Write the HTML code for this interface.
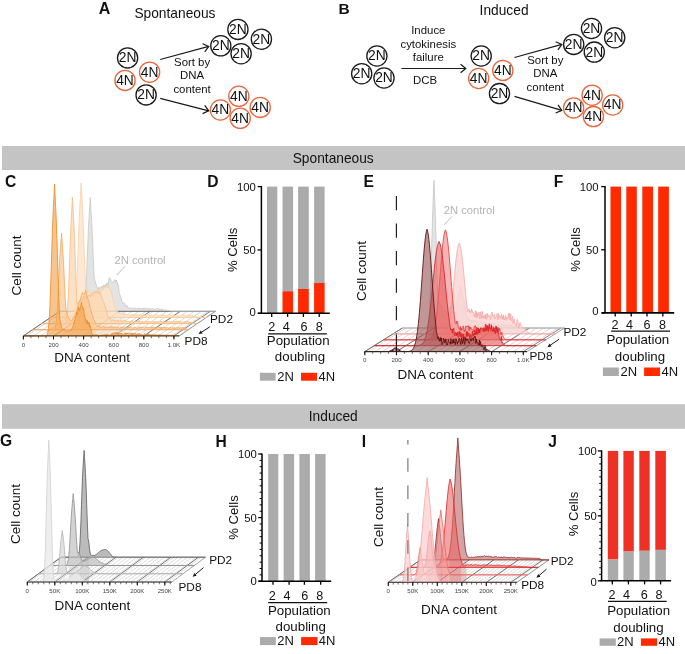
<!DOCTYPE html><html><head><meta charset="utf-8"><style>html,body{margin:0;padding:0;background:#fff;}svg{display:block;will-change:transform;} text{font-family:"Liberation Sans", sans-serif;}</style></head><body>
<svg width="685" height="654" viewBox="0 0 685 654">
<rect width="685" height="654" fill="#fff"/>
<text transform="translate(98.80,13.80)" font-size="16" text-anchor="start" font-weight="bold" fill="#111" >A</text>
<text transform="translate(134.40,17.80)" font-size="13.75" text-anchor="start" font-weight="normal" fill="#111" >Spontaneous</text>
<circle cx="127.6" cy="57.9" r="10.1" fill="none" stroke="#1a1a1a" stroke-width="1.3"/>
<text transform="translate(127.60,62.35) scale(0.960,1)" font-size="14.4" text-anchor="middle" font-weight="normal" fill="#111" >2N</text>
<circle cx="149.6" cy="72.2" r="10.1" fill="none" stroke="#e8673c" stroke-width="1.3"/>
<text transform="translate(149.60,76.65) scale(0.960,1)" font-size="14.4" text-anchor="middle" font-weight="normal" fill="#111" >4N</text>
<circle cx="125" cy="80.4" r="10.1" fill="none" stroke="#e8673c" stroke-width="1.3"/>
<text transform="translate(125.00,84.85) scale(0.960,1)" font-size="14.4" text-anchor="middle" font-weight="normal" fill="#111" >4N</text>
<circle cx="146.1" cy="94.9" r="10.1" fill="none" stroke="#1a1a1a" stroke-width="1.3"/>
<text transform="translate(146.10,99.35) scale(0.960,1)" font-size="14.4" text-anchor="middle" font-weight="normal" fill="#111" >2N</text>
<circle cx="237.9" cy="29.4" r="10.1" fill="none" stroke="#1a1a1a" stroke-width="1.3"/>
<text transform="translate(237.90,33.85) scale(0.960,1)" font-size="14.4" text-anchor="middle" font-weight="normal" fill="#111" >2N</text>
<circle cx="220.8" cy="45.8" r="10.1" fill="none" stroke="#1a1a1a" stroke-width="1.3"/>
<text transform="translate(220.80,50.25) scale(0.960,1)" font-size="14.4" text-anchor="middle" font-weight="normal" fill="#111" >2N</text>
<circle cx="241.1" cy="53.7" r="10.1" fill="none" stroke="#1a1a1a" stroke-width="1.3"/>
<text transform="translate(241.10,58.15) scale(0.960,1)" font-size="14.4" text-anchor="middle" font-weight="normal" fill="#111" >2N</text>
<circle cx="261.4" cy="39.2" r="10.1" fill="none" stroke="#1a1a1a" stroke-width="1.3"/>
<text transform="translate(261.40,43.65) scale(0.960,1)" font-size="14.4" text-anchor="middle" font-weight="normal" fill="#111" >2N</text>
<circle cx="238.8" cy="96.3" r="10.1" fill="none" stroke="#e8673c" stroke-width="1.3"/>
<text transform="translate(238.80,100.75) scale(0.960,1)" font-size="14.4" text-anchor="middle" font-weight="normal" fill="#111" >4N</text>
<circle cx="220.4" cy="110" r="10.1" fill="none" stroke="#e8673c" stroke-width="1.3"/>
<text transform="translate(220.40,114.45) scale(0.960,1)" font-size="14.4" text-anchor="middle" font-weight="normal" fill="#111" >4N</text>
<circle cx="240.2" cy="118.3" r="10.1" fill="none" stroke="#e8673c" stroke-width="1.3"/>
<text transform="translate(240.20,122.75) scale(0.960,1)" font-size="14.4" text-anchor="middle" font-weight="normal" fill="#111" >4N</text>
<circle cx="260.2" cy="107.4" r="10.1" fill="none" stroke="#e8673c" stroke-width="1.3"/>
<text transform="translate(260.20,111.85) scale(0.960,1)" font-size="14.4" text-anchor="middle" font-weight="normal" fill="#111" >4N</text>
<line x1="160.2" y1="59.5" x2="208.7" y2="46.4" stroke="#1a1a1a" stroke-width="1.2"/>
<polyline points="204.77,51.83 208.7,46.4 202.57,43.69" fill="none" stroke="#1a1a1a" stroke-width="1.2"/>
<line x1="160.2" y1="98.3" x2="208.7" y2="110.8" stroke="#1a1a1a" stroke-width="1.2"/>
<polyline points="202.61,113.58 208.7,110.8 204.71,105.42" fill="none" stroke="#1a1a1a" stroke-width="1.2"/>
<text transform="translate(192.10,65.60)" font-size="11.4" text-anchor="middle" font-weight="normal" fill="#111" >Sort by</text>
<text transform="translate(192.10,79.30)" font-size="11.4" text-anchor="middle" font-weight="normal" fill="#111" >DNA</text>
<text transform="translate(192.10,92.90)" font-size="11.4" text-anchor="middle" font-weight="normal" fill="#111" >content</text>
<text transform="translate(338.40,13.60)" font-size="15.5" text-anchor="start" font-weight="bold" fill="#111" >B</text>
<text transform="translate(479.60,14.60)" font-size="13.75" text-anchor="start" font-weight="normal" fill="#111" >Induced</text>
<circle cx="376.9" cy="56" r="10.1" fill="none" stroke="#1a1a1a" stroke-width="1.3"/>
<text transform="translate(376.90,60.45) scale(0.960,1)" font-size="14.4" text-anchor="middle" font-weight="normal" fill="#111" >2N</text>
<circle cx="361.7" cy="73.7" r="10.1" fill="none" stroke="#1a1a1a" stroke-width="1.3"/>
<text transform="translate(361.70,78.15) scale(0.960,1)" font-size="14.4" text-anchor="middle" font-weight="normal" fill="#111" >2N</text>
<circle cx="384" cy="78" r="10.1" fill="none" stroke="#1a1a1a" stroke-width="1.3"/>
<text transform="translate(384.00,82.45) scale(0.960,1)" font-size="14.4" text-anchor="middle" font-weight="normal" fill="#111" >2N</text>
<circle cx="481.2" cy="56" r="10.1" fill="none" stroke="#1a1a1a" stroke-width="1.3"/>
<text transform="translate(481.20,60.45) scale(0.960,1)" font-size="14.4" text-anchor="middle" font-weight="normal" fill="#111" >2N</text>
<circle cx="478.7" cy="78.5" r="10.1" fill="none" stroke="#e8673c" stroke-width="1.3"/>
<text transform="translate(478.70,82.95) scale(0.960,1)" font-size="14.4" text-anchor="middle" font-weight="normal" fill="#111" >4N</text>
<circle cx="502.8" cy="70.4" r="10.1" fill="none" stroke="#e8673c" stroke-width="1.3"/>
<text transform="translate(502.80,74.85) scale(0.960,1)" font-size="14.4" text-anchor="middle" font-weight="normal" fill="#111" >4N</text>
<circle cx="499.5" cy="93.6" r="10.1" fill="none" stroke="#1a1a1a" stroke-width="1.3"/>
<text transform="translate(499.50,98.05) scale(0.960,1)" font-size="14.4" text-anchor="middle" font-weight="normal" fill="#111" >2N</text>
<circle cx="591.5" cy="28.5" r="10.1" fill="none" stroke="#1a1a1a" stroke-width="1.3"/>
<text transform="translate(591.50,32.95) scale(0.960,1)" font-size="14.4" text-anchor="middle" font-weight="normal" fill="#111" >2N</text>
<circle cx="573.7" cy="44.4" r="10.1" fill="none" stroke="#1a1a1a" stroke-width="1.3"/>
<text transform="translate(573.70,48.85) scale(0.960,1)" font-size="14.4" text-anchor="middle" font-weight="normal" fill="#111" >2N</text>
<circle cx="594.3" cy="52.1" r="10.1" fill="none" stroke="#1a1a1a" stroke-width="1.3"/>
<text transform="translate(594.30,56.55) scale(0.960,1)" font-size="14.4" text-anchor="middle" font-weight="normal" fill="#111" >2N</text>
<circle cx="614.7" cy="37.7" r="10.1" fill="none" stroke="#1a1a1a" stroke-width="1.3"/>
<text transform="translate(614.70,42.15) scale(0.960,1)" font-size="14.4" text-anchor="middle" font-weight="normal" fill="#111" >2N</text>
<circle cx="592.1" cy="95.2" r="10.1" fill="none" stroke="#e8673c" stroke-width="1.3"/>
<text transform="translate(592.10,99.65) scale(0.960,1)" font-size="14.4" text-anchor="middle" font-weight="normal" fill="#111" >4N</text>
<circle cx="573.6" cy="107.9" r="10.1" fill="none" stroke="#e8673c" stroke-width="1.3"/>
<text transform="translate(573.60,112.35) scale(0.960,1)" font-size="14.4" text-anchor="middle" font-weight="normal" fill="#111" >4N</text>
<circle cx="593.4" cy="116.6" r="10.1" fill="none" stroke="#e8673c" stroke-width="1.3"/>
<text transform="translate(593.40,121.05) scale(0.960,1)" font-size="14.4" text-anchor="middle" font-weight="normal" fill="#111" >4N</text>
<circle cx="612.7" cy="105" r="10.1" fill="none" stroke="#e8673c" stroke-width="1.3"/>
<text transform="translate(612.70,109.45) scale(0.960,1)" font-size="14.4" text-anchor="middle" font-weight="normal" fill="#111" >4N</text>
<line x1="401.4" y1="68.5" x2="465.8" y2="68.5" stroke="#1a1a1a" stroke-width="1.2"/>
<polyline points="460.59,72.72 465.8,68.5 460.59,64.28" fill="none" stroke="#1a1a1a" stroke-width="1.2"/>
<line x1="514.5" y1="57.5" x2="561.8" y2="44.4" stroke="#1a1a1a" stroke-width="1.2"/>
<polyline points="557.91,49.85 561.8,44.4 555.66,41.73" fill="none" stroke="#1a1a1a" stroke-width="1.2"/>
<line x1="514.5" y1="96.4" x2="561.8" y2="110.4" stroke="#1a1a1a" stroke-width="1.2"/>
<polyline points="555.61,112.97 561.8,110.4 558.00,104.88" fill="none" stroke="#1a1a1a" stroke-width="1.2"/>
<text transform="translate(428.30,33.70)" font-size="11.4" text-anchor="middle" font-weight="normal" fill="#111" >Induce</text>
<text transform="translate(428.30,47.50)" font-size="11.4" text-anchor="middle" font-weight="normal" fill="#111" >cytokinesis</text>
<text transform="translate(428.30,60.90)" font-size="11.4" text-anchor="middle" font-weight="normal" fill="#111" >failure</text>
<text transform="translate(425.00,83.80)" font-size="11.4" text-anchor="middle" font-weight="normal" fill="#111" >DCB</text>
<text transform="translate(545.30,64.20)" font-size="11.4" text-anchor="middle" font-weight="normal" fill="#111" >Sort by</text>
<text transform="translate(545.30,77.40)" font-size="11.4" text-anchor="middle" font-weight="normal" fill="#111" >DNA</text>
<text transform="translate(545.30,90.50)" font-size="11.4" text-anchor="middle" font-weight="normal" fill="#111" >content</text>
<rect x="2" y="146" width="683" height="24" fill="#c4c4c4"/>
<text transform="translate(292.70,162.80)" font-size="13.75" text-anchor="start" font-weight="normal" fill="#111" >Spontaneous</text>
<rect x="2" y="404.2" width="683" height="24.600000000000023" fill="#c4c4c4"/>
<text transform="translate(308.80,420.90)" font-size="13.75" text-anchor="start" font-weight="normal" fill="#111" >Induced</text>
<text transform="translate(207.20,186.90)" font-size="15.6" text-anchor="start" font-weight="bold" fill="#111" >D</text>
<rect x="267" y="186.6" width="10.30" height="126.70" fill="#ababab"/>
<rect x="282.5" y="186.6" width="10.60" height="104.65" fill="#ababab"/>
<rect x="282.5" y="291.25" width="10.60" height="22.05" fill="#ff2a00"/>
<rect x="298.1" y="186.6" width="10.70" height="102.37" fill="#ababab"/>
<rect x="298.1" y="288.97" width="10.70" height="24.33" fill="#ff2a00"/>
<rect x="314.1" y="186.6" width="10.50" height="96.42" fill="#ababab"/>
<rect x="314.1" y="283.02" width="10.50" height="30.28" fill="#ff2a00"/>
<line x1="261.4" y1="186.0" x2="261.4" y2="313.3" stroke="#000" stroke-width="1.5"/>
<line x1="258.1" y1="313.3" x2="329.8" y2="313.3" stroke="#000" stroke-width="1.6"/>
<line x1="257.59999999999997" y1="313.30" x2="261.4" y2="313.30" stroke="#000" stroke-width="1.3"/>
<line x1="257.59999999999997" y1="249.95" x2="261.4" y2="249.95" stroke="#000" stroke-width="1.3"/>
<line x1="257.59999999999997" y1="186.60" x2="261.4" y2="186.60" stroke="#000" stroke-width="1.3"/>
<text transform="translate(255.80,190.50) scale(1.030,1)" font-size="11" text-anchor="end" font-weight="normal" fill="#111" >100</text>
<text transform="translate(255.80,253.85) scale(1.030,1)" font-size="11" text-anchor="end" font-weight="normal" fill="#111" >50</text>
<text transform="translate(255.80,315.70) scale(1.030,1)" font-size="11" text-anchor="end" font-weight="normal" fill="#111" >0</text>
<line x1="271.7" y1="313.3" x2="271.7" y2="316.90000000000003" stroke="#000" stroke-width="1.3"/>
<line x1="287.6" y1="313.3" x2="287.6" y2="316.90000000000003" stroke="#000" stroke-width="1.3"/>
<line x1="303.4" y1="313.3" x2="303.4" y2="316.90000000000003" stroke="#000" stroke-width="1.3"/>
<line x1="319.2" y1="313.3" x2="319.2" y2="316.90000000000003" stroke="#000" stroke-width="1.3"/>
<text transform="translate(271.70,331.00)" font-size="12.6" text-anchor="middle" font-weight="normal" fill="#111" >2</text>
<text transform="translate(286.30,331.00)" font-size="12.6" text-anchor="middle" font-weight="normal" fill="#111" >4</text>
<text transform="translate(304.00,331.00)" font-size="12.6" text-anchor="middle" font-weight="normal" fill="#111" >6</text>
<text transform="translate(319.20,331.00)" font-size="12.6" text-anchor="middle" font-weight="normal" fill="#111" >8</text>
<line x1="268.2" y1="333.9" x2="326.9" y2="333.9" stroke="#111" stroke-width="1.2"/>
<text transform="translate(298.20,345.20)" font-size="13.3" text-anchor="middle" font-weight="normal" fill="#111" >Population</text>
<text transform="translate(300.00,360.80)" font-size="13.3" text-anchor="middle" font-weight="normal" fill="#111" >doubling</text>
<rect x="259.9" y="372.8" width="15.70" height="7.90" fill="#ababab"/>
<rect x="301" y="372.8" width="16.00" height="7.90" fill="#ff2a00"/>
<text transform="translate(277.20,381.00)" font-size="13.0" text-anchor="start" font-weight="normal" fill="#111" >2N</text>
<text transform="translate(318.40,381.00)" font-size="13.0" text-anchor="start" font-weight="normal" fill="#111" >4N</text>
<text transform="translate(237.00,249.80) rotate(-90)" font-size="13.1" text-anchor="middle" font-weight="normal" fill="#111" >% Cells</text>
<text transform="translate(553.80,186.90)" font-size="15.6" text-anchor="start" font-weight="bold" fill="#111" >F</text>
<rect x="610.5" y="186.6" width="10.50" height="0.00" fill="#ababab"/>
<rect x="610.5" y="186.60" width="10.50" height="126.30" fill="#ff2a00"/>
<rect x="626.3" y="186.6" width="10.50" height="0.00" fill="#ababab"/>
<rect x="626.3" y="186.60" width="10.50" height="126.30" fill="#ff2a00"/>
<rect x="642.3" y="186.6" width="10.70" height="0.00" fill="#ababab"/>
<rect x="642.3" y="186.60" width="10.70" height="126.30" fill="#ff2a00"/>
<rect x="658.2" y="186.6" width="10.70" height="0.00" fill="#ababab"/>
<rect x="658.2" y="186.60" width="10.70" height="126.30" fill="#ff2a00"/>
<line x1="605" y1="186.0" x2="605" y2="312.9" stroke="#000" stroke-width="1.5"/>
<line x1="601.8" y1="312.9" x2="674.2" y2="312.9" stroke="#000" stroke-width="1.6"/>
<line x1="601.2" y1="312.90" x2="605" y2="312.90" stroke="#000" stroke-width="1.3"/>
<line x1="601.2" y1="249.75" x2="605" y2="249.75" stroke="#000" stroke-width="1.3"/>
<line x1="601.2" y1="186.60" x2="605" y2="186.60" stroke="#000" stroke-width="1.3"/>
<text transform="translate(598.60,190.50) scale(1.030,1)" font-size="11" text-anchor="end" font-weight="normal" fill="#111" >100</text>
<text transform="translate(598.60,253.65) scale(1.030,1)" font-size="11" text-anchor="end" font-weight="normal" fill="#111" >50</text>
<text transform="translate(598.60,315.00) scale(1.030,1)" font-size="11" text-anchor="end" font-weight="normal" fill="#111" >0</text>
<line x1="615.2" y1="312.9" x2="615.2" y2="316.5" stroke="#000" stroke-width="1.3"/>
<line x1="631.2" y1="312.9" x2="631.2" y2="316.5" stroke="#000" stroke-width="1.3"/>
<line x1="647" y1="312.9" x2="647" y2="316.5" stroke="#000" stroke-width="1.3"/>
<line x1="662.8" y1="312.9" x2="662.8" y2="316.5" stroke="#000" stroke-width="1.3"/>
<text transform="translate(615.00,328.90)" font-size="12.6" text-anchor="middle" font-weight="normal" fill="#111" >2</text>
<text transform="translate(629.50,328.90)" font-size="12.6" text-anchor="middle" font-weight="normal" fill="#111" >4</text>
<text transform="translate(647.00,328.90)" font-size="12.6" text-anchor="middle" font-weight="normal" fill="#111" >6</text>
<text transform="translate(662.50,328.90)" font-size="12.6" text-anchor="middle" font-weight="normal" fill="#111" >8</text>
<line x1="611.1" y1="331.2" x2="670" y2="331.2" stroke="#111" stroke-width="1.2"/>
<text transform="translate(637.80,344.40)" font-size="13.3" text-anchor="middle" font-weight="normal" fill="#111" >Population</text>
<text transform="translate(640.00,360.60)" font-size="13.3" text-anchor="middle" font-weight="normal" fill="#111" >doubling</text>
<rect x="602.9" y="367.5" width="15.90" height="8.50" fill="#ababab"/>
<rect x="644.1" y="367.5" width="15.90" height="8.50" fill="#ff2a00"/>
<text transform="translate(620.40,376.30)" font-size="13.0" text-anchor="start" font-weight="normal" fill="#111" >2N</text>
<text transform="translate(661.50,376.30)" font-size="13.0" text-anchor="start" font-weight="normal" fill="#111" >4N</text>
<text transform="translate(580.00,249.50) rotate(-90)" font-size="13.1" text-anchor="middle" font-weight="normal" fill="#111" >% Cells</text>
<text transform="translate(215.40,446.50)" font-size="15.6" text-anchor="start" font-weight="bold" fill="#111" >H</text>
<rect x="268.2" y="454" width="10.10" height="127.20" fill="#ababab"/>
<rect x="283.6" y="454" width="10.50" height="127.20" fill="#ababab"/>
<rect x="299.4" y="454" width="10.50" height="127.20" fill="#ababab"/>
<rect x="315.1" y="454" width="10.50" height="127.20" fill="#ababab"/>
<line x1="262" y1="453.4" x2="262" y2="581.2" stroke="#000" stroke-width="1.5"/>
<line x1="258.6" y1="581.2" x2="331.2" y2="581.2" stroke="#000" stroke-width="1.6"/>
<line x1="258.2" y1="581.20" x2="262" y2="581.20" stroke="#000" stroke-width="1.3"/>
<line x1="258.2" y1="517.60" x2="262" y2="517.60" stroke="#000" stroke-width="1.3"/>
<line x1="258.2" y1="454.00" x2="262" y2="454.00" stroke="#000" stroke-width="1.3"/>
<line x1="259.6" y1="574.84" x2="262" y2="574.84" stroke="#000" stroke-width="1.0"/>
<line x1="259.6" y1="568.48" x2="262" y2="568.48" stroke="#000" stroke-width="1.0"/>
<line x1="259.6" y1="562.12" x2="262" y2="562.12" stroke="#000" stroke-width="1.0"/>
<line x1="259.6" y1="555.76" x2="262" y2="555.76" stroke="#000" stroke-width="1.0"/>
<line x1="259.6" y1="549.40" x2="262" y2="549.40" stroke="#000" stroke-width="1.0"/>
<line x1="259.6" y1="543.04" x2="262" y2="543.04" stroke="#000" stroke-width="1.0"/>
<line x1="259.6" y1="536.68" x2="262" y2="536.68" stroke="#000" stroke-width="1.0"/>
<line x1="259.6" y1="530.32" x2="262" y2="530.32" stroke="#000" stroke-width="1.0"/>
<line x1="259.6" y1="523.96" x2="262" y2="523.96" stroke="#000" stroke-width="1.0"/>
<line x1="259.6" y1="511.24" x2="262" y2="511.24" stroke="#000" stroke-width="1.0"/>
<line x1="259.6" y1="504.88" x2="262" y2="504.88" stroke="#000" stroke-width="1.0"/>
<line x1="259.6" y1="498.52" x2="262" y2="498.52" stroke="#000" stroke-width="1.0"/>
<line x1="259.6" y1="492.16" x2="262" y2="492.16" stroke="#000" stroke-width="1.0"/>
<line x1="259.6" y1="485.80" x2="262" y2="485.80" stroke="#000" stroke-width="1.0"/>
<line x1="259.6" y1="479.44" x2="262" y2="479.44" stroke="#000" stroke-width="1.0"/>
<line x1="259.6" y1="473.08" x2="262" y2="473.08" stroke="#000" stroke-width="1.0"/>
<line x1="259.6" y1="466.72" x2="262" y2="466.72" stroke="#000" stroke-width="1.0"/>
<line x1="259.6" y1="460.36" x2="262" y2="460.36" stroke="#000" stroke-width="1.0"/>
<text transform="translate(256.80,457.90) scale(1.030,1)" font-size="11" text-anchor="end" font-weight="normal" fill="#111" >100</text>
<text transform="translate(256.80,521.50) scale(1.030,1)" font-size="11" text-anchor="end" font-weight="normal" fill="#111" >50</text>
<text transform="translate(256.80,585.10) scale(1.030,1)" font-size="11" text-anchor="end" font-weight="normal" fill="#111" >0</text>
<line x1="273" y1="581.2" x2="273" y2="584.8000000000001" stroke="#000" stroke-width="1.3"/>
<line x1="289.1" y1="581.2" x2="289.1" y2="584.8000000000001" stroke="#000" stroke-width="1.3"/>
<line x1="304.4" y1="581.2" x2="304.4" y2="584.8000000000001" stroke="#000" stroke-width="1.3"/>
<line x1="320.7" y1="581.2" x2="320.7" y2="584.8000000000001" stroke="#000" stroke-width="1.3"/>
<text transform="translate(272.20,599.80)" font-size="12.6" text-anchor="middle" font-weight="normal" fill="#111" >2</text>
<text transform="translate(287.10,599.80)" font-size="12.6" text-anchor="middle" font-weight="normal" fill="#111" >4</text>
<text transform="translate(304.70,599.80)" font-size="12.6" text-anchor="middle" font-weight="normal" fill="#111" >6</text>
<text transform="translate(319.70,599.80)" font-size="12.6" text-anchor="middle" font-weight="normal" fill="#111" >8</text>
<line x1="268.2" y1="602.7" x2="327.2" y2="602.7" stroke="#111" stroke-width="1.2"/>
<text transform="translate(299.30,615.10)" font-size="13.3" text-anchor="middle" font-weight="normal" fill="#111" >Population</text>
<text transform="translate(300.70,631.00)" font-size="13.3" text-anchor="middle" font-weight="normal" fill="#111" >doubling</text>
<rect x="260" y="637.1" width="15.80" height="8.00" fill="#ababab"/>
<rect x="301.1" y="637.1" width="16.40" height="8.00" fill="#ff2a00"/>
<text transform="translate(277.30,645.40)" font-size="13.0" text-anchor="start" font-weight="normal" fill="#111" >2N</text>
<text transform="translate(318.80,645.40)" font-size="13.0" text-anchor="start" font-weight="normal" fill="#111" >4N</text>
<text transform="translate(238.40,517.50) rotate(-90)" font-size="13.1" text-anchor="middle" font-weight="normal" fill="#111" >% Cells</text>
<text transform="translate(548.20,446.90)" font-size="15.6" text-anchor="start" font-weight="bold" fill="#111" >J</text>
<rect x="607.8" y="450.9" width="10.40" height="108.60" fill="#ee3124"/>
<rect x="607.8" y="559.50" width="10.40" height="21.30" fill="#ababab"/>
<rect x="623.4" y="450.9" width="10.40" height="100.67" fill="#ee3124"/>
<rect x="623.4" y="551.57" width="10.40" height="29.23" fill="#ababab"/>
<rect x="639.3" y="450.9" width="10.40" height="99.89" fill="#ee3124"/>
<rect x="639.3" y="550.79" width="10.40" height="30.01" fill="#ababab"/>
<rect x="655.3" y="450.9" width="10.60" height="98.98" fill="#ee3124"/>
<rect x="655.3" y="549.88" width="10.60" height="30.92" fill="#ababab"/>
<line x1="601.6" y1="450.29999999999995" x2="601.6" y2="580.8" stroke="#000" stroke-width="1.5"/>
<line x1="600.5" y1="580.8" x2="671.1" y2="580.8" stroke="#000" stroke-width="1.6"/>
<line x1="597.8000000000001" y1="580.80" x2="601.6" y2="580.80" stroke="#000" stroke-width="1.3"/>
<line x1="597.8000000000001" y1="515.85" x2="601.6" y2="515.85" stroke="#000" stroke-width="1.3"/>
<line x1="597.8000000000001" y1="450.90" x2="601.6" y2="450.90" stroke="#000" stroke-width="1.3"/>
<line x1="599.2" y1="574.30" x2="601.6" y2="574.30" stroke="#000" stroke-width="1.0"/>
<line x1="599.2" y1="567.81" x2="601.6" y2="567.81" stroke="#000" stroke-width="1.0"/>
<line x1="599.2" y1="561.31" x2="601.6" y2="561.31" stroke="#000" stroke-width="1.0"/>
<line x1="599.2" y1="554.82" x2="601.6" y2="554.82" stroke="#000" stroke-width="1.0"/>
<line x1="599.2" y1="548.32" x2="601.6" y2="548.32" stroke="#000" stroke-width="1.0"/>
<line x1="599.2" y1="541.83" x2="601.6" y2="541.83" stroke="#000" stroke-width="1.0"/>
<line x1="599.2" y1="535.33" x2="601.6" y2="535.33" stroke="#000" stroke-width="1.0"/>
<line x1="599.2" y1="528.84" x2="601.6" y2="528.84" stroke="#000" stroke-width="1.0"/>
<line x1="599.2" y1="522.34" x2="601.6" y2="522.34" stroke="#000" stroke-width="1.0"/>
<line x1="599.2" y1="509.35" x2="601.6" y2="509.35" stroke="#000" stroke-width="1.0"/>
<line x1="599.2" y1="502.86" x2="601.6" y2="502.86" stroke="#000" stroke-width="1.0"/>
<line x1="599.2" y1="496.36" x2="601.6" y2="496.36" stroke="#000" stroke-width="1.0"/>
<line x1="599.2" y1="489.87" x2="601.6" y2="489.87" stroke="#000" stroke-width="1.0"/>
<line x1="599.2" y1="483.38" x2="601.6" y2="483.38" stroke="#000" stroke-width="1.0"/>
<line x1="599.2" y1="476.88" x2="601.6" y2="476.88" stroke="#000" stroke-width="1.0"/>
<line x1="599.2" y1="470.38" x2="601.6" y2="470.38" stroke="#000" stroke-width="1.0"/>
<line x1="599.2" y1="463.89" x2="601.6" y2="463.89" stroke="#000" stroke-width="1.0"/>
<line x1="599.2" y1="457.39" x2="601.6" y2="457.39" stroke="#000" stroke-width="1.0"/>
<text transform="translate(596.90,454.80) scale(1.030,1)" font-size="11" text-anchor="end" font-weight="normal" fill="#111" >100</text>
<text transform="translate(596.90,519.75) scale(1.030,1)" font-size="11" text-anchor="end" font-weight="normal" fill="#111" >50</text>
<text transform="translate(596.90,585.60) scale(1.030,1)" font-size="11" text-anchor="end" font-weight="normal" fill="#111" >0</text>
<line x1="612.3" y1="580.8" x2="612.3" y2="584.4" stroke="#000" stroke-width="1.3"/>
<line x1="628.4" y1="580.8" x2="628.4" y2="584.4" stroke="#000" stroke-width="1.3"/>
<line x1="644.6" y1="580.8" x2="644.6" y2="584.4" stroke="#000" stroke-width="1.3"/>
<line x1="660.6" y1="580.8" x2="660.6" y2="584.4" stroke="#000" stroke-width="1.3"/>
<text transform="translate(611.90,598.90)" font-size="12.6" text-anchor="middle" font-weight="normal" fill="#111" >2</text>
<text transform="translate(626.60,598.90)" font-size="12.6" text-anchor="middle" font-weight="normal" fill="#111" >4</text>
<text transform="translate(644.30,598.90)" font-size="12.6" text-anchor="middle" font-weight="normal" fill="#111" >6</text>
<text transform="translate(659.00,598.90)" font-size="12.6" text-anchor="middle" font-weight="normal" fill="#111" >8</text>
<line x1="608" y1="601.3" x2="666.7" y2="601.3" stroke="#111" stroke-width="1.2"/>
<text transform="translate(638.60,615.30)" font-size="13.3" text-anchor="middle" font-weight="normal" fill="#111" >Population</text>
<text transform="translate(638.50,631.50)" font-size="13.3" text-anchor="middle" font-weight="normal" fill="#111" >doubling</text>
<rect x="599.6" y="638.4" width="16.20" height="7.40" fill="#ababab"/>
<rect x="640.9" y="638.4" width="16.20" height="7.40" fill="#ff2a00"/>
<text transform="translate(617.10,646.10)" font-size="13.0" text-anchor="start" font-weight="normal" fill="#111" >2N</text>
<text transform="translate(658.60,646.10)" font-size="13.0" text-anchor="start" font-weight="normal" fill="#111" >4N</text>
<text transform="translate(578.00,514.00) rotate(-90)" font-size="13.1" text-anchor="middle" font-weight="normal" fill="#111" >% Cells</text>
<text transform="translate(5.00,186.70)" font-size="15.6" text-anchor="start" font-weight="bold" fill="#111" >C</text>
<text transform="translate(21.40,265.50) rotate(-90)" font-size="13.5" text-anchor="middle" font-weight="normal" fill="#111" >Cell count</text>
<text transform="translate(92.20,361.90)" font-size="13.5" text-anchor="middle" font-weight="normal" fill="#111" >DNA content</text>
<polygon points="23.4,335.9 179.2,335.9 215.60,311.30 59.80,311.30" fill="#ffffff" stroke="none"/>
<path d="M26.85,335.9l36.40,-24.60M33.75,335.9l36.40,-24.60M40.65,335.9l36.40,-24.60M47.55,335.9l36.40,-24.60M54.45,335.9l36.40,-24.60M61.35,335.9l36.40,-24.60M68.25,335.9l36.40,-24.60M75.15,335.9l36.40,-24.60M82.05,335.9l36.40,-24.60M88.95,335.9l36.40,-24.60M95.85,335.9l36.40,-24.60M102.75,335.9l36.40,-24.60M109.65,335.9l36.40,-24.60M116.55,335.9l36.40,-24.60M123.45,335.9l36.40,-24.60M130.35,335.9l36.40,-24.60M137.25,335.9l36.40,-24.60M144.15,335.9l36.40,-24.60M151.05,335.9l36.40,-24.60M157.95,335.9l36.40,-24.60M164.85,335.9l36.40,-24.60M171.75,335.9l36.40,-24.60M178.65,335.9l36.40,-24.60" stroke="#b4b4b4" stroke-width="0.5" fill="none"/>
<path d="M23.40,335.9l36.40,-24.60M53.50,335.9l36.40,-24.60M83.60,335.9l36.40,-24.60M113.70,335.9l36.40,-24.60M143.80,335.9l36.40,-24.60M173.90,335.9l36.40,-24.60" stroke="#444" stroke-width="0.7" fill="none"/>
<line x1="23.4" y1="335.9" x2="59.80" y2="311.30" stroke="#666" stroke-width="0.6"/>
<line x1="179.2" y1="335.9" x2="215.60" y2="311.30" stroke="#666" stroke-width="0.6"/>
<polygon points="84.8,311.3 125.7,311.3 125.7,335.9 84.8,335.9" fill="#dadada" fill-opacity="0.35"/>
<polygon points="75.2,317.4 117.1,317.4 117.1,335.9 75.2,335.9" fill="#fde4c8" fill-opacity="0.35"/>
<polygon points="67.1,323.6 108.5,323.6 108.5,335.9 67.1,335.9" fill="#fcd7b0" fill-opacity="0.35"/>
<polygon points="56.5,329.8 95.4,329.8 95.4,335.9 56.5,335.9" fill="#f9c690" fill-opacity="0.35"/>
<polygon points="59.8,311.3 59.8,311.3 60.3,311.3 60.8,311.3 61.3,311.3 61.8,311.3 62.3,311.3 62.8,311.3 63.3,311.3 63.8,311.3 64.3,311.3 64.8,311.3 65.3,311.3 65.8,311.3 66.3,311.3 66.8,311.3 67.3,311.3 67.8,311.3 68.3,311.3 68.8,311.3 69.3,311.3 69.8,311.3 70.3,311.3 70.8,311.3 71.3,311.3 71.8,311.3 72.3,311.3 72.8,311.3 73.3,311.3 73.8,311.3 74.3,311.3 74.8,311.3 75.3,311.3 75.8,311.3 76.3,311.3 76.8,311.3 77.3,311.3 77.8,311.3 78.3,311.3 78.8,311.3 79.3,311.3 79.8,311.3 80.3,311.3 80.8,311.3 81.3,311.3 81.8,311.2 82.3,311.1 82.8,310.9 83.3,310.3 83.8,309.2 84.3,307.2 84.8,303.8 85.3,298.6 85.8,291.2 86.3,281.5 86.8,269.8 87.3,256.9 87.8,243.8 88.3,231.7 88.8,221.2 89.3,212.7 89.8,205.1 90.2,197.5 90.3,198.7 90.8,207.0 91.3,214.6 91.8,223.6 92.3,234.5 92.8,247.0 93.3,260.1 93.8,270.7 94.3,278.1 94.8,280.2 95.3,281.8 95.8,283.4 96.3,285.0 96.8,286.5 97.3,288.1 97.8,288.8 98.3,289.8 98.8,287.3 99.2,287.3 99.7,288.8 100.2,287.8 100.7,287.7 101.2,286.9 101.7,286.2 102.2,288.2 102.7,288.2 103.2,285.4 103.7,286.4 104.2,285.1 104.7,287.3 105.2,285.6 105.7,284.5 106.2,285.8 106.7,283.3 107.2,283.2 107.7,285.4 108.2,283.8 108.7,280.5 109.2,277.6 109.7,277.8 110.2,278.6 110.7,279.1 111.2,281.6 111.7,282.2 112.2,282.6 112.7,281.8 113.2,282.1 113.7,281.5 114.2,281.0 114.7,279.6 115.2,280.2 115.7,281.8 116.2,280.0 116.7,281.6 117.2,282.1 117.7,284.4 118.2,284.5 118.7,287.5 119.2,292.5 119.7,294.4 120.2,295.3 120.7,296.9 121.2,297.8 121.7,301.0 122.2,301.3 122.7,302.4 123.2,303.9 123.7,303.4 124.2,302.8 124.7,303.3 125.2,304.8 125.7,304.9 126.2,307.1 126.7,306.9 127.2,305.7 127.7,307.4 128.2,308.1 128.7,308.0 129.2,307.8 129.7,307.9 130.2,308.4 130.7,308.3 131.2,308.2 131.7,307.8 132.2,308.3 132.7,308.5 133.2,308.4 133.7,309.2 134.2,309.2 134.7,308.2 135.2,307.7 135.7,308.4 136.2,308.7 136.7,309.1 137.2,308.5 137.7,307.8 138.2,308.1 138.7,308.5 139.2,308.0 139.7,309.0 140.2,308.5 140.7,307.9 141.2,308.5 141.7,308.7 142.2,309.0 142.7,308.5 143.2,307.9 143.7,309.4 144.2,308.2 144.7,308.1 145.2,308.0 145.7,308.3 146.2,308.2 146.7,308.6 147.2,308.6 147.7,308.8 148.2,309.4 148.7,308.1 149.2,308.6 149.7,309.2 150.2,308.7 150.7,308.8 151.2,309.0 151.7,309.0 152.2,308.7 152.7,308.6 153.2,308.7 153.7,308.9 154.2,309.6 154.7,309.3 155.2,309.4 155.7,308.8 156.2,308.4 156.7,308.5 157.2,308.5 157.7,308.5 158.2,309.4 158.7,308.5 159.2,308.8 159.7,309.8 160.2,309.9 160.7,309.9 161.2,308.8 161.7,309.6 162.2,309.9 162.7,309.1 163.2,309.7 163.7,310.2 164.2,310.2 164.7,309.7 165.2,310.4 165.7,310.3 166.2,309.7 166.7,310.3 167.2,310.6 167.7,310.4 168.2,310.5 168.7,310.6 169.2,310.7 169.7,310.8 170.2,310.9 170.7,311.0 171.2,311.1 171.7,311.2 172.2,311.3 172.7,311.3 173.2,311.3 173.7,311.3 174.2,311.3 174.7,311.3 175.2,311.3 175.7,311.3 176.2,311.3 176.7,311.3 177.1,311.3 177.6,311.3 178.1,311.3 178.6,311.3 179.1,311.3 179.6,311.3 180.1,311.3 180.6,311.3 181.1,311.3 181.6,311.3 182.1,311.3 182.6,311.3 183.1,311.3 183.6,311.3 184.1,311.3 184.6,311.3 185.1,311.3 185.6,311.3 186.1,311.3 186.6,311.3 187.1,311.3 187.6,311.3 188.1,311.3 188.6,311.3 189.1,311.3 189.6,311.3 190.1,311.3 190.6,311.3 191.1,311.3 191.6,311.3 192.1,311.3 192.6,311.3 193.1,311.3 193.6,311.3 194.1,311.3 194.6,311.3 195.1,311.3 195.6,311.3 196.1,311.3 196.6,311.3 197.1,311.3 197.6,311.3 198.1,311.3 198.6,311.3 199.1,311.3 199.6,311.3 200.1,311.3 200.6,311.3 201.1,311.3 201.6,311.3 202.1,311.3 202.6,311.3 203.1,311.3 203.6,311.3 204.1,311.3 204.6,311.3 205.1,311.3 205.6,311.3 206.1,311.3 206.6,311.3 207.1,311.3 207.6,311.3 208.1,311.3 208.6,311.3 209.1,311.3 209.6,311.3 210.1,311.3 210.6,311.3 211.1,311.3 211.6,311.3 212.1,311.3 212.6,311.3 213.1,311.3 213.6,311.3 214.1,311.3 214.6,311.3 215.1,311.3 215.6,311.3 215.6,311.3" fill="#dadada" fill-opacity="0.75" stroke="none"/>
<line x1="59.80" y1="311.30" x2="215.60" y2="311.30" stroke="#555" stroke-width="0.9"/>
<polyline points="59.8,311.3 60.3,311.3 60.8,311.3 61.3,311.3 61.8,311.3 62.3,311.3 62.8,311.3 63.3,311.3 63.8,311.3 64.3,311.3 64.8,311.3 65.3,311.3 65.8,311.3 66.3,311.3 66.8,311.3 67.3,311.3 67.8,311.3 68.3,311.3 68.8,311.3 69.3,311.3 69.8,311.3 70.3,311.3 70.8,311.3 71.3,311.3 71.8,311.3 72.3,311.3 72.8,311.3 73.3,311.3 73.8,311.3 74.3,311.3 74.8,311.3 75.3,311.3 75.8,311.3 76.3,311.3 76.8,311.3 77.3,311.3 77.8,311.3 78.3,311.3 78.8,311.3 79.3,311.3 79.8,311.3 80.3,311.3 80.8,311.3 81.3,311.3 81.8,311.2 82.3,311.1 82.8,310.9 83.3,310.3 83.8,309.2 84.3,307.2 84.8,303.8 85.3,298.6 85.8,291.2 86.3,281.5 86.8,269.8 87.3,256.9 87.8,243.8 88.3,231.7 88.8,221.2 89.3,212.7 89.8,205.1 90.2,197.5 90.3,198.7 90.8,207.0 91.3,214.6 91.8,223.6 92.3,234.5 92.8,247.0 93.3,260.1 93.8,270.7 94.3,278.1 94.8,280.2 95.3,281.8 95.8,283.4 96.3,285.0 96.8,286.5 97.3,288.1 97.8,288.8 98.3,289.8 98.8,287.3 99.2,287.3 99.7,288.8 100.2,287.8 100.7,287.7 101.2,286.9 101.7,286.2 102.2,288.2 102.7,288.2 103.2,285.4 103.7,286.4 104.2,285.1 104.7,287.3 105.2,285.6 105.7,284.5 106.2,285.8 106.7,283.3 107.2,283.2 107.7,285.4 108.2,283.8 108.7,280.5 109.2,277.6 109.7,277.8 110.2,278.6 110.7,279.1 111.2,281.6 111.7,282.2 112.2,282.6 112.7,281.8 113.2,282.1 113.7,281.5 114.2,281.0 114.7,279.6 115.2,280.2 115.7,281.8 116.2,280.0 116.7,281.6 117.2,282.1 117.7,284.4 118.2,284.5 118.7,287.5 119.2,292.5 119.7,294.4 120.2,295.3 120.7,296.9 121.2,297.8 121.7,301.0 122.2,301.3 122.7,302.4 123.2,303.9 123.7,303.4 124.2,302.8 124.7,303.3 125.2,304.8 125.7,304.9 126.2,307.1 126.7,306.9 127.2,305.7 127.7,307.4 128.2,308.1 128.7,308.0 129.2,307.8 129.7,307.9 130.2,308.4 130.7,308.3 131.2,308.2 131.7,307.8 132.2,308.3 132.7,308.5 133.2,308.4 133.7,309.2 134.2,309.2 134.7,308.2 135.2,307.7 135.7,308.4 136.2,308.7 136.7,309.1 137.2,308.5 137.7,307.8 138.2,308.1 138.7,308.5 139.2,308.0 139.7,309.0 140.2,308.5 140.7,307.9 141.2,308.5 141.7,308.7 142.2,309.0 142.7,308.5 143.2,307.9 143.7,309.4 144.2,308.2 144.7,308.1 145.2,308.0 145.7,308.3 146.2,308.2 146.7,308.6 147.2,308.6 147.7,308.8 148.2,309.4 148.7,308.1 149.2,308.6 149.7,309.2 150.2,308.7 150.7,308.8 151.2,309.0 151.7,309.0 152.2,308.7 152.7,308.6 153.2,308.7 153.7,308.9 154.2,309.6 154.7,309.3 155.2,309.4 155.7,308.8 156.2,308.4 156.7,308.5 157.2,308.5 157.7,308.5 158.2,309.4 158.7,308.5 159.2,308.8 159.7,309.8 160.2,309.9 160.7,309.9 161.2,308.8 161.7,309.6 162.2,309.9 162.7,309.1 163.2,309.7 163.7,310.2 164.2,310.2 164.7,309.7 165.2,310.4 165.7,310.3 166.2,309.7 166.7,310.3 167.2,310.6 167.7,310.4 168.2,310.5 168.7,310.6 169.2,310.7 169.7,310.8 170.2,310.9 170.7,311.0 171.2,311.1 171.7,311.2 172.2,311.3 172.7,311.3 173.2,311.3 173.7,311.3 174.2,311.3 174.7,311.3 175.2,311.3 175.7,311.3 176.2,311.3 176.7,311.3 177.1,311.3 177.6,311.3 178.1,311.3 178.6,311.3 179.1,311.3 179.6,311.3 180.1,311.3 180.6,311.3 181.1,311.3 181.6,311.3 182.1,311.3 182.6,311.3 183.1,311.3 183.6,311.3 184.1,311.3 184.6,311.3 185.1,311.3 185.6,311.3 186.1,311.3 186.6,311.3 187.1,311.3 187.6,311.3 188.1,311.3 188.6,311.3 189.1,311.3 189.6,311.3 190.1,311.3 190.6,311.3 191.1,311.3 191.6,311.3 192.1,311.3 192.6,311.3 193.1,311.3 193.6,311.3 194.1,311.3 194.6,311.3 195.1,311.3 195.6,311.3 196.1,311.3 196.6,311.3 197.1,311.3 197.6,311.3 198.1,311.3 198.6,311.3 199.1,311.3 199.6,311.3 200.1,311.3 200.6,311.3 201.1,311.3 201.6,311.3 202.1,311.3 202.6,311.3 203.1,311.3 203.6,311.3 204.1,311.3 204.6,311.3 205.1,311.3 205.6,311.3 206.1,311.3 206.6,311.3 207.1,311.3 207.6,311.3 208.1,311.3 208.6,311.3 209.1,311.3 209.6,311.3 210.1,311.3 210.6,311.3 211.1,311.3 211.6,311.3 212.1,311.3 212.6,311.3 213.1,311.3 213.6,311.3 214.1,311.3 214.6,311.3 215.1,311.3 215.6,311.3" fill="none" stroke="#c6c6c6" stroke-width="0.8" stroke-linejoin="round"/>
<polygon points="50.7,317.4 50.7,317.4 51.2,317.4 51.7,317.4 52.2,317.4 52.7,317.4 53.2,317.4 53.7,317.4 54.2,317.4 54.7,317.4 55.2,317.4 55.7,317.4 56.2,317.4 56.7,317.4 57.2,317.4 57.7,317.4 58.2,317.4 58.7,317.4 59.2,317.4 59.7,317.4 60.2,317.4 60.7,317.4 61.2,317.4 61.7,317.4 62.2,317.4 62.7,317.4 63.2,317.4 63.7,317.4 64.2,317.4 64.7,317.4 65.2,317.4 65.7,317.4 66.2,317.4 66.7,317.4 67.2,317.4 67.7,317.4 68.2,317.4 68.7,317.4 69.2,317.4 69.7,317.4 70.2,317.4 70.7,317.4 71.2,317.4 71.7,317.4 72.2,317.4 72.7,317.2 73.2,316.9 73.7,316.3 74.2,315.1 74.7,313.0 75.2,309.5 75.7,304.3 76.2,296.8 76.7,287.0 77.2,275.1 77.7,261.4 78.2,247.0 78.7,232.8 79.2,219.9 79.7,208.9 80.2,199.7 80.7,191.4 81.1,182.9 81.2,184.3 81.7,193.5 82.2,201.8 82.7,211.4 83.2,222.9 83.7,236.2 84.2,250.5 84.7,264.8 85.2,278.2 85.7,289.7 86.2,290.8 86.7,290.5 87.2,293.3 87.7,292.8 88.2,289.9 88.7,290.5 89.2,291.0 89.7,292.5 90.1,291.7 90.6,291.9 91.1,292.2 91.6,294.0 92.1,293.3 92.6,293.7 93.1,292.5 93.6,291.4 94.1,291.4 94.6,292.6 95.1,292.8 95.6,293.3 96.1,294.0 96.6,293.8 97.1,292.1 97.6,292.3 98.1,291.9 98.6,289.8 99.1,290.8 99.6,290.5 100.1,291.4 100.6,291.9 101.1,290.6 101.6,291.0 102.1,289.4 102.6,287.4 103.1,288.3 103.6,289.8 104.1,287.0 104.6,287.1 105.1,287.1 105.6,286.3 106.1,286.6 106.6,286.3 107.1,287.7 107.6,285.2 108.1,285.1 108.6,288.0 109.1,286.7 109.6,287.7 110.1,289.5 110.6,290.3 111.1,292.0 111.6,292.0 112.1,295.1 112.6,296.0 113.1,299.5 113.6,301.8 114.1,304.1 114.6,306.4 115.1,308.3 115.6,309.1 116.1,309.8 116.6,310.6 117.1,311.2 117.6,311.7 118.1,312.4 118.6,312.0 119.1,312.4 119.6,313.7 120.1,313.9 120.6,313.3 121.1,313.7 121.6,314.2 122.1,314.7 122.6,314.6 123.1,314.0 123.6,315.0 124.1,313.7 124.6,314.9 125.1,313.8 125.6,314.9 126.1,313.8 126.6,314.3 127.1,314.7 127.6,314.7 128.1,314.5 128.6,314.7 129.1,315.2 129.6,315.5 130.1,315.0 130.6,314.2 131.1,314.8 131.6,315.8 132.1,314.4 132.6,314.6 133.1,314.3 133.6,315.6 134.1,314.6 134.6,315.8 135.1,314.8 135.6,315.5 136.1,315.5 136.6,314.4 137.1,315.8 137.6,315.0 138.1,314.4 138.6,315.5 139.1,315.6 139.6,314.4 140.1,315.2 140.6,314.7 141.1,315.9 141.6,315.3 142.1,315.7 142.6,314.8 143.1,315.9 143.6,314.3 144.1,316.0 144.6,314.7 145.1,316.0 145.6,315.6 146.1,314.6 146.6,315.8 147.1,315.7 147.6,314.8 148.1,315.4 148.6,316.0 149.1,314.3 149.6,315.8 150.1,316.0 150.6,315.5 151.1,315.0 151.6,314.7 152.1,315.9 152.6,315.5 153.1,316.0 153.6,315.3 154.1,314.7 154.6,314.8 155.1,314.5 155.6,314.8 156.1,314.6 156.6,314.9 157.1,315.3 157.6,315.7 158.1,314.9 158.6,315.6 159.1,316.0 159.6,315.3 160.1,314.6 160.6,315.9 161.1,315.1 161.6,315.5 162.1,315.2 162.6,315.9 163.1,314.4 163.6,315.7 164.1,315.1 164.6,315.4 165.1,316.2 165.6,315.2 166.1,315.9 166.6,316.1 167.1,316.1 167.6,315.9 168.0,316.0 168.5,315.1 169.0,315.3 169.5,314.5 170.0,314.6 170.5,314.4 171.0,315.8 171.5,315.4 172.0,315.8 172.5,315.2 173.0,315.1 173.5,314.8 174.0,315.0 174.5,315.8 175.0,315.5 175.5,315.3 176.0,316.3 176.5,316.2 177.0,315.6 177.5,316.1 178.0,315.0 178.5,315.9 179.0,316.1 179.5,316.0 180.0,315.9 180.5,315.9 181.0,315.4 181.5,315.5 182.0,315.8 182.5,315.2 183.0,316.0 183.5,314.7 184.0,314.6 184.5,315.0 185.0,315.6 185.5,315.4 186.0,315.3 186.5,316.3 187.0,315.6 187.5,315.4 188.0,316.1 188.5,316.2 189.0,314.9 189.5,315.7 190.0,315.5 190.5,314.8 191.0,315.5 191.5,316.2 192.0,315.0 192.5,316.2 193.0,317.0 193.5,315.9 194.0,317.0 194.5,316.7 195.0,316.5 195.5,316.6 196.0,316.7 196.5,316.8 197.0,316.9 197.5,317.0 198.0,317.1 198.5,317.2 199.0,317.3 199.5,317.4 200.0,317.4 200.5,317.4 201.0,317.4 201.5,317.4 202.0,317.4 202.5,317.4 203.0,317.4 203.5,317.4 204.0,317.4 204.5,317.4 205.0,317.4 205.5,317.4 206.0,317.4 206.5,317.4 206.5,317.4" fill="#fde4c8" fill-opacity="0.8" stroke="none"/>
<line x1="50.70" y1="317.45" x2="206.50" y2="317.45" stroke="#f7c794" stroke-width="0.9"/>
<polyline points="50.7,317.4 51.2,317.4 51.7,317.4 52.2,317.4 52.7,317.4 53.2,317.4 53.7,317.4 54.2,317.4 54.7,317.4 55.2,317.4 55.7,317.4 56.2,317.4 56.7,317.4 57.2,317.4 57.7,317.4 58.2,317.4 58.7,317.4 59.2,317.4 59.7,317.4 60.2,317.4 60.7,317.4 61.2,317.4 61.7,317.4 62.2,317.4 62.7,317.4 63.2,317.4 63.7,317.4 64.2,317.4 64.7,317.4 65.2,317.4 65.7,317.4 66.2,317.4 66.7,317.4 67.2,317.4 67.7,317.4 68.2,317.4 68.7,317.4 69.2,317.4 69.7,317.4 70.2,317.4 70.7,317.4 71.2,317.4 71.7,317.4 72.2,317.4 72.7,317.2 73.2,316.9 73.7,316.3 74.2,315.1 74.7,313.0 75.2,309.5 75.7,304.3 76.2,296.8 76.7,287.0 77.2,275.1 77.7,261.4 78.2,247.0 78.7,232.8 79.2,219.9 79.7,208.9 80.2,199.7 80.7,191.4 81.1,182.9 81.2,184.3 81.7,193.5 82.2,201.8 82.7,211.4 83.2,222.9 83.7,236.2 84.2,250.5 84.7,264.8 85.2,278.2 85.7,289.7 86.2,290.8 86.7,290.5 87.2,293.3 87.7,292.8 88.2,289.9 88.7,290.5 89.2,291.0 89.7,292.5 90.1,291.7 90.6,291.9 91.1,292.2 91.6,294.0 92.1,293.3 92.6,293.7 93.1,292.5 93.6,291.4 94.1,291.4 94.6,292.6 95.1,292.8 95.6,293.3 96.1,294.0 96.6,293.8 97.1,292.1 97.6,292.3 98.1,291.9 98.6,289.8 99.1,290.8 99.6,290.5 100.1,291.4 100.6,291.9 101.1,290.6 101.6,291.0 102.1,289.4 102.6,287.4 103.1,288.3 103.6,289.8 104.1,287.0 104.6,287.1 105.1,287.1 105.6,286.3 106.1,286.6 106.6,286.3 107.1,287.7 107.6,285.2 108.1,285.1 108.6,288.0 109.1,286.7 109.6,287.7 110.1,289.5 110.6,290.3 111.1,292.0 111.6,292.0 112.1,295.1 112.6,296.0 113.1,299.5 113.6,301.8 114.1,304.1 114.6,306.4 115.1,308.3 115.6,309.1 116.1,309.8 116.6,310.6 117.1,311.2 117.6,311.7 118.1,312.4 118.6,312.0 119.1,312.4 119.6,313.7 120.1,313.9 120.6,313.3 121.1,313.7 121.6,314.2 122.1,314.7 122.6,314.6 123.1,314.0 123.6,315.0 124.1,313.7 124.6,314.9 125.1,313.8 125.6,314.9 126.1,313.8 126.6,314.3 127.1,314.7 127.6,314.7 128.1,314.5 128.6,314.7 129.1,315.2 129.6,315.5 130.1,315.0 130.6,314.2 131.1,314.8 131.6,315.8 132.1,314.4 132.6,314.6 133.1,314.3 133.6,315.6 134.1,314.6 134.6,315.8 135.1,314.8 135.6,315.5 136.1,315.5 136.6,314.4 137.1,315.8 137.6,315.0 138.1,314.4 138.6,315.5 139.1,315.6 139.6,314.4 140.1,315.2 140.6,314.7 141.1,315.9 141.6,315.3 142.1,315.7 142.6,314.8 143.1,315.9 143.6,314.3 144.1,316.0 144.6,314.7 145.1,316.0 145.6,315.6 146.1,314.6 146.6,315.8 147.1,315.7 147.6,314.8 148.1,315.4 148.6,316.0 149.1,314.3 149.6,315.8 150.1,316.0 150.6,315.5 151.1,315.0 151.6,314.7 152.1,315.9 152.6,315.5 153.1,316.0 153.6,315.3 154.1,314.7 154.6,314.8 155.1,314.5 155.6,314.8 156.1,314.6 156.6,314.9 157.1,315.3 157.6,315.7 158.1,314.9 158.6,315.6 159.1,316.0 159.6,315.3 160.1,314.6 160.6,315.9 161.1,315.1 161.6,315.5 162.1,315.2 162.6,315.9 163.1,314.4 163.6,315.7 164.1,315.1 164.6,315.4 165.1,316.2 165.6,315.2 166.1,315.9 166.6,316.1 167.1,316.1 167.6,315.9 168.0,316.0 168.5,315.1 169.0,315.3 169.5,314.5 170.0,314.6 170.5,314.4 171.0,315.8 171.5,315.4 172.0,315.8 172.5,315.2 173.0,315.1 173.5,314.8 174.0,315.0 174.5,315.8 175.0,315.5 175.5,315.3 176.0,316.3 176.5,316.2 177.0,315.6 177.5,316.1 178.0,315.0 178.5,315.9 179.0,316.1 179.5,316.0 180.0,315.9 180.5,315.9 181.0,315.4 181.5,315.5 182.0,315.8 182.5,315.2 183.0,316.0 183.5,314.7 184.0,314.6 184.5,315.0 185.0,315.6 185.5,315.4 186.0,315.3 186.5,316.3 187.0,315.6 187.5,315.4 188.0,316.1 188.5,316.2 189.0,314.9 189.5,315.7 190.0,315.5 190.5,314.8 191.0,315.5 191.5,316.2 192.0,315.0 192.5,316.2 193.0,317.0 193.5,315.9 194.0,317.0 194.5,316.7 195.0,316.5 195.5,316.6 196.0,316.7 196.5,316.8 197.0,316.9 197.5,317.0 198.0,317.1 198.5,317.2 199.0,317.3 199.5,317.4 200.0,317.4 200.5,317.4 201.0,317.4 201.5,317.4 202.0,317.4 202.5,317.4 203.0,317.4 203.5,317.4 204.0,317.4 204.5,317.4 205.0,317.4 205.5,317.4 206.0,317.4 206.5,317.4" fill="none" stroke="#f9d0a4" stroke-width="0.8" stroke-linejoin="round"/>
<polygon points="41.6,323.6 41.6,323.6 42.1,323.6 42.6,323.6 43.1,323.6 43.6,323.6 44.1,323.6 44.6,323.6 45.1,323.6 45.6,323.6 46.1,323.6 46.6,323.6 47.1,323.6 47.6,323.6 48.1,323.6 48.6,323.6 49.1,323.6 49.6,323.6 50.1,323.6 50.6,323.6 51.1,323.6 51.6,323.6 52.1,323.6 52.6,323.6 53.1,323.6 53.6,323.6 54.1,323.6 54.6,323.6 55.1,323.6 55.6,323.6 56.1,323.6 56.6,323.6 57.1,323.6 57.6,323.6 58.1,323.6 58.6,323.6 59.1,323.6 59.6,323.6 60.1,323.6 60.6,323.6 61.1,323.6 61.6,323.6 62.1,323.6 62.6,323.6 63.1,323.6 63.6,323.6 64.1,323.5 64.6,323.4 65.1,323.0 65.6,322.3 66.1,320.9 66.6,318.4 67.1,314.3 67.6,308.0 68.1,299.3 68.6,288.0 69.1,274.7 69.6,260.3 70.1,245.9 70.6,232.7 71.1,221.5 71.6,212.4 72.1,203.9 72.4,197.2 72.6,200.6 73.1,209.4 73.6,218.1 74.1,228.4 74.6,241.0 75.1,255.0 75.6,269.6 76.1,283.5 76.6,295.5 77.1,304.2 77.6,303.5 78.1,302.8 78.6,302.1 79.1,301.4 79.6,300.6 80.1,300.8 80.5,299.5 81.0,299.8 81.5,298.7 82.0,298.3 82.5,299.8 83.0,299.7 83.5,296.7 84.0,298.3 84.5,298.2 85.0,295.7 85.5,297.2 86.0,295.9 86.5,297.0 87.0,296.3 87.5,297.7 88.0,296.1 88.5,295.2 89.0,296.2 89.5,295.3 90.0,295.2 90.5,296.9 91.0,294.4 91.5,294.7 92.0,295.3 92.5,295.9 93.0,292.9 93.5,293.9 94.0,292.8 94.5,292.0 95.0,292.3 95.5,291.4 96.0,292.8 96.5,291.2 97.0,292.4 97.5,291.0 98.0,291.4 98.5,294.1 99.0,294.1 99.5,294.0 100.0,291.8 100.5,294.2 101.0,294.9 101.5,297.2 102.0,297.8 102.5,299.5 103.0,300.9 103.5,301.5 104.0,303.1 104.5,303.6 105.0,305.9 105.5,306.7 106.0,309.7 106.5,311.2 107.0,312.7 107.5,314.3 108.0,315.8 108.5,317.3 109.0,317.8 109.5,318.2 110.0,318.0 110.5,318.3 111.0,319.3 111.5,320.7 112.0,319.9 112.5,319.7 113.0,319.8 113.5,320.5 114.0,320.2 114.5,321.2 115.0,320.1 115.5,320.6 116.0,321.1 116.5,321.5 117.0,320.1 117.5,319.9 118.0,321.6 118.5,320.3 119.0,321.1 119.5,321.5 120.0,321.3 120.5,320.5 121.0,320.3 121.5,321.8 122.0,320.8 122.5,321.9 123.0,320.7 123.5,321.4 124.0,320.5 124.5,320.3 125.0,321.2 125.5,320.4 126.0,321.6 126.5,322.1 127.0,321.2 127.5,322.2 128.0,321.9 128.5,321.6 129.0,321.2 129.5,322.1 130.0,322.3 130.5,320.8 131.0,321.8 131.5,320.7 132.0,320.8 132.5,321.7 133.0,321.6 133.5,321.5 134.0,321.3 134.5,321.4 135.0,321.4 135.5,321.3 136.0,320.8 136.5,321.5 137.0,321.7 137.5,321.2 138.0,322.0 138.5,321.9 139.0,320.7 139.5,321.5 140.0,321.5 140.5,322.5 141.0,321.7 141.5,321.5 142.0,322.5 142.5,321.4 143.0,321.4 143.5,322.4 144.0,321.4 144.5,321.7 145.0,321.3 145.5,321.9 146.0,321.3 146.5,321.2 147.0,322.5 147.5,322.4 148.0,321.3 148.5,320.8 149.0,322.1 149.5,321.7 150.0,321.5 150.5,322.0 151.0,321.9 151.5,322.0 152.0,321.9 152.5,321.5 153.0,322.1 153.5,321.9 154.0,321.2 154.5,322.6 155.0,321.6 155.5,321.3 156.0,322.1 156.5,322.2 157.0,321.2 157.5,322.2 158.0,322.3 158.4,321.9 158.9,321.4 159.4,322.5 159.9,322.1 160.4,322.1 160.9,321.2 161.4,321.9 161.9,321.1 162.4,322.4 162.9,322.1 163.4,321.5 163.9,321.1 164.4,321.9 164.9,322.3 165.4,322.5 165.9,321.8 166.4,322.4 166.9,321.3 167.4,321.2 167.9,322.4 168.4,322.2 168.9,321.3 169.4,321.6 169.9,321.3 170.4,322.1 170.9,322.5 171.4,322.2 171.9,321.3 172.4,322.3 172.9,322.1 173.4,322.0 173.9,322.0 174.4,322.0 174.9,321.1 175.4,322.5 175.9,322.8 176.4,321.1 176.9,321.2 177.4,321.0 177.9,322.0 178.4,321.1 178.9,321.2 179.4,322.4 179.9,321.5 180.4,321.3 180.9,321.6 181.4,321.9 181.9,322.3 182.4,322.2 182.9,322.4 183.4,322.7 183.9,321.8 184.4,322.4 184.9,321.4 185.4,322.8 185.9,321.3 186.4,321.6 186.9,321.2 187.4,321.3 187.9,321.3 188.4,321.9 188.9,323.1 189.4,321.8 189.9,323.0 190.4,322.5 190.9,322.6 191.4,322.7 191.9,322.8 192.4,322.9 192.9,323.0 193.4,323.1 193.9,323.2 194.4,323.3 194.9,323.4 195.4,323.5 195.9,323.6 196.4,323.6 196.9,323.6 197.4,323.6 197.4,323.6" fill="#fcd7b0" fill-opacity="0.75" stroke="none"/>
<line x1="41.60" y1="323.60" x2="197.40" y2="323.60" stroke="#f5b577" stroke-width="0.9"/>
<polyline points="41.6,323.6 42.1,323.6 42.6,323.6 43.1,323.6 43.6,323.6 44.1,323.6 44.6,323.6 45.1,323.6 45.6,323.6 46.1,323.6 46.6,323.6 47.1,323.6 47.6,323.6 48.1,323.6 48.6,323.6 49.1,323.6 49.6,323.6 50.1,323.6 50.6,323.6 51.1,323.6 51.6,323.6 52.1,323.6 52.6,323.6 53.1,323.6 53.6,323.6 54.1,323.6 54.6,323.6 55.1,323.6 55.6,323.6 56.1,323.6 56.6,323.6 57.1,323.6 57.6,323.6 58.1,323.6 58.6,323.6 59.1,323.6 59.6,323.6 60.1,323.6 60.6,323.6 61.1,323.6 61.6,323.6 62.1,323.6 62.6,323.6 63.1,323.6 63.6,323.6 64.1,323.5 64.6,323.4 65.1,323.0 65.6,322.3 66.1,320.9 66.6,318.4 67.1,314.3 67.6,308.0 68.1,299.3 68.6,288.0 69.1,274.7 69.6,260.3 70.1,245.9 70.6,232.7 71.1,221.5 71.6,212.4 72.1,203.9 72.4,197.2 72.6,200.6 73.1,209.4 73.6,218.1 74.1,228.4 74.6,241.0 75.1,255.0 75.6,269.6 76.1,283.5 76.6,295.5 77.1,304.2 77.6,303.5 78.1,302.8 78.6,302.1 79.1,301.4 79.6,300.6 80.1,300.8 80.5,299.5 81.0,299.8 81.5,298.7 82.0,298.3 82.5,299.8 83.0,299.7 83.5,296.7 84.0,298.3 84.5,298.2 85.0,295.7 85.5,297.2 86.0,295.9 86.5,297.0 87.0,296.3 87.5,297.7 88.0,296.1 88.5,295.2 89.0,296.2 89.5,295.3 90.0,295.2 90.5,296.9 91.0,294.4 91.5,294.7 92.0,295.3 92.5,295.9 93.0,292.9 93.5,293.9 94.0,292.8 94.5,292.0 95.0,292.3 95.5,291.4 96.0,292.8 96.5,291.2 97.0,292.4 97.5,291.0 98.0,291.4 98.5,294.1 99.0,294.1 99.5,294.0 100.0,291.8 100.5,294.2 101.0,294.9 101.5,297.2 102.0,297.8 102.5,299.5 103.0,300.9 103.5,301.5 104.0,303.1 104.5,303.6 105.0,305.9 105.5,306.7 106.0,309.7 106.5,311.2 107.0,312.7 107.5,314.3 108.0,315.8 108.5,317.3 109.0,317.8 109.5,318.2 110.0,318.0 110.5,318.3 111.0,319.3 111.5,320.7 112.0,319.9 112.5,319.7 113.0,319.8 113.5,320.5 114.0,320.2 114.5,321.2 115.0,320.1 115.5,320.6 116.0,321.1 116.5,321.5 117.0,320.1 117.5,319.9 118.0,321.6 118.5,320.3 119.0,321.1 119.5,321.5 120.0,321.3 120.5,320.5 121.0,320.3 121.5,321.8 122.0,320.8 122.5,321.9 123.0,320.7 123.5,321.4 124.0,320.5 124.5,320.3 125.0,321.2 125.5,320.4 126.0,321.6 126.5,322.1 127.0,321.2 127.5,322.2 128.0,321.9 128.5,321.6 129.0,321.2 129.5,322.1 130.0,322.3 130.5,320.8 131.0,321.8 131.5,320.7 132.0,320.8 132.5,321.7 133.0,321.6 133.5,321.5 134.0,321.3 134.5,321.4 135.0,321.4 135.5,321.3 136.0,320.8 136.5,321.5 137.0,321.7 137.5,321.2 138.0,322.0 138.5,321.9 139.0,320.7 139.5,321.5 140.0,321.5 140.5,322.5 141.0,321.7 141.5,321.5 142.0,322.5 142.5,321.4 143.0,321.4 143.5,322.4 144.0,321.4 144.5,321.7 145.0,321.3 145.5,321.9 146.0,321.3 146.5,321.2 147.0,322.5 147.5,322.4 148.0,321.3 148.5,320.8 149.0,322.1 149.5,321.7 150.0,321.5 150.5,322.0 151.0,321.9 151.5,322.0 152.0,321.9 152.5,321.5 153.0,322.1 153.5,321.9 154.0,321.2 154.5,322.6 155.0,321.6 155.5,321.3 156.0,322.1 156.5,322.2 157.0,321.2 157.5,322.2 158.0,322.3 158.4,321.9 158.9,321.4 159.4,322.5 159.9,322.1 160.4,322.1 160.9,321.2 161.4,321.9 161.9,321.1 162.4,322.4 162.9,322.1 163.4,321.5 163.9,321.1 164.4,321.9 164.9,322.3 165.4,322.5 165.9,321.8 166.4,322.4 166.9,321.3 167.4,321.2 167.9,322.4 168.4,322.2 168.9,321.3 169.4,321.6 169.9,321.3 170.4,322.1 170.9,322.5 171.4,322.2 171.9,321.3 172.4,322.3 172.9,322.1 173.4,322.0 173.9,322.0 174.4,322.0 174.9,321.1 175.4,322.5 175.9,322.8 176.4,321.1 176.9,321.2 177.4,321.0 177.9,322.0 178.4,321.1 178.9,321.2 179.4,322.4 179.9,321.5 180.4,321.3 180.9,321.6 181.4,321.9 181.9,322.3 182.4,322.2 182.9,322.4 183.4,322.7 183.9,321.8 184.4,322.4 184.9,321.4 185.4,322.8 185.9,321.3 186.4,321.6 186.9,321.2 187.4,321.3 187.9,321.3 188.4,321.9 188.9,323.1 189.4,321.8 189.9,323.0 190.4,322.5 190.9,322.6 191.4,322.7 191.9,322.8 192.4,322.9 192.9,323.0 193.4,323.1 193.9,323.2 194.4,323.3 194.9,323.4 195.4,323.5 195.9,323.6 196.4,323.6 196.9,323.6 197.4,323.6" fill="none" stroke="#f7bd84" stroke-width="0.8" stroke-linejoin="round"/>
<polygon points="32.5,329.8 32.5,329.8 33.0,329.8 33.5,329.8 34.0,329.7 34.5,329.7 35.0,329.7 35.5,329.7 36.0,329.7 36.5,329.7 37.0,329.7 37.5,329.7 38.0,329.7 38.5,329.7 39.0,329.7 39.5,329.7 40.0,329.7 40.5,329.7 41.0,329.7 41.5,329.7 42.0,329.7 42.5,329.7 43.0,329.7 43.5,329.7 44.0,329.7 44.5,329.7 45.0,329.7 45.5,329.7 46.0,329.7 46.5,329.7 47.0,329.7 47.5,329.7 48.0,329.7 48.5,329.7 49.0,329.7 49.5,329.7 50.0,329.7 50.5,329.7 51.0,329.7 51.5,329.7 52.0,329.7 52.5,329.7 53.0,329.7 53.5,329.6 54.0,329.4 54.5,329.0 55.0,328.2 55.5,326.7 56.0,324.1 56.5,320.0 57.0,314.0 57.5,306.2 58.0,296.5 58.5,285.7 59.0,274.6 59.5,264.0 60.0,254.8 60.5,247.3 61.0,240.8 61.5,233.7 61.5,233.0 62.0,239.8 62.5,246.3 63.0,253.6 63.5,262.6 64.0,273.0 64.5,284.1 65.0,295.0 65.5,304.8 66.0,310.4 66.5,312.2 67.0,314.0 67.5,315.8 68.0,316.7 68.5,317.5 69.0,318.2 69.5,319.0 70.0,319.7 70.5,320.4 71.0,320.8 71.5,320.2 71.9,320.8 72.4,320.4 72.9,319.0 73.4,317.1 73.9,316.7 74.4,316.1 74.9,316.7 75.4,314.4 75.9,313.4 76.4,312.0 76.9,310.5 77.4,308.5 77.9,305.2 78.4,304.0 78.9,302.6 79.4,301.2 79.9,301.3 80.4,299.6 80.9,297.4 81.4,295.8 81.9,294.1 82.4,292.6 82.9,293.7 83.4,293.1 83.9,293.6 84.4,294.7 84.9,293.5 85.4,290.4 85.6,290.3 85.9,290.1 86.4,292.6 86.9,295.8 87.4,299.0 87.9,298.4 88.4,300.2 88.9,301.4 89.4,303.5 89.9,306.3 90.4,308.5 90.9,310.0 91.4,312.0 91.9,314.1 92.4,315.2 92.9,315.5 93.4,318.8 93.9,320.2 94.4,320.3 94.9,322.5 95.4,323.3 95.9,324.8 96.4,325.2 96.9,325.5 97.4,325.7 97.9,326.0 98.4,326.5 98.9,325.6 99.4,327.3 99.9,327.1 100.4,327.5 100.9,326.8 101.4,327.4 101.9,327.3 102.4,326.6 102.9,327.4 103.4,327.0 103.9,326.4 104.4,327.8 104.9,327.9 105.4,327.6 105.9,326.7 106.4,327.0 106.9,327.6 107.4,327.5 107.9,327.8 108.4,327.3 108.9,328.0 109.4,326.9 109.9,326.5 110.4,326.4 110.9,326.8 111.4,326.5 111.9,328.2 112.4,327.7 112.9,326.5 113.4,326.8 113.9,327.5 114.4,326.6 114.9,327.2 115.4,326.8 115.9,327.8 116.4,328.0 116.9,327.5 117.4,328.1 117.9,327.7 118.4,326.6 118.9,327.8 119.4,328.4 119.9,328.3 120.4,328.1 120.9,327.0 121.4,327.8 121.9,327.9 122.4,328.2 122.9,326.7 123.4,327.7 123.9,328.1 124.4,328.3 124.9,328.3 125.4,328.1 125.9,327.2 126.4,328.2 126.9,328.4 127.4,327.6 127.9,328.0 128.4,326.7 128.9,328.2 129.4,327.5 129.9,327.1 130.4,327.7 130.9,326.7 131.4,327.6 131.9,328.1 132.4,327.8 132.9,328.4 133.4,327.7 133.9,328.1 134.4,326.9 134.9,327.0 135.4,327.6 135.9,328.5 136.4,328.1 136.9,328.1 137.4,328.2 137.9,328.1 138.4,327.0 138.9,328.3 139.4,328.5 139.9,326.9 140.4,327.5 140.9,326.8 141.4,327.8 141.9,326.9 142.4,327.4 142.9,327.2 143.4,327.2 143.9,327.7 144.4,328.4 144.9,328.2 145.4,327.0 145.9,327.0 146.4,326.9 146.9,328.0 147.4,327.4 147.9,327.2 148.4,327.5 148.9,327.2 149.3,327.7 149.8,327.5 150.3,327.4 150.8,328.2 151.3,327.0 151.8,326.9 152.3,328.5 152.8,326.9 153.3,326.9 153.8,327.5 154.3,328.6 154.8,327.0 155.3,328.4 155.8,326.9 156.3,327.5 156.8,328.6 157.3,328.4 157.8,327.5 158.3,327.7 158.8,327.4 159.3,327.0 159.8,328.3 160.3,328.7 160.8,327.1 161.3,328.7 161.8,327.1 162.3,328.5 162.8,327.3 163.3,327.3 163.8,327.2 164.3,327.7 164.8,327.2 165.3,328.4 165.8,327.5 166.3,328.2 166.8,327.2 167.3,327.4 167.8,327.9 168.3,327.8 168.8,328.7 169.3,328.7 169.8,327.7 170.3,327.9 170.8,327.2 171.3,327.7 171.8,328.5 172.3,328.1 172.8,327.4 173.3,327.9 173.8,328.8 174.3,327.3 174.8,327.3 175.3,328.7 175.8,327.9 176.3,328.1 176.8,327.4 177.3,328.3 177.8,328.4 178.3,328.0 178.8,327.1 179.3,328.7 179.8,328.7 180.3,327.7 180.8,327.3 181.3,327.9 181.8,328.1 182.3,327.3 182.8,327.5 183.3,328.8 183.8,327.3 184.3,328.5 184.8,328.4 185.3,327.6 185.8,328.6 186.3,328.8 186.8,329.1 187.3,329.3 187.8,329.6 188.3,329.8 188.3,329.8" fill="#f9c690" fill-opacity="0.7" stroke="none"/>
<line x1="32.50" y1="329.75" x2="188.30" y2="329.75" stroke="#f2a25a" stroke-width="0.9"/>
<polyline points="32.5,329.8 33.0,329.8 33.5,329.8 34.0,329.7 34.5,329.7 35.0,329.7 35.5,329.7 36.0,329.7 36.5,329.7 37.0,329.7 37.5,329.7 38.0,329.7 38.5,329.7 39.0,329.7 39.5,329.7 40.0,329.7 40.5,329.7 41.0,329.7 41.5,329.7 42.0,329.7 42.5,329.7 43.0,329.7 43.5,329.7 44.0,329.7 44.5,329.7 45.0,329.7 45.5,329.7 46.0,329.7 46.5,329.7 47.0,329.7 47.5,329.7 48.0,329.7 48.5,329.7 49.0,329.7 49.5,329.7 50.0,329.7 50.5,329.7 51.0,329.7 51.5,329.7 52.0,329.7 52.5,329.7 53.0,329.7 53.5,329.6 54.0,329.4 54.5,329.0 55.0,328.2 55.5,326.7 56.0,324.1 56.5,320.0 57.0,314.0 57.5,306.2 58.0,296.5 58.5,285.7 59.0,274.6 59.5,264.0 60.0,254.8 60.5,247.3 61.0,240.8 61.5,233.7 61.5,233.0 62.0,239.8 62.5,246.3 63.0,253.6 63.5,262.6 64.0,273.0 64.5,284.1 65.0,295.0 65.5,304.8 66.0,310.4 66.5,312.2 67.0,314.0 67.5,315.8 68.0,316.7 68.5,317.5 69.0,318.2 69.5,319.0 70.0,319.7 70.5,320.4 71.0,320.8 71.5,320.2 71.9,320.8 72.4,320.4 72.9,319.0 73.4,317.1 73.9,316.7 74.4,316.1 74.9,316.7 75.4,314.4 75.9,313.4 76.4,312.0 76.9,310.5 77.4,308.5 77.9,305.2 78.4,304.0 78.9,302.6 79.4,301.2 79.9,301.3 80.4,299.6 80.9,297.4 81.4,295.8 81.9,294.1 82.4,292.6 82.9,293.7 83.4,293.1 83.9,293.6 84.4,294.7 84.9,293.5 85.4,290.4 85.6,290.3 85.9,290.1 86.4,292.6 86.9,295.8 87.4,299.0 87.9,298.4 88.4,300.2 88.9,301.4 89.4,303.5 89.9,306.3 90.4,308.5 90.9,310.0 91.4,312.0 91.9,314.1 92.4,315.2 92.9,315.5 93.4,318.8 93.9,320.2 94.4,320.3 94.9,322.5 95.4,323.3 95.9,324.8 96.4,325.2 96.9,325.5 97.4,325.7 97.9,326.0 98.4,326.5 98.9,325.6 99.4,327.3 99.9,327.1 100.4,327.5 100.9,326.8 101.4,327.4 101.9,327.3 102.4,326.6 102.9,327.4 103.4,327.0 103.9,326.4 104.4,327.8 104.9,327.9 105.4,327.6 105.9,326.7 106.4,327.0 106.9,327.6 107.4,327.5 107.9,327.8 108.4,327.3 108.9,328.0 109.4,326.9 109.9,326.5 110.4,326.4 110.9,326.8 111.4,326.5 111.9,328.2 112.4,327.7 112.9,326.5 113.4,326.8 113.9,327.5 114.4,326.6 114.9,327.2 115.4,326.8 115.9,327.8 116.4,328.0 116.9,327.5 117.4,328.1 117.9,327.7 118.4,326.6 118.9,327.8 119.4,328.4 119.9,328.3 120.4,328.1 120.9,327.0 121.4,327.8 121.9,327.9 122.4,328.2 122.9,326.7 123.4,327.7 123.9,328.1 124.4,328.3 124.9,328.3 125.4,328.1 125.9,327.2 126.4,328.2 126.9,328.4 127.4,327.6 127.9,328.0 128.4,326.7 128.9,328.2 129.4,327.5 129.9,327.1 130.4,327.7 130.9,326.7 131.4,327.6 131.9,328.1 132.4,327.8 132.9,328.4 133.4,327.7 133.9,328.1 134.4,326.9 134.9,327.0 135.4,327.6 135.9,328.5 136.4,328.1 136.9,328.1 137.4,328.2 137.9,328.1 138.4,327.0 138.9,328.3 139.4,328.5 139.9,326.9 140.4,327.5 140.9,326.8 141.4,327.8 141.9,326.9 142.4,327.4 142.9,327.2 143.4,327.2 143.9,327.7 144.4,328.4 144.9,328.2 145.4,327.0 145.9,327.0 146.4,326.9 146.9,328.0 147.4,327.4 147.9,327.2 148.4,327.5 148.9,327.2 149.3,327.7 149.8,327.5 150.3,327.4 150.8,328.2 151.3,327.0 151.8,326.9 152.3,328.5 152.8,326.9 153.3,326.9 153.8,327.5 154.3,328.6 154.8,327.0 155.3,328.4 155.8,326.9 156.3,327.5 156.8,328.6 157.3,328.4 157.8,327.5 158.3,327.7 158.8,327.4 159.3,327.0 159.8,328.3 160.3,328.7 160.8,327.1 161.3,328.7 161.8,327.1 162.3,328.5 162.8,327.3 163.3,327.3 163.8,327.2 164.3,327.7 164.8,327.2 165.3,328.4 165.8,327.5 166.3,328.2 166.8,327.2 167.3,327.4 167.8,327.9 168.3,327.8 168.8,328.7 169.3,328.7 169.8,327.7 170.3,327.9 170.8,327.2 171.3,327.7 171.8,328.5 172.3,328.1 172.8,327.4 173.3,327.9 173.8,328.8 174.3,327.3 174.8,327.3 175.3,328.7 175.8,327.9 176.3,328.1 176.8,327.4 177.3,328.3 177.8,328.4 178.3,328.0 178.8,327.1 179.3,328.7 179.8,328.7 180.3,327.7 180.8,327.3 181.3,327.9 181.8,328.1 182.3,327.3 182.8,327.5 183.3,328.8 183.8,327.3 184.3,328.5 184.8,328.4 185.3,327.6 185.8,328.6 186.3,328.8 186.8,329.1 187.3,329.3 187.8,329.6 188.3,329.8" fill="none" stroke="#f3a85e" stroke-width="0.8" stroke-linejoin="round"/>
<polygon points="23.4,335.9 23.4,335.9 23.9,335.9 24.4,335.9 24.9,335.9 25.4,335.9 25.9,335.9 26.4,335.9 26.9,335.9 27.4,335.9 27.9,335.9 28.4,335.9 28.9,335.9 29.4,335.9 29.9,335.9 30.4,335.9 30.9,335.9 31.4,335.9 31.9,335.9 32.4,335.9 32.9,335.9 33.4,335.9 33.9,335.9 34.4,335.9 34.9,335.9 35.4,335.9 35.9,335.9 36.4,335.9 36.9,335.9 37.4,335.9 37.9,335.9 38.4,335.9 38.9,335.9 39.4,335.9 39.9,335.9 40.4,335.9 40.9,335.9 41.4,335.9 41.9,335.9 42.4,335.9 42.9,335.9 43.4,335.9 43.9,335.9 44.4,335.9 44.9,335.9 45.4,335.8 45.9,335.7 46.4,335.5 46.9,334.9 47.4,333.9 47.9,332.0 48.4,328.7 48.9,323.7 49.4,316.3 49.9,306.3 50.4,293.7 50.9,279.0 51.4,262.9 51.9,246.6 52.4,231.3 52.9,218.0 53.4,206.9 53.9,197.3 54.4,187.4 54.5,184.0 54.9,192.0 55.4,201.5 55.9,211.5 56.4,223.6 56.9,237.9 57.4,253.7 57.9,270.1 58.4,285.7 58.9,299.6 59.4,311.1 59.9,319.9 60.4,322.1 60.9,324.2 61.4,326.4 61.9,327.6 62.4,328.4 62.8,329.2 63.3,330.0 63.8,330.2 64.3,330.3 64.8,330.5 65.3,330.6 65.8,330.7 66.3,330.8 66.8,331.0 67.3,331.0 67.8,331.0 68.3,330.9 68.8,330.9 69.3,330.9 69.8,330.9 70.3,330.8 70.8,330.8 71.3,330.4 71.8,329.1 72.3,327.8 72.8,326.5 73.3,325.2 73.8,323.9 74.3,322.1 74.8,320.0 75.3,318.0 75.8,315.7 76.3,314.8 76.8,312.3 77.3,314.5 77.8,310.8 78.3,307.1 78.8,309.1 79.3,308.7 79.8,310.8 80.3,307.2 80.8,306.3 81.3,303.0 81.5,302.1 81.8,305.9 82.3,307.0 82.8,308.6 83.3,307.9 83.8,310.8 84.3,315.9 84.8,315.7 85.3,320.7 85.8,319.3 86.3,322.2 86.8,323.5 87.3,320.4 87.8,324.0 88.3,324.7 88.8,322.0 89.3,323.2 89.8,327.2 90.3,325.7 90.8,329.1 91.3,330.0 91.8,333.6 92.3,333.8 92.8,334.8 93.3,334.9 93.8,335.1 94.3,335.3 94.8,335.4 95.3,334.6 95.8,335.1 96.3,334.5 96.8,334.7 97.3,335.8 97.8,335.7 98.3,335.9 98.8,335.9 99.3,335.9 99.8,335.7 100.3,335.1 100.8,335.9 101.3,334.9 101.8,335.6 102.3,335.6 102.8,334.6 103.3,335.3 103.8,335.6 104.3,335.2 104.8,334.8 105.3,335.9 105.8,334.2 106.3,335.9 106.8,334.6 107.3,334.4 107.8,335.9 108.3,334.5 108.8,335.3 109.3,334.9 109.8,335.9 110.3,335.8 110.8,335.3 111.3,333.6 111.8,334.9 112.3,333.6 112.8,333.0 113.3,332.8 113.8,333.8 114.3,333.6 114.8,333.0 115.3,332.5 115.8,333.9 116.3,332.8 116.8,332.8 117.3,332.7 117.8,334.5 118.3,332.8 118.8,334.6 119.3,334.2 119.8,333.7 120.3,333.2 120.8,334.3 121.3,333.1 121.8,333.8 122.3,334.3 122.8,334.2 123.3,334.5 123.8,334.7 124.3,334.5 124.8,333.4 125.3,332.7 125.8,334.4 126.3,334.6 126.8,332.7 127.3,333.6 127.8,333.8 128.3,334.1 128.8,333.4 129.3,332.9 129.8,333.6 130.3,333.7 130.8,334.5 131.3,332.8 131.8,334.6 132.3,333.7 132.8,333.1 133.3,334.6 133.8,333.4 134.3,333.0 134.8,333.7 135.3,333.4 135.8,334.9 136.3,334.3 136.8,334.9 137.3,333.5 137.8,334.7 138.3,334.4 138.8,333.4 139.3,333.7 139.8,333.5 140.2,334.6 140.7,334.5 141.2,334.1 141.7,334.6 142.2,335.0 142.7,334.8 143.2,335.3 143.7,334.8 144.2,333.6 144.7,333.7 145.2,334.4 145.7,334.6 146.2,335.0 146.7,335.5 147.2,335.1 147.7,334.1 148.2,334.0 148.7,335.0 149.2,334.2 149.7,334.2 150.2,334.8 150.7,334.8 151.2,334.8 151.7,334.8 152.2,334.8 152.7,334.8 153.2,334.8 153.7,334.9 154.2,334.9 154.7,334.9 155.2,334.9 155.7,334.9 156.2,334.9 156.7,334.9 157.2,334.9 157.7,335.0 158.2,335.0 158.7,335.0 159.2,335.0 159.7,335.0 160.2,335.0 160.7,335.0 161.2,335.0 161.7,335.1 162.2,335.1 162.7,335.1 163.2,335.1 163.7,335.1 164.2,335.1 164.7,335.1 165.2,335.1 165.7,335.2 166.2,335.2 166.7,335.2 167.2,335.2 167.7,335.2 168.2,335.2 168.7,335.2 169.2,335.2 169.7,335.3 170.2,335.3 170.7,335.3 171.2,335.3 171.7,335.3 172.2,335.3 172.7,335.3 173.2,335.4 173.7,335.4 174.2,335.4 174.7,335.4 175.2,335.4 175.7,335.4 176.2,335.4 176.7,335.4 177.2,335.5 177.7,335.5 178.2,335.5 178.7,335.5 179.2,335.9 179.2,335.9" fill="#f4a24e" fill-opacity="0.64" stroke="none"/>
<line x1="23.40" y1="335.90" x2="179.20" y2="335.90" stroke="#ef8d2c" stroke-width="0.9"/>
<polyline points="23.4,335.9 23.9,335.9 24.4,335.9 24.9,335.9 25.4,335.9 25.9,335.9 26.4,335.9 26.9,335.9 27.4,335.9 27.9,335.9 28.4,335.9 28.9,335.9 29.4,335.9 29.9,335.9 30.4,335.9 30.9,335.9 31.4,335.9 31.9,335.9 32.4,335.9 32.9,335.9 33.4,335.9 33.9,335.9 34.4,335.9 34.9,335.9 35.4,335.9 35.9,335.9 36.4,335.9 36.9,335.9 37.4,335.9 37.9,335.9 38.4,335.9 38.9,335.9 39.4,335.9 39.9,335.9 40.4,335.9 40.9,335.9 41.4,335.9 41.9,335.9 42.4,335.9 42.9,335.9 43.4,335.9 43.9,335.9 44.4,335.9 44.9,335.9 45.4,335.8 45.9,335.7 46.4,335.5 46.9,334.9 47.4,333.9 47.9,332.0 48.4,328.7 48.9,323.7 49.4,316.3 49.9,306.3 50.4,293.7 50.9,279.0 51.4,262.9 51.9,246.6 52.4,231.3 52.9,218.0 53.4,206.9 53.9,197.3 54.4,187.4 54.5,184.0 54.9,192.0 55.4,201.5 55.9,211.5 56.4,223.6 56.9,237.9 57.4,253.7 57.9,270.1 58.4,285.7 58.9,299.6 59.4,311.1 59.9,319.9 60.4,322.1 60.9,324.2 61.4,326.4 61.9,327.6 62.4,328.4 62.8,329.2 63.3,330.0 63.8,330.2 64.3,330.3 64.8,330.5 65.3,330.6 65.8,330.7 66.3,330.8 66.8,331.0 67.3,331.0 67.8,331.0 68.3,330.9 68.8,330.9 69.3,330.9 69.8,330.9 70.3,330.8 70.8,330.8 71.3,330.4 71.8,329.1 72.3,327.8 72.8,326.5 73.3,325.2 73.8,323.9 74.3,322.1 74.8,320.0 75.3,318.0 75.8,315.7 76.3,314.8 76.8,312.3 77.3,314.5 77.8,310.8 78.3,307.1 78.8,309.1 79.3,308.7 79.8,310.8 80.3,307.2 80.8,306.3 81.3,303.0 81.5,302.1 81.8,305.9 82.3,307.0 82.8,308.6 83.3,307.9 83.8,310.8 84.3,315.9 84.8,315.7 85.3,320.7 85.8,319.3 86.3,322.2 86.8,323.5 87.3,320.4 87.8,324.0 88.3,324.7 88.8,322.0 89.3,323.2 89.8,327.2 90.3,325.7 90.8,329.1 91.3,330.0 91.8,333.6 92.3,333.8 92.8,334.8 93.3,334.9 93.8,335.1 94.3,335.3 94.8,335.4 95.3,334.6 95.8,335.1 96.3,334.5 96.8,334.7 97.3,335.8 97.8,335.7 98.3,335.9 98.8,335.9 99.3,335.9 99.8,335.7 100.3,335.1 100.8,335.9 101.3,334.9 101.8,335.6 102.3,335.6 102.8,334.6 103.3,335.3 103.8,335.6 104.3,335.2 104.8,334.8 105.3,335.9 105.8,334.2 106.3,335.9 106.8,334.6 107.3,334.4 107.8,335.9 108.3,334.5 108.8,335.3 109.3,334.9 109.8,335.9 110.3,335.8 110.8,335.3 111.3,333.6 111.8,334.9 112.3,333.6 112.8,333.0 113.3,332.8 113.8,333.8 114.3,333.6 114.8,333.0 115.3,332.5 115.8,333.9 116.3,332.8 116.8,332.8 117.3,332.7 117.8,334.5 118.3,332.8 118.8,334.6 119.3,334.2 119.8,333.7 120.3,333.2 120.8,334.3 121.3,333.1 121.8,333.8 122.3,334.3 122.8,334.2 123.3,334.5 123.8,334.7 124.3,334.5 124.8,333.4 125.3,332.7 125.8,334.4 126.3,334.6 126.8,332.7 127.3,333.6 127.8,333.8 128.3,334.1 128.8,333.4 129.3,332.9 129.8,333.6 130.3,333.7 130.8,334.5 131.3,332.8 131.8,334.6 132.3,333.7 132.8,333.1 133.3,334.6 133.8,333.4 134.3,333.0 134.8,333.7 135.3,333.4 135.8,334.9 136.3,334.3 136.8,334.9 137.3,333.5 137.8,334.7 138.3,334.4 138.8,333.4 139.3,333.7 139.8,333.5 140.2,334.6 140.7,334.5 141.2,334.1 141.7,334.6 142.2,335.0 142.7,334.8 143.2,335.3 143.7,334.8 144.2,333.6 144.7,333.7 145.2,334.4 145.7,334.6 146.2,335.0 146.7,335.5 147.2,335.1 147.7,334.1 148.2,334.0 148.7,335.0 149.2,334.2 149.7,334.2 150.2,334.8 150.7,334.8 151.2,334.8 151.7,334.8 152.2,334.8 152.7,334.8 153.2,334.8 153.7,334.9 154.2,334.9 154.7,334.9 155.2,334.9 155.7,334.9 156.2,334.9 156.7,334.9 157.2,334.9 157.7,335.0 158.2,335.0 158.7,335.0 159.2,335.0 159.7,335.0 160.2,335.0 160.7,335.0 161.2,335.0 161.7,335.1 162.2,335.1 162.7,335.1 163.2,335.1 163.7,335.1 164.2,335.1 164.7,335.1 165.2,335.1 165.7,335.2 166.2,335.2 166.7,335.2 167.2,335.2 167.7,335.2 168.2,335.2 168.7,335.2 169.2,335.2 169.7,335.3 170.2,335.3 170.7,335.3 171.2,335.3 171.7,335.3 172.2,335.3 172.7,335.3 173.2,335.4 173.7,335.4 174.2,335.4 174.7,335.4 175.2,335.4 175.7,335.4 176.2,335.4 176.7,335.4 177.2,335.5 177.7,335.5 178.2,335.5 178.7,335.5 179.2,335.9" fill="none" stroke="#ee8820" stroke-width="0.8" stroke-linejoin="round"/>
<line x1="23.4" y1="335.9" x2="179.2" y2="335.9" stroke="#222" stroke-width="0.9"/>
<line x1="23.40" y1="335.9" x2="23.40" y2="338.2" stroke="#333" stroke-width="0.7"/>
<line x1="30.92" y1="335.9" x2="30.92" y2="338.2" stroke="#333" stroke-width="0.7"/>
<line x1="38.45" y1="335.9" x2="38.45" y2="338.2" stroke="#333" stroke-width="0.7"/>
<line x1="45.97" y1="335.9" x2="45.97" y2="338.2" stroke="#333" stroke-width="0.7"/>
<line x1="53.50" y1="335.9" x2="53.50" y2="338.2" stroke="#333" stroke-width="0.7"/>
<line x1="61.02" y1="335.9" x2="61.02" y2="338.2" stroke="#333" stroke-width="0.7"/>
<line x1="68.55" y1="335.9" x2="68.55" y2="338.2" stroke="#333" stroke-width="0.7"/>
<line x1="76.07" y1="335.9" x2="76.07" y2="338.2" stroke="#333" stroke-width="0.7"/>
<line x1="83.60" y1="335.9" x2="83.60" y2="338.2" stroke="#333" stroke-width="0.7"/>
<line x1="91.12" y1="335.9" x2="91.12" y2="338.2" stroke="#333" stroke-width="0.7"/>
<line x1="98.65" y1="335.9" x2="98.65" y2="338.2" stroke="#333" stroke-width="0.7"/>
<line x1="106.17" y1="335.9" x2="106.17" y2="338.2" stroke="#333" stroke-width="0.7"/>
<line x1="113.70" y1="335.9" x2="113.70" y2="338.2" stroke="#333" stroke-width="0.7"/>
<line x1="121.22" y1="335.9" x2="121.22" y2="338.2" stroke="#333" stroke-width="0.7"/>
<line x1="128.75" y1="335.9" x2="128.75" y2="338.2" stroke="#333" stroke-width="0.7"/>
<line x1="136.28" y1="335.9" x2="136.28" y2="338.2" stroke="#333" stroke-width="0.7"/>
<line x1="143.80" y1="335.9" x2="143.80" y2="338.2" stroke="#333" stroke-width="0.7"/>
<line x1="151.32" y1="335.9" x2="151.32" y2="338.2" stroke="#333" stroke-width="0.7"/>
<line x1="158.85" y1="335.9" x2="158.85" y2="338.2" stroke="#333" stroke-width="0.7"/>
<line x1="166.38" y1="335.9" x2="166.38" y2="338.2" stroke="#333" stroke-width="0.7"/>
<line x1="173.90" y1="335.9" x2="173.90" y2="338.2" stroke="#333" stroke-width="0.7"/>
<line x1="23.40" y1="335.9" x2="23.40" y2="339.5" stroke="#111" stroke-width="1.1"/>
<line x1="53.50" y1="335.9" x2="53.50" y2="339.5" stroke="#111" stroke-width="1.1"/>
<line x1="83.60" y1="335.9" x2="83.60" y2="339.5" stroke="#111" stroke-width="1.1"/>
<line x1="113.70" y1="335.9" x2="113.70" y2="339.5" stroke="#111" stroke-width="1.1"/>
<line x1="143.80" y1="335.9" x2="143.80" y2="339.5" stroke="#111" stroke-width="1.1"/>
<line x1="173.90" y1="335.9" x2="173.90" y2="339.5" stroke="#111" stroke-width="1.1"/>
<text transform="translate(23.40,346.50) scale(1.180,1)" font-size="5.2" text-anchor="middle" font-weight="normal" fill="#444" >0</text>
<text transform="translate(53.50,346.50) scale(1.180,1)" font-size="5.2" text-anchor="middle" font-weight="normal" fill="#444" >200</text>
<text transform="translate(83.60,346.50) scale(1.180,1)" font-size="5.2" text-anchor="middle" font-weight="normal" fill="#444" >400</text>
<text transform="translate(113.70,346.50) scale(1.180,1)" font-size="5.2" text-anchor="middle" font-weight="normal" fill="#444" >600</text>
<text transform="translate(143.80,346.50) scale(1.180,1)" font-size="5.2" text-anchor="middle" font-weight="normal" fill="#444" >800</text>
<text transform="translate(173.90,346.50) scale(1.180,1)" font-size="5.2" text-anchor="middle" font-weight="normal" fill="#444" >1.0K</text>
<text transform="translate(210.00,322.50)" font-size="11.8" text-anchor="start" font-weight="normal" fill="#111" >PD2</text>
<text transform="translate(184.60,344.50)" font-size="11.8" text-anchor="start" font-weight="normal" fill="#111" >PD8</text>
<line x1="209.9" y1="326.8" x2="201.33" y2="332.29" stroke="#1a1a1a" stroke-width="1.0"/>
<polygon points="200.75,330.55 198.5,334.1 202.66,333.54" fill="#1a1a1a"/>
<text transform="translate(114.60,263.80)" font-size="11.2" text-anchor="start" font-weight="normal" fill="#b4b4b4" >2N control</text>
<line x1="125" y1="266.3" x2="116.8" y2="275" stroke="#a8a8a8" stroke-width="0.8"/>
<text transform="translate(363.60,186.90)" font-size="15.6" text-anchor="start" font-weight="bold" fill="#111" >E</text>
<text transform="translate(366.40,271.00) rotate(-90)" font-size="13.5" text-anchor="middle" font-weight="normal" fill="#111" >Cell count</text>
<text transform="translate(435.40,378.60)" font-size="13.5" text-anchor="middle" font-weight="normal" fill="#111" >DNA content</text>
<polygon points="364.8,351.6 527,351.6 564.60,328.00 402.40,328.00" fill="#ffffff" stroke="none"/>
<path d="M368.25,351.6l37.60,-23.60M375.15,351.6l37.60,-23.60M382.05,351.6l37.60,-23.60M388.95,351.6l37.60,-23.60M395.85,351.6l37.60,-23.60M402.75,351.6l37.60,-23.60M409.65,351.6l37.60,-23.60M416.55,351.6l37.60,-23.60M423.45,351.6l37.60,-23.60M430.35,351.6l37.60,-23.60M437.25,351.6l37.60,-23.60M444.15,351.6l37.60,-23.60M451.05,351.6l37.60,-23.60M457.95,351.6l37.60,-23.60M464.85,351.6l37.60,-23.60M471.75,351.6l37.60,-23.60M478.65,351.6l37.60,-23.60M485.55,351.6l37.60,-23.60M492.45,351.6l37.60,-23.60M499.35,351.6l37.60,-23.60M506.25,351.6l37.60,-23.60M513.15,351.6l37.60,-23.60M520.05,351.6l37.60,-23.60" stroke="#b4b4b4" stroke-width="0.5" fill="none"/>
<path d="M364.80,351.6l37.60,-23.60M396.50,351.6l37.60,-23.60M428.20,351.6l37.60,-23.60M459.90,351.6l37.60,-23.60M491.60,351.6l37.60,-23.60M523.30,351.6l37.60,-23.60" stroke="#444" stroke-width="0.7" fill="none"/>
<line x1="364.8" y1="351.6" x2="402.40" y2="328.00" stroke="#666" stroke-width="0.6"/>
<line x1="527" y1="351.6" x2="564.60" y2="328.00" stroke="#666" stroke-width="0.6"/>
<polygon points="402.4,328.0 402.4,328.0 402.9,328.0 403.4,328.0 403.9,328.0 404.4,328.0 404.9,328.0 405.4,328.0 405.9,328.0 406.4,328.0 406.9,328.0 407.4,328.0 407.9,328.0 408.4,328.0 408.9,328.0 409.4,328.0 409.9,328.0 410.4,328.0 410.9,328.0 411.4,328.0 411.9,328.0 412.4,328.0 412.9,328.0 413.4,328.0 413.9,328.0 414.4,328.0 414.9,328.0 415.4,328.0 415.9,328.0 416.4,328.0 416.9,328.0 417.4,328.0 417.9,328.0 418.4,328.0 418.9,328.0 419.4,328.0 419.9,328.0 420.4,328.0 420.9,328.0 421.4,328.0 421.9,328.0 422.4,328.0 422.9,328.0 423.4,328.0 423.9,328.0 424.4,328.0 424.9,328.0 425.4,328.0 425.9,327.9 426.4,327.8 426.9,327.4 427.4,326.7 427.9,325.3 428.4,322.8 428.9,318.5 429.4,312.0 429.9,302.5 430.4,289.8 430.9,274.4 431.4,257.0 431.9,239.1 432.4,222.2 432.9,207.5 433.4,194.9 433.9,182.2 434.0,180.4 434.4,192.0 434.9,204.3 435.4,218.4 435.9,234.8 436.4,252.6 436.9,270.3 437.4,286.3 437.9,299.7 438.4,300.8 438.9,301.6 439.4,302.5 439.9,303.3 440.4,304.2 440.9,305.1 441.4,305.9 441.9,306.8 442.4,307.6 442.9,308.5 443.5,309.3 444.0,310.2 444.5,311.1 445.0,311.9 445.5,311.5 446.0,311.0 446.5,310.5 447.0,310.0 447.5,309.5 448.0,309.0 448.5,308.5 449.0,308.0 449.5,307.5 450.0,307.0 450.5,306.5 451.0,306.0 451.5,305.5 452.0,305.0 452.5,305.4 453.0,305.8 453.5,306.2 454.0,306.6 454.5,307.0 455.0,307.5 455.5,307.9 456.0,308.1 456.5,305.5 457.0,302.9 457.5,300.4 458.0,297.9 458.5,295.6 459.0,293.4 459.5,291.3 460.0,289.3 460.5,287.1 460.6,286.5 461.0,288.2 461.5,290.3 462.0,292.3 462.5,294.5 463.0,296.7 463.5,299.1 464.0,301.6 464.5,304.2 465.0,306.8 465.5,309.3 466.0,311.8 466.5,314.2 467.0,316.1 467.5,316.8 468.0,318.4 468.5,318.7 469.0,318.9 469.5,320.3 470.0,319.9 470.5,319.9 471.0,319.7 471.5,321.5 472.0,321.2 472.5,321.8 473.0,320.2 473.5,320.7 474.0,322.4 474.5,320.3 475.0,320.4 475.5,321.3 476.0,321.6 476.5,322.8 477.0,323.3 477.5,322.2 478.0,323.5 478.5,323.3 479.0,323.3 479.5,324.0 480.0,323.1 480.5,323.2 481.0,322.3 481.5,323.1 482.0,322.8 482.5,323.2 483.0,322.8 483.5,323.4 484.0,323.8 484.5,322.1 485.0,322.2 485.5,322.6 486.0,323.0 486.5,323.9 487.0,324.2 487.5,324.1 488.0,324.6 488.5,323.0 489.0,323.9 489.5,322.9 490.0,324.0 490.5,322.7 491.0,323.0 491.5,325.1 492.0,324.6 492.5,323.0 493.0,324.0 493.5,322.9 494.0,324.3 494.5,325.1 495.0,323.8 495.5,323.5 496.0,324.8 496.5,325.2 497.0,324.7 497.5,323.2 498.0,323.7 498.5,325.3 499.0,325.0 499.5,325.4 500.0,325.6 500.5,323.9 501.0,325.4 501.5,324.5 502.0,324.9 502.5,325.6 503.0,324.3 503.5,325.8 504.0,324.7 504.5,326.0 505.0,325.3 505.5,325.9 506.0,325.8 506.5,324.2 507.0,324.7 507.5,325.9 508.0,324.6 508.5,326.3 509.0,325.9 509.5,324.8 510.0,325.4 510.5,326.8 511.0,324.7 511.5,326.6 512.0,326.6 512.5,325.5 513.0,326.6 513.5,326.8 514.0,327.4 514.5,327.5 515.0,326.6 515.5,326.7 516.0,326.8 516.5,326.9 517.0,327.0 517.5,327.1 518.0,327.2 518.5,327.3 519.0,327.4 519.5,327.5 520.0,327.6 520.5,327.7 521.0,327.8 521.5,327.9 522.0,328.0 522.5,328.0 523.0,328.0 523.5,328.0 524.0,328.0 524.6,328.0 525.1,328.0 525.6,328.0 526.1,328.0 526.6,328.0 527.1,328.0 527.6,328.0 528.1,328.0 528.6,328.0 529.1,328.0 529.6,328.0 530.1,328.0 530.6,328.0 531.1,328.0 531.6,328.0 532.1,328.0 532.6,328.0 533.1,328.0 533.6,328.0 534.1,328.0 534.6,328.0 535.1,328.0 535.6,328.0 536.1,328.0 536.6,328.0 537.1,328.0 537.6,328.0 538.1,328.0 538.6,328.0 539.1,328.0 539.6,328.0 540.1,328.0 540.6,328.0 541.1,328.0 541.6,328.0 542.1,328.0 542.6,328.0 543.1,328.0 543.6,328.0 544.1,328.0 544.6,328.0 545.1,328.0 545.6,328.0 546.1,328.0 546.6,328.0 547.1,328.0 547.6,328.0 548.1,328.0 548.6,328.0 549.1,328.0 549.6,328.0 550.1,328.0 550.6,328.0 551.1,328.0 551.6,328.0 552.1,328.0 552.6,328.0 553.1,328.0 553.6,328.0 554.1,328.0 554.6,328.0 555.1,328.0 555.6,328.0 556.1,328.0 556.6,328.0 557.1,328.0 557.6,328.0 558.1,328.0 558.6,328.0 559.1,328.0 559.6,328.0 560.1,328.0 560.6,328.0 561.1,328.0 561.6,328.0 562.1,328.0 562.6,328.0 563.1,328.0 563.6,328.0 564.1,328.0 564.6,328.0 564.6,328.0" fill="#dddddd" fill-opacity="0.8" stroke="none"/>
<line x1="402.40" y1="328.00" x2="564.60" y2="328.00" stroke="#8a8a8a" stroke-width="0.9"/>
<polyline points="402.4,328.0 402.9,328.0 403.4,328.0 403.9,328.0 404.4,328.0 404.9,328.0 405.4,328.0 405.9,328.0 406.4,328.0 406.9,328.0 407.4,328.0 407.9,328.0 408.4,328.0 408.9,328.0 409.4,328.0 409.9,328.0 410.4,328.0 410.9,328.0 411.4,328.0 411.9,328.0 412.4,328.0 412.9,328.0 413.4,328.0 413.9,328.0 414.4,328.0 414.9,328.0 415.4,328.0 415.9,328.0 416.4,328.0 416.9,328.0 417.4,328.0 417.9,328.0 418.4,328.0 418.9,328.0 419.4,328.0 419.9,328.0 420.4,328.0 420.9,328.0 421.4,328.0 421.9,328.0 422.4,328.0 422.9,328.0 423.4,328.0 423.9,328.0 424.4,328.0 424.9,328.0 425.4,328.0 425.9,327.9 426.4,327.8 426.9,327.4 427.4,326.7 427.9,325.3 428.4,322.8 428.9,318.5 429.4,312.0 429.9,302.5 430.4,289.8 430.9,274.4 431.4,257.0 431.9,239.1 432.4,222.2 432.9,207.5 433.4,194.9 433.9,182.2 434.0,180.4 434.4,192.0 434.9,204.3 435.4,218.4 435.9,234.8 436.4,252.6 436.9,270.3 437.4,286.3 437.9,299.7 438.4,300.8 438.9,301.6 439.4,302.5 439.9,303.3 440.4,304.2 440.9,305.1 441.4,305.9 441.9,306.8 442.4,307.6 442.9,308.5 443.5,309.3 444.0,310.2 444.5,311.1 445.0,311.9 445.5,311.5 446.0,311.0 446.5,310.5 447.0,310.0 447.5,309.5 448.0,309.0 448.5,308.5 449.0,308.0 449.5,307.5 450.0,307.0 450.5,306.5 451.0,306.0 451.5,305.5 452.0,305.0 452.5,305.4 453.0,305.8 453.5,306.2 454.0,306.6 454.5,307.0 455.0,307.5 455.5,307.9 456.0,308.1 456.5,305.5 457.0,302.9 457.5,300.4 458.0,297.9 458.5,295.6 459.0,293.4 459.5,291.3 460.0,289.3 460.5,287.1 460.6,286.5 461.0,288.2 461.5,290.3 462.0,292.3 462.5,294.5 463.0,296.7 463.5,299.1 464.0,301.6 464.5,304.2 465.0,306.8 465.5,309.3 466.0,311.8 466.5,314.2 467.0,316.1 467.5,316.8 468.0,318.4 468.5,318.7 469.0,318.9 469.5,320.3 470.0,319.9 470.5,319.9 471.0,319.7 471.5,321.5 472.0,321.2 472.5,321.8 473.0,320.2 473.5,320.7 474.0,322.4 474.5,320.3 475.0,320.4 475.5,321.3 476.0,321.6 476.5,322.8 477.0,323.3 477.5,322.2 478.0,323.5 478.5,323.3 479.0,323.3 479.5,324.0 480.0,323.1 480.5,323.2 481.0,322.3 481.5,323.1 482.0,322.8 482.5,323.2 483.0,322.8 483.5,323.4 484.0,323.8 484.5,322.1 485.0,322.2 485.5,322.6 486.0,323.0 486.5,323.9 487.0,324.2 487.5,324.1 488.0,324.6 488.5,323.0 489.0,323.9 489.5,322.9 490.0,324.0 490.5,322.7 491.0,323.0 491.5,325.1 492.0,324.6 492.5,323.0 493.0,324.0 493.5,322.9 494.0,324.3 494.5,325.1 495.0,323.8 495.5,323.5 496.0,324.8 496.5,325.2 497.0,324.7 497.5,323.2 498.0,323.7 498.5,325.3 499.0,325.0 499.5,325.4 500.0,325.6 500.5,323.9 501.0,325.4 501.5,324.5 502.0,324.9 502.5,325.6 503.0,324.3 503.5,325.8 504.0,324.7 504.5,326.0 505.0,325.3 505.5,325.9 506.0,325.8 506.5,324.2 507.0,324.7 507.5,325.9 508.0,324.6 508.5,326.3 509.0,325.9 509.5,324.8 510.0,325.4 510.5,326.8 511.0,324.7 511.5,326.6 512.0,326.6 512.5,325.5 513.0,326.6 513.5,326.8 514.0,327.4 514.5,327.5 515.0,326.6 515.5,326.7 516.0,326.8 516.5,326.9 517.0,327.0 517.5,327.1 518.0,327.2 518.5,327.3 519.0,327.4 519.5,327.5 520.0,327.6 520.5,327.7 521.0,327.8 521.5,327.9 522.0,328.0 522.5,328.0 523.0,328.0 523.5,328.0 524.0,328.0 524.6,328.0 525.1,328.0 525.6,328.0 526.1,328.0 526.6,328.0 527.1,328.0 527.6,328.0 528.1,328.0 528.6,328.0 529.1,328.0 529.6,328.0 530.1,328.0 530.6,328.0 531.1,328.0 531.6,328.0 532.1,328.0 532.6,328.0 533.1,328.0 533.6,328.0 534.1,328.0 534.6,328.0 535.1,328.0 535.6,328.0 536.1,328.0 536.6,328.0 537.1,328.0 537.6,328.0 538.1,328.0 538.6,328.0 539.1,328.0 539.6,328.0 540.1,328.0 540.6,328.0 541.1,328.0 541.6,328.0 542.1,328.0 542.6,328.0 543.1,328.0 543.6,328.0 544.1,328.0 544.6,328.0 545.1,328.0 545.6,328.0 546.1,328.0 546.6,328.0 547.1,328.0 547.6,328.0 548.1,328.0 548.6,328.0 549.1,328.0 549.6,328.0 550.1,328.0 550.6,328.0 551.1,328.0 551.6,328.0 552.1,328.0 552.6,328.0 553.1,328.0 553.6,328.0 554.1,328.0 554.6,328.0 555.1,328.0 555.6,328.0 556.1,328.0 556.6,328.0 557.1,328.0 557.6,328.0 558.1,328.0 558.6,328.0 559.1,328.0 559.6,328.0 560.1,328.0 560.6,328.0 561.1,328.0 561.6,328.0 562.1,328.0 562.6,328.0 563.1,328.0 563.6,328.0 564.1,328.0 564.6,328.0" fill="none" stroke="#c4c4c4" stroke-width="0.8" stroke-linejoin="round"/>
<polygon points="393.0,333.9 393.0,333.9 393.5,333.9 394.0,333.9 394.5,333.9 395.0,333.9 395.5,333.9 396.0,333.9 396.5,333.9 397.0,333.9 397.5,333.9 398.0,333.9 398.5,333.9 399.0,333.9 399.5,333.9 400.0,333.9 400.5,333.9 401.0,333.9 401.5,333.9 402.0,333.9 402.5,333.9 403.0,333.9 403.5,333.9 404.0,333.9 404.5,333.9 405.0,333.9 405.5,333.9 406.0,333.9 406.5,333.9 407.0,333.9 407.5,333.9 408.0,333.9 408.5,333.9 409.0,333.9 409.5,333.9 410.0,333.9 410.5,333.9 411.0,333.9 411.5,333.9 412.0,333.9 412.5,333.9 413.0,333.9 413.5,333.9 414.0,333.9 414.5,333.9 415.0,333.9 415.5,333.9 416.0,333.9 416.5,333.9 417.0,333.9 417.5,333.9 418.0,333.9 418.5,333.9 419.0,333.9 419.5,333.9 420.0,333.9 420.5,333.9 421.0,333.9 421.5,333.9 422.0,333.9 422.5,333.9 423.0,333.9 423.5,333.9 424.0,333.9 424.5,333.9 425.0,333.9 425.5,333.9 426.0,333.9 426.5,333.9 427.0,333.9 427.5,333.9 428.0,333.9 428.5,333.9 429.0,333.9 429.5,333.9 430.0,333.9 430.5,333.9 431.0,333.9 431.5,333.9 432.0,333.9 432.5,333.9 433.0,333.9 433.6,333.9 434.1,333.9 434.6,333.9 435.1,333.9 435.6,333.9 436.1,333.9 436.6,333.9 437.1,333.9 437.6,333.9 438.1,333.9 438.6,333.9 439.1,333.9 439.6,333.9 440.1,333.9 440.6,333.8 441.1,333.8 441.6,333.8 442.1,333.7 442.6,333.6 443.1,333.5 443.6,333.3 444.1,333.1 444.6,332.8 445.1,332.4 445.6,331.9 446.1,331.2 446.6,330.4 447.1,329.3 447.6,328.0 448.1,326.5 448.6,324.6 449.1,322.3 449.6,319.7 450.1,316.6 450.6,313.2 451.1,309.3 451.6,305.1 452.1,300.4 452.6,295.5 453.1,290.3 453.6,284.9 454.1,279.5 454.6,274.1 455.1,268.8 455.6,263.9 456.1,259.2 456.6,255.1 457.1,251.5 457.6,248.5 458.1,246.1 458.6,244.4 459.1,243.2 459.2,243.0 459.6,243.8 460.1,245.2 460.6,247.3 461.1,250.0 461.6,253.3 462.1,257.2 462.6,261.6 463.1,266.4 463.6,271.6 464.1,276.9 464.6,282.4 465.1,287.8 465.6,293.1 466.1,298.1 466.6,302.9 467.1,307.3 467.6,311.4 468.1,311.6 468.6,309.5 469.1,308.8 469.6,312.4 470.1,313.0 470.6,310.9 471.1,312.4 471.6,308.8 472.1,310.5 472.6,311.9 473.1,312.9 473.6,312.2 474.1,316.4 474.6,314.2 475.1,316.5 475.6,310.7 476.1,317.6 476.6,311.6 477.1,317.7 477.6,312.9 478.1,315.8 478.6,315.4 479.1,312.0 479.6,318.8 480.1,318.5 480.6,311.7 481.1,315.0 481.6,318.4 482.1,311.3 482.6,311.7 483.1,318.4 483.6,316.0 484.1,318.3 484.6,317.0 485.1,314.5 485.6,318.3 486.1,314.0 486.6,319.3 487.1,318.3 487.6,313.2 488.1,316.6 488.6,316.5 489.1,315.1 489.6,316.1 490.1,316.9 490.6,319.8 491.1,314.2 491.6,312.3 492.1,312.2 492.6,314.7 493.1,317.1 493.6,317.1 494.1,314.5 494.6,314.6 495.1,319.1 495.6,318.1 496.1,317.1 496.6,315.9 497.1,313.5 497.6,316.0 498.1,319.8 498.6,313.4 499.1,316.6 499.6,315.8 500.1,318.2 500.6,316.6 501.1,317.0 501.6,314.0 502.1,319.4 502.6,315.9 503.1,318.9 503.6,314.8 504.1,320.1 504.6,318.3 505.1,317.8 505.6,315.5 506.1,320.2 506.6,317.0 507.1,319.0 507.6,318.5 508.1,317.0 508.6,313.2 509.1,317.1 509.6,313.3 510.1,319.8 510.6,314.2 511.1,319.1 511.6,321.0 512.1,317.0 512.6,316.1 513.1,323.8 513.6,322.2 514.1,318.7 514.6,322.6 515.2,323.8 515.7,326.1 516.2,326.4 516.7,322.1 517.2,319.5 517.7,319.7 518.2,324.0 518.7,328.2 519.2,326.1 519.7,322.8 520.2,322.7 520.7,324.6 521.2,326.0 521.7,326.4 522.2,326.7 522.7,327.1 523.2,327.5 523.7,328.0 524.2,328.5 524.7,328.9 525.2,329.4 525.7,329.9 526.2,330.3 526.7,330.8 527.2,331.3 527.7,331.7 528.2,332.2 528.7,332.7 529.2,333.1 529.7,333.6 530.2,333.9 530.7,333.9 531.2,333.9 531.7,333.9 532.2,333.9 532.7,333.9 533.2,333.9 533.7,333.9 534.2,333.9 534.7,333.9 535.2,333.9 535.7,333.9 536.2,333.9 536.7,333.9 537.2,333.9 537.7,333.9 538.2,333.9 538.7,333.9 539.2,333.9 539.7,333.9 540.2,333.9 540.7,333.9 541.2,333.9 541.7,333.9 542.2,333.9 542.7,333.9 543.2,333.9 543.7,333.9 544.2,333.9 544.7,333.9 545.2,333.9 545.7,333.9 546.2,333.9 546.7,333.9 547.2,333.9 547.7,333.9 548.2,333.9 548.7,333.9 549.2,333.9 549.7,333.9 550.2,333.9 550.7,333.9 551.2,333.9 551.7,333.9 552.2,333.9 552.7,333.9 553.2,333.9 553.7,333.9 554.2,333.9 554.7,333.9 555.2,333.9 555.2,333.9" fill="#fcd3d3" fill-opacity="0.8" stroke="none"/>
<line x1="393.00" y1="333.90" x2="555.20" y2="333.90" stroke="#f2a0a0" stroke-width="0.9"/>
<polyline points="393.0,333.9 393.5,333.9 394.0,333.9 394.5,333.9 395.0,333.9 395.5,333.9 396.0,333.9 396.5,333.9 397.0,333.9 397.5,333.9 398.0,333.9 398.5,333.9 399.0,333.9 399.5,333.9 400.0,333.9 400.5,333.9 401.0,333.9 401.5,333.9 402.0,333.9 402.5,333.9 403.0,333.9 403.5,333.9 404.0,333.9 404.5,333.9 405.0,333.9 405.5,333.9 406.0,333.9 406.5,333.9 407.0,333.9 407.5,333.9 408.0,333.9 408.5,333.9 409.0,333.9 409.5,333.9 410.0,333.9 410.5,333.9 411.0,333.9 411.5,333.9 412.0,333.9 412.5,333.9 413.0,333.9 413.5,333.9 414.0,333.9 414.5,333.9 415.0,333.9 415.5,333.9 416.0,333.9 416.5,333.9 417.0,333.9 417.5,333.9 418.0,333.9 418.5,333.9 419.0,333.9 419.5,333.9 420.0,333.9 420.5,333.9 421.0,333.9 421.5,333.9 422.0,333.9 422.5,333.9 423.0,333.9 423.5,333.9 424.0,333.9 424.5,333.9 425.0,333.9 425.5,333.9 426.0,333.9 426.5,333.9 427.0,333.9 427.5,333.9 428.0,333.9 428.5,333.9 429.0,333.9 429.5,333.9 430.0,333.9 430.5,333.9 431.0,333.9 431.5,333.9 432.0,333.9 432.5,333.9 433.0,333.9 433.6,333.9 434.1,333.9 434.6,333.9 435.1,333.9 435.6,333.9 436.1,333.9 436.6,333.9 437.1,333.9 437.6,333.9 438.1,333.9 438.6,333.9 439.1,333.9 439.6,333.9 440.1,333.9 440.6,333.8 441.1,333.8 441.6,333.8 442.1,333.7 442.6,333.6 443.1,333.5 443.6,333.3 444.1,333.1 444.6,332.8 445.1,332.4 445.6,331.9 446.1,331.2 446.6,330.4 447.1,329.3 447.6,328.0 448.1,326.5 448.6,324.6 449.1,322.3 449.6,319.7 450.1,316.6 450.6,313.2 451.1,309.3 451.6,305.1 452.1,300.4 452.6,295.5 453.1,290.3 453.6,284.9 454.1,279.5 454.6,274.1 455.1,268.8 455.6,263.9 456.1,259.2 456.6,255.1 457.1,251.5 457.6,248.5 458.1,246.1 458.6,244.4 459.1,243.2 459.2,243.0 459.6,243.8 460.1,245.2 460.6,247.3 461.1,250.0 461.6,253.3 462.1,257.2 462.6,261.6 463.1,266.4 463.6,271.6 464.1,276.9 464.6,282.4 465.1,287.8 465.6,293.1 466.1,298.1 466.6,302.9 467.1,307.3 467.6,311.4 468.1,311.6 468.6,309.5 469.1,308.8 469.6,312.4 470.1,313.0 470.6,310.9 471.1,312.4 471.6,308.8 472.1,310.5 472.6,311.9 473.1,312.9 473.6,312.2 474.1,316.4 474.6,314.2 475.1,316.5 475.6,310.7 476.1,317.6 476.6,311.6 477.1,317.7 477.6,312.9 478.1,315.8 478.6,315.4 479.1,312.0 479.6,318.8 480.1,318.5 480.6,311.7 481.1,315.0 481.6,318.4 482.1,311.3 482.6,311.7 483.1,318.4 483.6,316.0 484.1,318.3 484.6,317.0 485.1,314.5 485.6,318.3 486.1,314.0 486.6,319.3 487.1,318.3 487.6,313.2 488.1,316.6 488.6,316.5 489.1,315.1 489.6,316.1 490.1,316.9 490.6,319.8 491.1,314.2 491.6,312.3 492.1,312.2 492.6,314.7 493.1,317.1 493.6,317.1 494.1,314.5 494.6,314.6 495.1,319.1 495.6,318.1 496.1,317.1 496.6,315.9 497.1,313.5 497.6,316.0 498.1,319.8 498.6,313.4 499.1,316.6 499.6,315.8 500.1,318.2 500.6,316.6 501.1,317.0 501.6,314.0 502.1,319.4 502.6,315.9 503.1,318.9 503.6,314.8 504.1,320.1 504.6,318.3 505.1,317.8 505.6,315.5 506.1,320.2 506.6,317.0 507.1,319.0 507.6,318.5 508.1,317.0 508.6,313.2 509.1,317.1 509.6,313.3 510.1,319.8 510.6,314.2 511.1,319.1 511.6,321.0 512.1,317.0 512.6,316.1 513.1,323.8 513.6,322.2 514.1,318.7 514.6,322.6 515.2,323.8 515.7,326.1 516.2,326.4 516.7,322.1 517.2,319.5 517.7,319.7 518.2,324.0 518.7,328.2 519.2,326.1 519.7,322.8 520.2,322.7 520.7,324.6 521.2,326.0 521.7,326.4 522.2,326.7 522.7,327.1 523.2,327.5 523.7,328.0 524.2,328.5 524.7,328.9 525.2,329.4 525.7,329.9 526.2,330.3 526.7,330.8 527.2,331.3 527.7,331.7 528.2,332.2 528.7,332.7 529.2,333.1 529.7,333.6 530.2,333.9 530.7,333.9 531.2,333.9 531.7,333.9 532.2,333.9 532.7,333.9 533.2,333.9 533.7,333.9 534.2,333.9 534.7,333.9 535.2,333.9 535.7,333.9 536.2,333.9 536.7,333.9 537.2,333.9 537.7,333.9 538.2,333.9 538.7,333.9 539.2,333.9 539.7,333.9 540.2,333.9 540.7,333.9 541.2,333.9 541.7,333.9 542.2,333.9 542.7,333.9 543.2,333.9 543.7,333.9 544.2,333.9 544.7,333.9 545.2,333.9 545.7,333.9 546.2,333.9 546.7,333.9 547.2,333.9 547.7,333.9 548.2,333.9 548.7,333.9 549.2,333.9 549.7,333.9 550.2,333.9 550.7,333.9 551.2,333.9 551.7,333.9 552.2,333.9 552.7,333.9 553.2,333.9 553.7,333.9 554.2,333.9 554.7,333.9 555.2,333.9" fill="none" stroke="#f6a7a7" stroke-width="0.8" stroke-linejoin="round"/>
<polygon points="383.6,339.8 383.6,339.8 384.1,339.8 384.6,339.8 385.1,339.8 385.6,339.8 386.1,339.8 386.6,339.8 387.1,339.8 387.6,339.8 388.1,339.8 388.6,339.8 389.1,339.8 389.6,339.8 390.1,339.8 390.6,339.8 391.1,339.8 391.6,339.8 392.1,339.8 392.6,339.8 393.1,339.8 393.6,339.8 394.1,339.8 394.6,339.8 395.1,339.8 395.6,339.8 396.1,339.8 396.6,339.8 397.1,339.8 397.6,339.8 398.1,339.8 398.6,339.8 399.1,339.8 399.6,339.8 400.1,339.8 400.6,339.8 401.1,339.8 401.6,339.8 402.1,339.8 402.6,339.8 403.1,339.8 403.6,339.8 404.1,339.8 404.6,339.8 405.1,339.8 405.6,339.8 406.1,339.8 406.6,339.8 407.1,339.8 407.6,339.8 408.1,339.8 408.6,339.8 409.1,339.8 409.6,339.8 410.1,339.8 410.6,339.8 411.1,339.8 411.6,339.8 412.1,339.8 412.6,339.8 413.1,339.8 413.6,339.8 414.1,339.8 414.6,339.8 415.1,339.8 415.6,339.8 416.1,339.8 416.6,339.8 417.1,339.8 417.6,339.8 418.1,339.8 418.6,339.8 419.1,339.8 419.6,339.8 420.1,339.8 420.6,339.8 421.1,339.8 421.6,339.8 422.1,339.8 422.6,339.8 423.1,339.8 423.6,339.8 424.1,339.8 424.7,339.8 425.2,339.8 425.7,339.8 426.2,339.7 426.7,339.7 427.2,339.7 427.7,339.6 428.2,339.5 428.7,339.4 429.2,339.2 429.7,339.0 430.2,338.7 430.7,338.3 431.2,337.8 431.7,337.2 432.2,336.3 432.7,335.2 433.2,333.9 433.7,332.3 434.2,330.3 434.7,328.0 435.2,325.2 435.7,322.0 436.2,318.3 436.7,314.2 437.2,309.6 437.7,304.4 438.2,298.9 438.7,293.0 439.2,286.9 439.7,280.5 440.2,274.1 440.7,267.7 441.2,261.4 441.7,255.5 442.2,249.9 442.7,244.9 443.2,240.6 443.7,236.9 444.2,234.0 444.7,231.8 445.2,230.3 445.4,229.8 445.7,230.4 446.2,232.0 446.7,234.3 447.2,237.3 447.7,241.0 448.2,245.4 448.7,250.5 449.2,256.1 449.7,262.0 450.2,268.3 450.7,274.7 451.2,281.2 451.7,287.5 452.2,293.7 452.7,299.5 453.2,305.0 453.7,310.1 454.2,314.6 454.7,318.8 455.2,322.4 455.7,322.8 456.2,324.0 456.7,321.1 457.2,322.0 457.7,321.6 458.2,327.2 458.7,327.8 459.2,329.2 459.7,329.5 460.2,326.3 460.7,330.7 461.2,327.9 461.7,330.2 462.2,329.7 462.7,328.8 463.2,325.9 463.7,327.6 464.2,331.9 464.7,330.1 465.2,331.1 465.7,325.9 466.2,326.4 466.7,326.5 467.2,326.4 467.7,327.0 468.2,325.6 468.7,326.8 469.2,330.7 469.7,326.5 470.2,329.1 470.7,327.2 471.2,328.5 471.7,329.5 472.2,330.0 472.7,329.5 473.2,330.3 473.7,331.8 474.2,326.7 474.7,326.9 475.2,325.5 475.7,327.6 476.2,328.6 476.7,327.2 477.2,331.6 477.7,327.7 478.2,329.4 478.7,331.3 479.2,331.1 479.7,328.8 480.2,330.8 480.7,329.3 481.2,328.2 481.7,329.8 482.2,331.7 482.7,329.1 483.2,330.9 483.7,330.9 484.2,331.2 484.7,330.0 485.2,332.1 485.7,327.9 486.2,325.7 486.7,329.8 487.2,327.4 487.7,325.9 488.2,332.3 488.7,331.6 489.2,326.8 489.7,326.6 490.2,328.0 490.7,331.5 491.2,329.7 491.7,326.5 492.2,326.4 492.7,327.1 493.2,331.5 493.7,326.8 494.2,330.3 494.7,327.9 495.2,332.1 495.7,326.2 496.2,328.9 496.7,328.1 497.2,331.8 497.7,328.9 498.2,329.2 498.7,329.2 499.2,330.9 499.7,328.3 500.2,331.6 500.7,332.9 501.2,334.9 501.7,332.1 502.2,334.4 502.7,335.4 503.2,336.4 503.7,337.3 504.2,338.3 504.7,339.3 505.2,339.8 505.8,339.8 506.3,339.8 506.8,339.8 507.3,339.8 507.8,339.8 508.3,339.8 508.8,339.8 509.3,339.8 509.8,339.8 510.3,339.8 510.8,339.8 511.3,339.8 511.8,339.8 512.3,339.8 512.8,339.8 513.3,339.8 513.8,339.8 514.3,339.8 514.8,339.8 515.3,339.8 515.8,339.8 516.3,339.8 516.8,339.8 517.3,339.8 517.8,339.8 518.3,339.8 518.8,339.8 519.3,339.8 519.8,339.8 520.3,339.8 520.8,339.8 521.3,339.8 521.8,339.8 522.3,339.8 522.8,339.8 523.3,339.8 523.8,339.8 524.3,339.8 524.8,339.8 525.3,339.8 525.8,339.8 526.3,339.8 526.8,339.8 527.3,339.8 527.8,339.8 528.3,339.8 528.8,339.8 529.3,339.8 529.8,339.8 530.3,339.8 530.8,339.8 531.3,339.8 531.8,339.8 532.3,339.8 532.8,339.8 533.3,339.8 533.8,339.8 534.3,339.8 534.8,339.8 535.3,339.8 535.8,339.8 536.3,339.8 536.8,339.8 537.3,339.8 537.8,339.8 538.3,339.8 538.8,339.8 539.3,339.8 539.8,339.8 540.3,339.8 540.8,339.8 541.3,339.8 541.8,339.8 542.3,339.8 542.8,339.8 543.3,339.8 543.8,339.8 544.3,339.8 544.8,339.8 545.3,339.8 545.8,339.8 545.8,339.8" fill="#f08686" fill-opacity="0.62" stroke="none"/>
<line x1="383.60" y1="339.80" x2="545.80" y2="339.80" stroke="#e84040" stroke-width="0.9"/>
<polyline points="383.6,339.8 384.1,339.8 384.6,339.8 385.1,339.8 385.6,339.8 386.1,339.8 386.6,339.8 387.1,339.8 387.6,339.8 388.1,339.8 388.6,339.8 389.1,339.8 389.6,339.8 390.1,339.8 390.6,339.8 391.1,339.8 391.6,339.8 392.1,339.8 392.6,339.8 393.1,339.8 393.6,339.8 394.1,339.8 394.6,339.8 395.1,339.8 395.6,339.8 396.1,339.8 396.6,339.8 397.1,339.8 397.6,339.8 398.1,339.8 398.6,339.8 399.1,339.8 399.6,339.8 400.1,339.8 400.6,339.8 401.1,339.8 401.6,339.8 402.1,339.8 402.6,339.8 403.1,339.8 403.6,339.8 404.1,339.8 404.6,339.8 405.1,339.8 405.6,339.8 406.1,339.8 406.6,339.8 407.1,339.8 407.6,339.8 408.1,339.8 408.6,339.8 409.1,339.8 409.6,339.8 410.1,339.8 410.6,339.8 411.1,339.8 411.6,339.8 412.1,339.8 412.6,339.8 413.1,339.8 413.6,339.8 414.1,339.8 414.6,339.8 415.1,339.8 415.6,339.8 416.1,339.8 416.6,339.8 417.1,339.8 417.6,339.8 418.1,339.8 418.6,339.8 419.1,339.8 419.6,339.8 420.1,339.8 420.6,339.8 421.1,339.8 421.6,339.8 422.1,339.8 422.6,339.8 423.1,339.8 423.6,339.8 424.1,339.8 424.7,339.8 425.2,339.8 425.7,339.8 426.2,339.7 426.7,339.7 427.2,339.7 427.7,339.6 428.2,339.5 428.7,339.4 429.2,339.2 429.7,339.0 430.2,338.7 430.7,338.3 431.2,337.8 431.7,337.2 432.2,336.3 432.7,335.2 433.2,333.9 433.7,332.3 434.2,330.3 434.7,328.0 435.2,325.2 435.7,322.0 436.2,318.3 436.7,314.2 437.2,309.6 437.7,304.4 438.2,298.9 438.7,293.0 439.2,286.9 439.7,280.5 440.2,274.1 440.7,267.7 441.2,261.4 441.7,255.5 442.2,249.9 442.7,244.9 443.2,240.6 443.7,236.9 444.2,234.0 444.7,231.8 445.2,230.3 445.4,229.8 445.7,230.4 446.2,232.0 446.7,234.3 447.2,237.3 447.7,241.0 448.2,245.4 448.7,250.5 449.2,256.1 449.7,262.0 450.2,268.3 450.7,274.7 451.2,281.2 451.7,287.5 452.2,293.7 452.7,299.5 453.2,305.0 453.7,310.1 454.2,314.6 454.7,318.8 455.2,322.4 455.7,322.8 456.2,324.0 456.7,321.1 457.2,322.0 457.7,321.6 458.2,327.2 458.7,327.8 459.2,329.2 459.7,329.5 460.2,326.3 460.7,330.7 461.2,327.9 461.7,330.2 462.2,329.7 462.7,328.8 463.2,325.9 463.7,327.6 464.2,331.9 464.7,330.1 465.2,331.1 465.7,325.9 466.2,326.4 466.7,326.5 467.2,326.4 467.7,327.0 468.2,325.6 468.7,326.8 469.2,330.7 469.7,326.5 470.2,329.1 470.7,327.2 471.2,328.5 471.7,329.5 472.2,330.0 472.7,329.5 473.2,330.3 473.7,331.8 474.2,326.7 474.7,326.9 475.2,325.5 475.7,327.6 476.2,328.6 476.7,327.2 477.2,331.6 477.7,327.7 478.2,329.4 478.7,331.3 479.2,331.1 479.7,328.8 480.2,330.8 480.7,329.3 481.2,328.2 481.7,329.8 482.2,331.7 482.7,329.1 483.2,330.9 483.7,330.9 484.2,331.2 484.7,330.0 485.2,332.1 485.7,327.9 486.2,325.7 486.7,329.8 487.2,327.4 487.7,325.9 488.2,332.3 488.7,331.6 489.2,326.8 489.7,326.6 490.2,328.0 490.7,331.5 491.2,329.7 491.7,326.5 492.2,326.4 492.7,327.1 493.2,331.5 493.7,326.8 494.2,330.3 494.7,327.9 495.2,332.1 495.7,326.2 496.2,328.9 496.7,328.1 497.2,331.8 497.7,328.9 498.2,329.2 498.7,329.2 499.2,330.9 499.7,328.3 500.2,331.6 500.7,332.9 501.2,334.9 501.7,332.1 502.2,334.4 502.7,335.4 503.2,336.4 503.7,337.3 504.2,338.3 504.7,339.3 505.2,339.8 505.8,339.8 506.3,339.8 506.8,339.8 507.3,339.8 507.8,339.8 508.3,339.8 508.8,339.8 509.3,339.8 509.8,339.8 510.3,339.8 510.8,339.8 511.3,339.8 511.8,339.8 512.3,339.8 512.8,339.8 513.3,339.8 513.8,339.8 514.3,339.8 514.8,339.8 515.3,339.8 515.8,339.8 516.3,339.8 516.8,339.8 517.3,339.8 517.8,339.8 518.3,339.8 518.8,339.8 519.3,339.8 519.8,339.8 520.3,339.8 520.8,339.8 521.3,339.8 521.8,339.8 522.3,339.8 522.8,339.8 523.3,339.8 523.8,339.8 524.3,339.8 524.8,339.8 525.3,339.8 525.8,339.8 526.3,339.8 526.8,339.8 527.3,339.8 527.8,339.8 528.3,339.8 528.8,339.8 529.3,339.8 529.8,339.8 530.3,339.8 530.8,339.8 531.3,339.8 531.8,339.8 532.3,339.8 532.8,339.8 533.3,339.8 533.8,339.8 534.3,339.8 534.8,339.8 535.3,339.8 535.8,339.8 536.3,339.8 536.8,339.8 537.3,339.8 537.8,339.8 538.3,339.8 538.8,339.8 539.3,339.8 539.8,339.8 540.3,339.8 540.8,339.8 541.3,339.8 541.8,339.8 542.3,339.8 542.8,339.8 543.3,339.8 543.8,339.8 544.3,339.8 544.8,339.8 545.3,339.8 545.8,339.8" fill="none" stroke="#ec3434" stroke-width="0.8" stroke-linejoin="round"/>
<polygon points="374.2,345.7 374.2,345.7 374.7,345.7 375.2,345.7 375.7,345.7 376.2,345.7 376.7,345.7 377.2,345.7 377.7,345.7 378.2,345.7 378.7,345.7 379.2,345.7 379.7,345.7 380.2,345.7 380.7,345.7 381.2,345.7 381.7,345.7 382.2,345.7 382.7,345.7 383.2,345.7 383.7,345.7 384.2,345.7 384.7,345.7 385.2,345.7 385.7,345.7 386.2,345.7 386.7,345.7 387.2,345.7 387.7,345.7 388.2,345.7 388.7,345.7 389.2,345.7 389.7,345.7 390.2,345.7 390.7,345.7 391.2,345.7 391.7,345.7 392.2,345.7 392.7,345.7 393.2,345.7 393.7,345.7 394.2,345.7 394.7,345.7 395.2,345.7 395.7,345.7 396.2,345.7 396.7,345.7 397.2,345.7 397.7,345.7 398.2,345.7 398.7,345.7 399.2,345.7 399.7,345.7 400.2,345.7 400.7,345.7 401.2,345.7 401.7,345.7 402.2,345.7 402.7,345.7 403.2,345.7 403.7,345.7 404.2,345.7 404.7,345.7 405.2,345.7 405.7,345.7 406.2,345.7 406.7,345.7 407.2,345.7 407.7,345.7 408.2,345.7 408.7,345.7 409.2,345.7 409.7,345.7 410.2,345.7 410.7,345.7 411.2,345.7 411.7,345.7 412.2,345.7 412.7,345.7 413.2,345.7 413.7,345.7 414.2,345.7 414.8,345.7 415.3,345.7 415.8,345.7 416.3,345.6 416.8,345.6 417.3,345.6 417.8,345.5 418.3,345.5 418.8,345.4 419.3,345.3 419.8,345.2 420.3,345.0 420.8,344.7 421.3,344.5 421.8,344.1 422.3,343.6 422.8,343.1 423.3,342.4 423.8,341.6 424.3,340.6 424.8,339.4 425.3,338.0 425.8,336.3 426.3,334.4 426.8,332.2 427.3,329.7 427.8,326.9 428.3,323.8 428.8,320.4 429.3,316.6 429.8,312.5 430.3,308.2 430.8,303.5 431.3,298.7 431.8,293.7 432.3,288.6 432.8,283.5 433.3,278.4 433.8,273.3 434.3,268.5 434.8,263.9 435.3,259.6 435.8,255.6 436.3,252.1 436.8,249.1 437.3,246.5 437.8,244.5 438.3,242.9 438.8,241.8 439.0,241.4 439.3,241.9 439.8,243.1 440.3,244.7 440.8,246.8 441.3,249.4 441.8,252.5 442.3,256.1 442.8,260.1 443.3,264.4 443.8,269.0 444.3,273.9 444.8,279.0 445.3,284.1 445.8,289.2 446.3,294.3 446.8,299.3 447.3,304.1 447.8,308.7 448.3,313.0 448.8,317.1 449.3,320.8 449.8,324.2 450.3,327.3 450.8,330.0 451.3,330.0 451.8,329.3 452.3,333.1 452.8,328.9 453.3,330.1 453.8,328.4 454.3,334.8 454.8,335.7 455.3,332.1 455.8,332.8 456.3,335.8 456.8,332.7 457.3,335.2 457.8,332.0 458.3,337.6 458.8,336.8 459.3,331.2 459.8,335.8 460.3,336.7 460.8,332.2 461.3,333.7 461.8,337.9 462.3,334.5 462.8,333.7 463.3,337.9 463.8,333.9 464.3,338.4 464.8,336.7 465.3,338.9 465.8,337.9 466.3,331.5 466.8,336.4 467.3,331.5 467.8,336.2 468.3,334.9 468.8,332.7 469.3,334.3 469.8,339.2 470.3,335.0 470.8,334.3 471.3,337.7 471.8,338.0 472.3,331.1 472.8,333.8 473.3,336.1 473.8,333.5 474.3,335.1 474.8,329.9 475.3,332.0 475.8,335.0 476.3,328.6 476.8,334.3 477.3,332.3 477.8,334.1 478.3,327.9 478.8,333.0 479.3,329.4 479.8,332.9 480.3,329.5 480.8,327.6 481.3,328.7 481.8,329.2 482.3,328.8 482.8,329.1 483.3,327.6 483.8,331.7 484.3,328.3 484.8,330.2 485.3,324.7 485.8,324.0 486.3,331.1 486.8,330.3 487.3,325.5 487.8,326.4 488.3,331.2 488.8,325.6 489.3,323.8 489.8,328.4 490.3,329.2 490.8,327.6 491.3,324.6 491.8,330.5 492.3,330.4 492.8,331.6 493.3,328.1 493.8,329.6 494.3,331.6 494.8,330.7 495.3,333.8 495.9,331.7 496.4,326.3 496.9,329.8 497.4,332.6 497.9,327.3 498.4,333.1 498.9,335.3 499.4,338.4 499.9,338.7 500.4,339.6 500.9,340.6 501.4,336.5 501.9,342.9 502.4,342.2 502.9,343.4 503.4,344.0 503.9,344.3 504.4,344.7 504.9,345.0 505.4,345.3 505.9,345.6 506.4,345.7 506.9,345.7 507.4,345.7 507.9,345.7 508.4,345.7 508.9,345.7 509.4,345.7 509.9,345.7 510.4,345.7 510.9,345.7 511.4,345.7 511.9,345.7 512.4,345.7 512.9,345.7 513.4,345.7 513.9,345.7 514.4,345.7 514.9,345.7 515.4,345.7 515.9,345.7 516.4,345.7 516.9,345.7 517.4,345.7 517.9,345.7 518.4,345.7 518.9,345.7 519.4,345.7 519.9,345.7 520.4,345.7 520.9,345.7 521.4,345.7 521.9,345.7 522.4,345.7 522.9,345.7 523.4,345.7 523.9,345.7 524.4,345.7 524.9,345.7 525.4,345.7 525.9,345.7 526.4,345.7 526.9,345.7 527.4,345.7 527.9,345.7 528.4,345.7 528.9,345.7 529.4,345.7 529.9,345.7 530.4,345.7 530.9,345.7 531.4,345.7 531.9,345.7 532.4,345.7 532.9,345.7 533.4,345.7 533.9,345.7 534.4,345.7 534.9,345.7 535.4,345.7 535.9,345.7 536.4,345.7 536.4,345.7" fill="#e85a5a" fill-opacity="0.6" stroke="none"/>
<line x1="374.20" y1="345.70" x2="536.40" y2="345.70" stroke="#d42a2a" stroke-width="0.9"/>
<polyline points="374.2,345.7 374.7,345.7 375.2,345.7 375.7,345.7 376.2,345.7 376.7,345.7 377.2,345.7 377.7,345.7 378.2,345.7 378.7,345.7 379.2,345.7 379.7,345.7 380.2,345.7 380.7,345.7 381.2,345.7 381.7,345.7 382.2,345.7 382.7,345.7 383.2,345.7 383.7,345.7 384.2,345.7 384.7,345.7 385.2,345.7 385.7,345.7 386.2,345.7 386.7,345.7 387.2,345.7 387.7,345.7 388.2,345.7 388.7,345.7 389.2,345.7 389.7,345.7 390.2,345.7 390.7,345.7 391.2,345.7 391.7,345.7 392.2,345.7 392.7,345.7 393.2,345.7 393.7,345.7 394.2,345.7 394.7,345.7 395.2,345.7 395.7,345.7 396.2,345.7 396.7,345.7 397.2,345.7 397.7,345.7 398.2,345.7 398.7,345.7 399.2,345.7 399.7,345.7 400.2,345.7 400.7,345.7 401.2,345.7 401.7,345.7 402.2,345.7 402.7,345.7 403.2,345.7 403.7,345.7 404.2,345.7 404.7,345.7 405.2,345.7 405.7,345.7 406.2,345.7 406.7,345.7 407.2,345.7 407.7,345.7 408.2,345.7 408.7,345.7 409.2,345.7 409.7,345.7 410.2,345.7 410.7,345.7 411.2,345.7 411.7,345.7 412.2,345.7 412.7,345.7 413.2,345.7 413.7,345.7 414.2,345.7 414.8,345.7 415.3,345.7 415.8,345.7 416.3,345.6 416.8,345.6 417.3,345.6 417.8,345.5 418.3,345.5 418.8,345.4 419.3,345.3 419.8,345.2 420.3,345.0 420.8,344.7 421.3,344.5 421.8,344.1 422.3,343.6 422.8,343.1 423.3,342.4 423.8,341.6 424.3,340.6 424.8,339.4 425.3,338.0 425.8,336.3 426.3,334.4 426.8,332.2 427.3,329.7 427.8,326.9 428.3,323.8 428.8,320.4 429.3,316.6 429.8,312.5 430.3,308.2 430.8,303.5 431.3,298.7 431.8,293.7 432.3,288.6 432.8,283.5 433.3,278.4 433.8,273.3 434.3,268.5 434.8,263.9 435.3,259.6 435.8,255.6 436.3,252.1 436.8,249.1 437.3,246.5 437.8,244.5 438.3,242.9 438.8,241.8 439.0,241.4 439.3,241.9 439.8,243.1 440.3,244.7 440.8,246.8 441.3,249.4 441.8,252.5 442.3,256.1 442.8,260.1 443.3,264.4 443.8,269.0 444.3,273.9 444.8,279.0 445.3,284.1 445.8,289.2 446.3,294.3 446.8,299.3 447.3,304.1 447.8,308.7 448.3,313.0 448.8,317.1 449.3,320.8 449.8,324.2 450.3,327.3 450.8,330.0 451.3,330.0 451.8,329.3 452.3,333.1 452.8,328.9 453.3,330.1 453.8,328.4 454.3,334.8 454.8,335.7 455.3,332.1 455.8,332.8 456.3,335.8 456.8,332.7 457.3,335.2 457.8,332.0 458.3,337.6 458.8,336.8 459.3,331.2 459.8,335.8 460.3,336.7 460.8,332.2 461.3,333.7 461.8,337.9 462.3,334.5 462.8,333.7 463.3,337.9 463.8,333.9 464.3,338.4 464.8,336.7 465.3,338.9 465.8,337.9 466.3,331.5 466.8,336.4 467.3,331.5 467.8,336.2 468.3,334.9 468.8,332.7 469.3,334.3 469.8,339.2 470.3,335.0 470.8,334.3 471.3,337.7 471.8,338.0 472.3,331.1 472.8,333.8 473.3,336.1 473.8,333.5 474.3,335.1 474.8,329.9 475.3,332.0 475.8,335.0 476.3,328.6 476.8,334.3 477.3,332.3 477.8,334.1 478.3,327.9 478.8,333.0 479.3,329.4 479.8,332.9 480.3,329.5 480.8,327.6 481.3,328.7 481.8,329.2 482.3,328.8 482.8,329.1 483.3,327.6 483.8,331.7 484.3,328.3 484.8,330.2 485.3,324.7 485.8,324.0 486.3,331.1 486.8,330.3 487.3,325.5 487.8,326.4 488.3,331.2 488.8,325.6 489.3,323.8 489.8,328.4 490.3,329.2 490.8,327.6 491.3,324.6 491.8,330.5 492.3,330.4 492.8,331.6 493.3,328.1 493.8,329.6 494.3,331.6 494.8,330.7 495.3,333.8 495.9,331.7 496.4,326.3 496.9,329.8 497.4,332.6 497.9,327.3 498.4,333.1 498.9,335.3 499.4,338.4 499.9,338.7 500.4,339.6 500.9,340.6 501.4,336.5 501.9,342.9 502.4,342.2 502.9,343.4 503.4,344.0 503.9,344.3 504.4,344.7 504.9,345.0 505.4,345.3 505.9,345.6 506.4,345.7 506.9,345.7 507.4,345.7 507.9,345.7 508.4,345.7 508.9,345.7 509.4,345.7 509.9,345.7 510.4,345.7 510.9,345.7 511.4,345.7 511.9,345.7 512.4,345.7 512.9,345.7 513.4,345.7 513.9,345.7 514.4,345.7 514.9,345.7 515.4,345.7 515.9,345.7 516.4,345.7 516.9,345.7 517.4,345.7 517.9,345.7 518.4,345.7 518.9,345.7 519.4,345.7 519.9,345.7 520.4,345.7 520.9,345.7 521.4,345.7 521.9,345.7 522.4,345.7 522.9,345.7 523.4,345.7 523.9,345.7 524.4,345.7 524.9,345.7 525.4,345.7 525.9,345.7 526.4,345.7 526.9,345.7 527.4,345.7 527.9,345.7 528.4,345.7 528.9,345.7 529.4,345.7 529.9,345.7 530.4,345.7 530.9,345.7 531.4,345.7 531.9,345.7 532.4,345.7 532.9,345.7 533.4,345.7 533.9,345.7 534.4,345.7 534.9,345.7 535.4,345.7 535.9,345.7 536.4,345.7" fill="none" stroke="#d41c1c" stroke-width="0.8" stroke-linejoin="round"/>
<polygon points="364.8,351.6 364.8,351.6 365.3,351.6 365.8,351.6 366.3,351.6 366.8,351.6 367.3,351.6 367.8,351.6 368.3,351.6 368.8,351.6 369.3,351.6 369.8,351.6 370.3,351.6 370.8,351.6 371.3,351.6 371.8,351.6 372.3,351.6 372.8,351.6 373.3,351.6 373.8,351.6 374.3,351.6 374.8,351.6 375.3,351.6 375.8,351.6 376.3,351.6 376.8,351.6 377.3,351.6 377.8,351.6 378.3,351.6 378.8,351.6 379.3,351.6 379.8,351.6 380.3,351.6 380.8,351.6 381.3,351.6 381.8,351.6 382.3,351.6 382.8,351.6 383.3,351.6 383.8,351.6 384.3,351.6 384.8,351.6 385.3,351.6 385.8,351.6 386.3,351.6 386.8,351.6 387.3,351.6 387.8,351.6 388.3,351.6 388.8,351.5 389.3,351.5 389.8,351.5 390.3,350.2 390.8,351.6 391.3,350.5 391.8,351.6 392.3,349.4 392.8,351.4 393.3,348.9 393.8,349.0 394.3,348.2 394.8,347.6 395.3,349.2 395.8,348.8 396.0,347.9 396.3,349.0 396.8,349.2 397.3,349.5 397.8,348.4 398.3,348.7 398.8,349.3 399.3,351.0 399.8,349.6 400.3,350.9 400.8,351.6 401.3,351.4 401.8,351.6 402.3,351.5 402.8,351.5 403.3,351.6 403.8,351.6 404.3,351.6 404.8,351.6 405.4,351.6 405.9,351.6 406.4,351.6 406.9,351.6 407.4,351.5 407.9,351.5 408.4,351.5 408.9,351.4 409.4,351.3 409.9,351.2 410.4,351.0 410.9,350.8 411.4,350.5 411.9,350.2 412.4,349.7 412.9,349.1 413.4,348.3 413.9,347.3 414.4,346.1 414.9,344.6 415.4,342.8 415.9,340.7 416.4,338.1 416.9,335.1 417.4,331.7 417.9,327.7 418.4,323.3 418.9,318.3 419.4,312.8 419.9,306.9 420.4,300.6 420.9,293.9 421.4,287.0 421.9,279.9 422.4,272.8 422.9,265.8 423.4,259.1 423.9,252.7 424.4,247.0 424.9,241.8 425.4,237.5 425.9,234.0 426.4,231.3 426.9,229.5 427.0,229.2 427.4,230.3 427.9,232.5 428.4,235.6 428.9,239.6 429.4,244.3 429.9,249.8 430.4,255.9 430.9,262.4 431.4,269.3 431.9,276.4 432.4,283.5 432.9,290.5 433.4,297.3 433.9,303.8 434.4,310.0 434.9,315.7 435.4,320.9 435.9,325.6 436.4,332.8 436.9,333.0 437.4,337.7 437.9,338.9 438.4,336.8 438.9,339.2 439.4,341.2 439.9,338.3 440.4,337.5 440.9,341.2 441.4,337.9 441.9,344.7 442.4,343.8 442.9,343.6 443.4,338.2 443.9,340.0 444.4,339.9 444.9,343.0 445.4,341.6 445.9,338.8 446.4,344.5 446.9,344.5 447.4,345.0 447.9,342.0 448.4,339.4 448.9,341.5 449.4,342.6 449.9,342.0 450.4,344.3 450.9,338.7 451.4,343.0 451.9,343.8 452.4,343.2 452.9,339.5 453.4,343.1 453.9,338.8 454.4,342.9 454.9,342.1 455.4,344.7 455.9,338.7 456.4,339.4 456.9,341.7 457.4,344.3 457.9,341.5 458.4,342.3 458.9,339.0 459.4,338.3 459.9,339.6 460.4,342.8 460.9,344.6 461.4,338.4 461.9,338.0 462.4,343.6 462.9,341.1 463.4,341.2 463.9,337.6 464.4,344.3 464.9,344.2 465.4,338.4 465.9,340.3 466.4,341.0 466.9,338.6 467.4,339.8 467.9,339.0 468.4,342.1 468.9,343.2 469.4,343.6 469.9,341.2 470.4,338.8 470.9,340.7 471.4,340.8 471.9,338.8 472.4,338.0 472.9,338.7 473.4,340.7 473.9,336.9 474.4,336.9 474.9,336.2 475.4,336.6 475.9,343.5 476.4,339.3 476.9,342.1 477.4,342.3 477.9,341.9 478.4,345.2 478.9,344.9 479.4,340.1 479.9,345.3 480.4,341.5 480.9,343.5 481.4,346.5 481.9,346.9 482.4,345.2 482.9,344.9 483.4,347.8 483.9,350.2 484.4,349.8 484.9,345.2 485.4,346.5 485.9,351.4 486.4,348.9 487.0,349.3 487.5,349.7 488.0,350.1 488.5,350.4 489.0,350.7 489.5,350.9 490.0,351.1 490.5,351.3 491.0,351.6 491.5,351.6 492.0,351.6 492.5,351.6 493.0,351.6 493.5,351.6 494.0,351.6 494.5,351.6 495.0,351.6 495.5,351.6 496.0,351.6 496.5,351.6 497.0,351.6 497.5,351.6 498.0,351.6 498.5,351.6 499.0,351.6 499.5,351.6 500.0,351.6 500.5,351.6 501.0,351.6 501.5,351.6 502.0,351.6 502.5,351.6 503.0,351.6 503.5,351.6 504.0,351.6 504.5,351.6 505.0,351.6 505.5,351.6 506.0,351.6 506.5,351.6 507.0,351.6 507.5,351.6 508.0,351.6 508.5,351.6 509.0,351.6 509.5,351.6 510.0,351.6 510.5,351.6 511.0,351.6 511.5,351.6 512.0,351.6 512.5,351.6 513.0,351.6 513.5,351.6 514.0,351.6 514.5,351.6 515.0,351.6 515.5,351.6 516.0,351.6 516.5,351.6 517.0,351.6 517.5,351.6 518.0,351.6 518.5,351.6 519.0,351.6 519.5,351.6 520.0,351.6 520.5,351.6 521.0,351.6 521.5,351.6 522.0,351.6 522.5,351.6 523.0,351.6 523.5,351.6 524.0,351.6 524.5,351.6 525.0,351.6 525.5,351.6 526.0,351.6 526.5,351.6 527.0,351.6 527.0,351.6" fill="#985050" fill-opacity="0.6" stroke="none"/>
<line x1="364.80" y1="351.60" x2="527.00" y2="351.60" stroke="#8e2a2a" stroke-width="0.9"/>
<polyline points="364.8,351.6 365.3,351.6 365.8,351.6 366.3,351.6 366.8,351.6 367.3,351.6 367.8,351.6 368.3,351.6 368.8,351.6 369.3,351.6 369.8,351.6 370.3,351.6 370.8,351.6 371.3,351.6 371.8,351.6 372.3,351.6 372.8,351.6 373.3,351.6 373.8,351.6 374.3,351.6 374.8,351.6 375.3,351.6 375.8,351.6 376.3,351.6 376.8,351.6 377.3,351.6 377.8,351.6 378.3,351.6 378.8,351.6 379.3,351.6 379.8,351.6 380.3,351.6 380.8,351.6 381.3,351.6 381.8,351.6 382.3,351.6 382.8,351.6 383.3,351.6 383.8,351.6 384.3,351.6 384.8,351.6 385.3,351.6 385.8,351.6 386.3,351.6 386.8,351.6 387.3,351.6 387.8,351.6 388.3,351.6 388.8,351.5 389.3,351.5 389.8,351.5 390.3,350.2 390.8,351.6 391.3,350.5 391.8,351.6 392.3,349.4 392.8,351.4 393.3,348.9 393.8,349.0 394.3,348.2 394.8,347.6 395.3,349.2 395.8,348.8 396.0,347.9 396.3,349.0 396.8,349.2 397.3,349.5 397.8,348.4 398.3,348.7 398.8,349.3 399.3,351.0 399.8,349.6 400.3,350.9 400.8,351.6 401.3,351.4 401.8,351.6 402.3,351.5 402.8,351.5 403.3,351.6 403.8,351.6 404.3,351.6 404.8,351.6 405.4,351.6 405.9,351.6 406.4,351.6 406.9,351.6 407.4,351.5 407.9,351.5 408.4,351.5 408.9,351.4 409.4,351.3 409.9,351.2 410.4,351.0 410.9,350.8 411.4,350.5 411.9,350.2 412.4,349.7 412.9,349.1 413.4,348.3 413.9,347.3 414.4,346.1 414.9,344.6 415.4,342.8 415.9,340.7 416.4,338.1 416.9,335.1 417.4,331.7 417.9,327.7 418.4,323.3 418.9,318.3 419.4,312.8 419.9,306.9 420.4,300.6 420.9,293.9 421.4,287.0 421.9,279.9 422.4,272.8 422.9,265.8 423.4,259.1 423.9,252.7 424.4,247.0 424.9,241.8 425.4,237.5 425.9,234.0 426.4,231.3 426.9,229.5 427.0,229.2 427.4,230.3 427.9,232.5 428.4,235.6 428.9,239.6 429.4,244.3 429.9,249.8 430.4,255.9 430.9,262.4 431.4,269.3 431.9,276.4 432.4,283.5 432.9,290.5 433.4,297.3 433.9,303.8 434.4,310.0 434.9,315.7 435.4,320.9 435.9,325.6 436.4,332.8 436.9,333.0 437.4,337.7 437.9,338.9 438.4,336.8 438.9,339.2 439.4,341.2 439.9,338.3 440.4,337.5 440.9,341.2 441.4,337.9 441.9,344.7 442.4,343.8 442.9,343.6 443.4,338.2 443.9,340.0 444.4,339.9 444.9,343.0 445.4,341.6 445.9,338.8 446.4,344.5 446.9,344.5 447.4,345.0 447.9,342.0 448.4,339.4 448.9,341.5 449.4,342.6 449.9,342.0 450.4,344.3 450.9,338.7 451.4,343.0 451.9,343.8 452.4,343.2 452.9,339.5 453.4,343.1 453.9,338.8 454.4,342.9 454.9,342.1 455.4,344.7 455.9,338.7 456.4,339.4 456.9,341.7 457.4,344.3 457.9,341.5 458.4,342.3 458.9,339.0 459.4,338.3 459.9,339.6 460.4,342.8 460.9,344.6 461.4,338.4 461.9,338.0 462.4,343.6 462.9,341.1 463.4,341.2 463.9,337.6 464.4,344.3 464.9,344.2 465.4,338.4 465.9,340.3 466.4,341.0 466.9,338.6 467.4,339.8 467.9,339.0 468.4,342.1 468.9,343.2 469.4,343.6 469.9,341.2 470.4,338.8 470.9,340.7 471.4,340.8 471.9,338.8 472.4,338.0 472.9,338.7 473.4,340.7 473.9,336.9 474.4,336.9 474.9,336.2 475.4,336.6 475.9,343.5 476.4,339.3 476.9,342.1 477.4,342.3 477.9,341.9 478.4,345.2 478.9,344.9 479.4,340.1 479.9,345.3 480.4,341.5 480.9,343.5 481.4,346.5 481.9,346.9 482.4,345.2 482.9,344.9 483.4,347.8 483.9,350.2 484.4,349.8 484.9,345.2 485.4,346.5 485.9,351.4 486.4,348.9 487.0,349.3 487.5,349.7 488.0,350.1 488.5,350.4 489.0,350.7 489.5,350.9 490.0,351.1 490.5,351.3 491.0,351.6 491.5,351.6 492.0,351.6 492.5,351.6 493.0,351.6 493.5,351.6 494.0,351.6 494.5,351.6 495.0,351.6 495.5,351.6 496.0,351.6 496.5,351.6 497.0,351.6 497.5,351.6 498.0,351.6 498.5,351.6 499.0,351.6 499.5,351.6 500.0,351.6 500.5,351.6 501.0,351.6 501.5,351.6 502.0,351.6 502.5,351.6 503.0,351.6 503.5,351.6 504.0,351.6 504.5,351.6 505.0,351.6 505.5,351.6 506.0,351.6 506.5,351.6 507.0,351.6 507.5,351.6 508.0,351.6 508.5,351.6 509.0,351.6 509.5,351.6 510.0,351.6 510.5,351.6 511.0,351.6 511.5,351.6 512.0,351.6 512.5,351.6 513.0,351.6 513.5,351.6 514.0,351.6 514.5,351.6 515.0,351.6 515.5,351.6 516.0,351.6 516.5,351.6 517.0,351.6 517.5,351.6 518.0,351.6 518.5,351.6 519.0,351.6 519.5,351.6 520.0,351.6 520.5,351.6 521.0,351.6 521.5,351.6 522.0,351.6 522.5,351.6 523.0,351.6 523.5,351.6 524.0,351.6 524.5,351.6 525.0,351.6 525.5,351.6 526.0,351.6 526.5,351.6 527.0,351.6" fill="none" stroke="#5e1212" stroke-width="0.9" stroke-linejoin="round"/>
<line x1="364.8" y1="351.6" x2="527" y2="351.6" stroke="#222" stroke-width="0.9"/>
<line x1="364.80" y1="351.6" x2="364.80" y2="353.90000000000003" stroke="#333" stroke-width="0.7"/>
<line x1="372.73" y1="351.6" x2="372.73" y2="353.90000000000003" stroke="#333" stroke-width="0.7"/>
<line x1="380.65" y1="351.6" x2="380.65" y2="353.90000000000003" stroke="#333" stroke-width="0.7"/>
<line x1="388.57" y1="351.6" x2="388.57" y2="353.90000000000003" stroke="#333" stroke-width="0.7"/>
<line x1="396.50" y1="351.6" x2="396.50" y2="353.90000000000003" stroke="#333" stroke-width="0.7"/>
<line x1="404.43" y1="351.6" x2="404.43" y2="353.90000000000003" stroke="#333" stroke-width="0.7"/>
<line x1="412.35" y1="351.6" x2="412.35" y2="353.90000000000003" stroke="#333" stroke-width="0.7"/>
<line x1="420.28" y1="351.6" x2="420.28" y2="353.90000000000003" stroke="#333" stroke-width="0.7"/>
<line x1="428.20" y1="351.6" x2="428.20" y2="353.90000000000003" stroke="#333" stroke-width="0.7"/>
<line x1="436.12" y1="351.6" x2="436.12" y2="353.90000000000003" stroke="#333" stroke-width="0.7"/>
<line x1="444.05" y1="351.6" x2="444.05" y2="353.90000000000003" stroke="#333" stroke-width="0.7"/>
<line x1="451.98" y1="351.6" x2="451.98" y2="353.90000000000003" stroke="#333" stroke-width="0.7"/>
<line x1="459.90" y1="351.6" x2="459.90" y2="353.90000000000003" stroke="#333" stroke-width="0.7"/>
<line x1="467.83" y1="351.6" x2="467.83" y2="353.90000000000003" stroke="#333" stroke-width="0.7"/>
<line x1="475.75" y1="351.6" x2="475.75" y2="353.90000000000003" stroke="#333" stroke-width="0.7"/>
<line x1="483.68" y1="351.6" x2="483.68" y2="353.90000000000003" stroke="#333" stroke-width="0.7"/>
<line x1="491.60" y1="351.6" x2="491.60" y2="353.90000000000003" stroke="#333" stroke-width="0.7"/>
<line x1="499.52" y1="351.6" x2="499.52" y2="353.90000000000003" stroke="#333" stroke-width="0.7"/>
<line x1="507.45" y1="351.6" x2="507.45" y2="353.90000000000003" stroke="#333" stroke-width="0.7"/>
<line x1="515.38" y1="351.6" x2="515.38" y2="353.90000000000003" stroke="#333" stroke-width="0.7"/>
<line x1="523.30" y1="351.6" x2="523.30" y2="353.90000000000003" stroke="#333" stroke-width="0.7"/>
<line x1="364.80" y1="351.6" x2="364.80" y2="355.20000000000005" stroke="#111" stroke-width="1.1"/>
<line x1="396.50" y1="351.6" x2="396.50" y2="355.20000000000005" stroke="#111" stroke-width="1.1"/>
<line x1="428.20" y1="351.6" x2="428.20" y2="355.20000000000005" stroke="#111" stroke-width="1.1"/>
<line x1="459.90" y1="351.6" x2="459.90" y2="355.20000000000005" stroke="#111" stroke-width="1.1"/>
<line x1="491.60" y1="351.6" x2="491.60" y2="355.20000000000005" stroke="#111" stroke-width="1.1"/>
<line x1="523.30" y1="351.6" x2="523.30" y2="355.20000000000005" stroke="#111" stroke-width="1.1"/>
<text transform="translate(364.80,362.20) scale(1.180,1)" font-size="5.2" text-anchor="middle" font-weight="normal" fill="#444" >0</text>
<text transform="translate(396.50,362.20) scale(1.180,1)" font-size="5.2" text-anchor="middle" font-weight="normal" fill="#444" >200</text>
<text transform="translate(428.20,362.20) scale(1.180,1)" font-size="5.2" text-anchor="middle" font-weight="normal" fill="#444" >400</text>
<text transform="translate(459.90,362.20) scale(1.180,1)" font-size="5.2" text-anchor="middle" font-weight="normal" fill="#444" >600</text>
<text transform="translate(491.60,362.20) scale(1.180,1)" font-size="5.2" text-anchor="middle" font-weight="normal" fill="#444" >800</text>
<text transform="translate(523.30,362.20) scale(1.180,1)" font-size="5.2" text-anchor="middle" font-weight="normal" fill="#444" >1.0K</text>
<line x1="396.4" y1="195.9" x2="396.4" y2="334" stroke="#1a1a1a" stroke-width="1.15" stroke-dasharray="14.3,13.2"/>
<line x1="396.4" y1="334.4" x2="396.4" y2="351.6" stroke="#111" stroke-width="1.15"/>
<text transform="translate(563.40,335.60)" font-size="11.8" text-anchor="start" font-weight="normal" fill="#111" >PD2</text>
<text transform="translate(529.50,360.40)" font-size="11.8" text-anchor="start" font-weight="normal" fill="#111" >PD8</text>
<line x1="559.1" y1="339.2" x2="550.17" y2="345.30" stroke="#1a1a1a" stroke-width="1.0"/>
<polygon points="549.54,343.59 547.4,347.2 551.54,346.52" fill="#1a1a1a"/>
<text transform="translate(443.80,214.00)" font-size="11.2" text-anchor="start" font-weight="normal" fill="#b4b4b4" >2N control</text>
<line x1="452" y1="216.3" x2="444.3" y2="224.7" stroke="#b0b0b0" stroke-width="0.8"/>
<text transform="translate(0.10,446.30)" font-size="15.6" text-anchor="start" font-weight="bold" fill="#111" >G</text>
<text transform="translate(20.30,514.00) rotate(-90)" font-size="13.5" text-anchor="middle" font-weight="normal" fill="#111" >Cell count</text>
<text transform="translate(92.40,609.80)" font-size="13.5" text-anchor="middle" font-weight="normal" fill="#111" >DNA content</text>
<polygon points="27.3,582 171.8,582 205.50,557.20 61.00,557.20" fill="#ffffff" stroke="none"/>
<path d="M29.60,582l33.70,-24.80M34.20,582l33.70,-24.80M38.80,582l33.70,-24.80M43.40,582l33.70,-24.80M48.00,582l33.70,-24.80M52.60,582l33.70,-24.80M57.20,582l33.70,-24.80M61.80,582l33.70,-24.80M66.40,582l33.70,-24.80M71.00,582l33.70,-24.80M75.60,582l33.70,-24.80M80.20,582l33.70,-24.80M84.80,582l33.70,-24.80M89.40,582l33.70,-24.80M94.00,582l33.70,-24.80M98.60,582l33.70,-24.80M103.20,582l33.70,-24.80M107.80,582l33.70,-24.80M112.40,582l33.70,-24.80M117.00,582l33.70,-24.80M121.60,582l33.70,-24.80M126.20,582l33.70,-24.80M130.80,582l33.70,-24.80M135.40,582l33.70,-24.80M140.00,582l33.70,-24.80M144.60,582l33.70,-24.80M149.20,582l33.70,-24.80M153.80,582l33.70,-24.80M158.40,582l33.70,-24.80M163.00,582l33.70,-24.80M167.60,582l33.70,-24.80" stroke="#bbb" stroke-width="0.5" fill="none"/>
<path d="M27.30,582l33.70,-24.80M54.80,582l33.70,-24.80M82.30,582l33.70,-24.80M109.80,582l33.70,-24.80M137.30,582l33.70,-24.80M164.80,582l33.70,-24.80" stroke="#3a3a3a" stroke-width="0.7" fill="none"/>
<line x1="27.3" y1="582" x2="61.00" y2="557.20" stroke="#666" stroke-width="0.6"/>
<line x1="171.8" y1="582" x2="205.50" y2="557.20" stroke="#666" stroke-width="0.6"/>
<polygon points="80.0,557.2 89.0,557.2 89.0,582 80.0,582" fill="#a4a4a4" fill-opacity="0.35"/>
<polygon points="69.3,565.5 79.3,565.5 79.3,582 69.3,582" fill="#c0c0c0" fill-opacity="0.35"/>
<polygon points="59.5,573.7 65.0,573.7 65.0,582 59.5,582" fill="#d6d6d6" fill-opacity="0.35"/>
<polygon points="61.0,557.2 61.0,557.2 61.5,557.2 62.0,557.2 62.5,557.2 63.0,557.2 63.5,557.2 64.0,557.2 64.5,557.2 65.0,557.2 65.5,557.2 66.0,557.2 66.5,557.2 67.0,557.2 67.5,557.2 68.0,557.2 68.5,557.2 69.0,557.2 69.5,557.2 70.0,557.2 70.5,557.2 71.0,557.2 71.5,557.2 72.0,557.2 72.5,557.2 73.0,557.2 73.5,557.2 74.0,557.2 74.5,557.2 75.0,557.2 75.5,557.2 76.0,557.2 76.5,557.2 77.0,557.2 77.5,557.0 78.0,556.6 78.5,555.6 79.0,553.5 79.5,549.3 80.0,542.3 80.5,532.1 81.0,519.1 81.5,504.5 82.0,490.2 82.5,477.7 83.0,467.9 83.5,460.3 84.0,452.4 84.1,450.4 84.5,457.4 85.0,464.7 85.5,473.5 86.0,484.9 86.5,498.6 87.0,513.4 87.5,527.2 88.0,538.6 88.5,540.2 89.0,544.0 89.5,549.0 90.0,552.1 90.5,554.7 91.0,555.2 91.5,555.3 92.0,555.3 92.5,555.3 93.0,555.4 93.5,555.4 94.0,555.4 94.5,555.5 95.0,555.5 95.5,555.1 96.0,554.7 96.5,554.2 97.0,553.8 97.5,553.4 98.0,553.0 98.5,552.6 99.0,552.2 99.5,551.8 100.0,551.3 100.5,550.9 101.0,550.5 101.5,550.4 102.0,550.2 102.5,550.1 103.0,549.9 103.5,549.8 104.0,549.6 104.5,549.5 105.0,549.4 105.5,549.5 106.0,549.7 106.5,550.0 107.0,550.2 107.5,550.5 108.0,551.1 108.5,551.7 109.0,552.3 109.5,552.9 110.0,553.5 110.5,554.1 111.0,554.7 111.5,555.4 112.0,556.0 112.5,556.6 113.0,556.7 113.5,556.8 114.0,556.9 114.5,557.0 115.0,557.1 115.5,557.2 116.0,557.2 116.5,557.2 117.0,557.2 117.5,557.2 118.0,557.2 118.5,557.2 119.0,557.2 119.5,557.2 120.0,557.2 120.5,557.2 121.0,557.2 121.5,557.2 122.0,557.2 122.5,557.2 123.0,557.2 123.5,557.2 124.0,557.2 124.5,557.2 125.0,557.2 125.5,557.2 126.0,557.2 126.5,557.2 127.0,557.2 127.5,557.2 128.0,557.2 128.5,557.2 129.0,557.2 129.5,557.2 130.0,557.2 130.5,557.2 131.0,557.2 131.5,557.2 132.0,557.2 132.5,557.2 133.0,557.2 133.5,557.2 134.0,557.2 134.5,557.2 135.0,557.2 135.5,557.2 136.0,557.2 136.5,557.2 137.0,557.2 137.5,557.2 138.0,557.2 138.5,557.2 139.0,557.2 139.5,557.2 140.0,557.2 140.5,557.2 141.0,557.2 141.5,557.2 142.0,557.2 142.5,557.2 143.0,557.2 143.5,557.2 144.0,557.2 144.5,557.2 145.0,557.2 145.5,557.2 146.0,557.2 146.5,557.2 147.0,557.2 147.5,557.2 148.0,557.2 148.5,557.2 149.0,557.2 149.5,557.2 150.0,557.2 150.5,557.2 151.0,557.2 151.5,557.2 152.0,557.2 152.5,557.2 153.0,557.2 153.5,557.2 154.0,557.2 154.5,557.2 155.0,557.2 155.5,557.2 156.0,557.2 156.5,557.2 157.0,557.2 157.5,557.2 158.0,557.2 158.5,557.2 159.0,557.2 159.5,557.2 160.0,557.2 160.5,557.2 161.0,557.2 161.5,557.2 162.0,557.2 162.5,557.2 163.0,557.2 163.5,557.2 164.0,557.2 164.5,557.2 165.0,557.2 165.5,557.2 166.0,557.2 166.5,557.2 167.0,557.2 167.5,557.2 168.0,557.2 168.5,557.2 169.0,557.2 169.5,557.2 170.0,557.2 170.5,557.2 171.0,557.2 171.5,557.2 172.0,557.2 172.5,557.2 173.0,557.2 173.5,557.2 174.0,557.2 174.5,557.2 175.0,557.2 175.5,557.2 176.0,557.2 176.5,557.2 177.0,557.2 177.5,557.2 178.0,557.2 178.5,557.2 179.0,557.2 179.5,557.2 180.0,557.2 180.5,557.2 181.0,557.2 181.5,557.2 182.0,557.2 182.5,557.2 183.0,557.2 183.5,557.2 184.0,557.2 184.5,557.2 185.0,557.2 185.5,557.2 186.0,557.2 186.5,557.2 187.0,557.2 187.5,557.2 188.0,557.2 188.5,557.2 189.0,557.2 189.5,557.2 190.0,557.2 190.5,557.2 191.0,557.2 191.5,557.2 192.0,557.2 192.5,557.2 193.0,557.2 193.5,557.2 194.0,557.2 194.5,557.2 195.0,557.2 195.5,557.2 196.0,557.2 196.5,557.2 197.0,557.2 197.5,557.2 198.0,557.2 198.5,557.2 199.0,557.2 199.5,557.2 200.0,557.2 200.5,557.2 201.0,557.2 201.5,557.2 202.0,557.2 202.5,557.2 203.0,557.2 203.5,557.2 204.0,557.2 204.5,557.2 205.0,557.2 205.5,557.2 205.5,557.2" fill="#a4a4a4" fill-opacity="0.75" stroke="none"/>
<line x1="61.00" y1="557.20" x2="205.50" y2="557.20" stroke="#777" stroke-width="0.9"/>
<polyline points="61.0,557.2 61.5,557.2 62.0,557.2 62.5,557.2 63.0,557.2 63.5,557.2 64.0,557.2 64.5,557.2 65.0,557.2 65.5,557.2 66.0,557.2 66.5,557.2 67.0,557.2 67.5,557.2 68.0,557.2 68.5,557.2 69.0,557.2 69.5,557.2 70.0,557.2 70.5,557.2 71.0,557.2 71.5,557.2 72.0,557.2 72.5,557.2 73.0,557.2 73.5,557.2 74.0,557.2 74.5,557.2 75.0,557.2 75.5,557.2 76.0,557.2 76.5,557.2 77.0,557.2 77.5,557.0 78.0,556.6 78.5,555.6 79.0,553.5 79.5,549.3 80.0,542.3 80.5,532.1 81.0,519.1 81.5,504.5 82.0,490.2 82.5,477.7 83.0,467.9 83.5,460.3 84.0,452.4 84.1,450.4 84.5,457.4 85.0,464.7 85.5,473.5 86.0,484.9 86.5,498.6 87.0,513.4 87.5,527.2 88.0,538.6 88.5,540.2 89.0,544.0 89.5,549.0 90.0,552.1 90.5,554.7 91.0,555.2 91.5,555.3 92.0,555.3 92.5,555.3 93.0,555.4 93.5,555.4 94.0,555.4 94.5,555.5 95.0,555.5 95.5,555.1 96.0,554.7 96.5,554.2 97.0,553.8 97.5,553.4 98.0,553.0 98.5,552.6 99.0,552.2 99.5,551.8 100.0,551.3 100.5,550.9 101.0,550.5 101.5,550.4 102.0,550.2 102.5,550.1 103.0,549.9 103.5,549.8 104.0,549.6 104.5,549.5 105.0,549.4 105.5,549.5 106.0,549.7 106.5,550.0 107.0,550.2 107.5,550.5 108.0,551.1 108.5,551.7 109.0,552.3 109.5,552.9 110.0,553.5 110.5,554.1 111.0,554.7 111.5,555.4 112.0,556.0 112.5,556.6 113.0,556.7 113.5,556.8 114.0,556.9 114.5,557.0 115.0,557.1 115.5,557.2 116.0,557.2 116.5,557.2 117.0,557.2 117.5,557.2 118.0,557.2 118.5,557.2 119.0,557.2 119.5,557.2 120.0,557.2 120.5,557.2 121.0,557.2 121.5,557.2 122.0,557.2 122.5,557.2 123.0,557.2 123.5,557.2 124.0,557.2 124.5,557.2 125.0,557.2 125.5,557.2 126.0,557.2 126.5,557.2 127.0,557.2 127.5,557.2 128.0,557.2 128.5,557.2 129.0,557.2 129.5,557.2 130.0,557.2 130.5,557.2 131.0,557.2 131.5,557.2 132.0,557.2 132.5,557.2 133.0,557.2 133.5,557.2 134.0,557.2 134.5,557.2 135.0,557.2 135.5,557.2 136.0,557.2 136.5,557.2 137.0,557.2 137.5,557.2 138.0,557.2 138.5,557.2 139.0,557.2 139.5,557.2 140.0,557.2 140.5,557.2 141.0,557.2 141.5,557.2 142.0,557.2 142.5,557.2 143.0,557.2 143.5,557.2 144.0,557.2 144.5,557.2 145.0,557.2 145.5,557.2 146.0,557.2 146.5,557.2 147.0,557.2 147.5,557.2 148.0,557.2 148.5,557.2 149.0,557.2 149.5,557.2 150.0,557.2 150.5,557.2 151.0,557.2 151.5,557.2 152.0,557.2 152.5,557.2 153.0,557.2 153.5,557.2 154.0,557.2 154.5,557.2 155.0,557.2 155.5,557.2 156.0,557.2 156.5,557.2 157.0,557.2 157.5,557.2 158.0,557.2 158.5,557.2 159.0,557.2 159.5,557.2 160.0,557.2 160.5,557.2 161.0,557.2 161.5,557.2 162.0,557.2 162.5,557.2 163.0,557.2 163.5,557.2 164.0,557.2 164.5,557.2 165.0,557.2 165.5,557.2 166.0,557.2 166.5,557.2 167.0,557.2 167.5,557.2 168.0,557.2 168.5,557.2 169.0,557.2 169.5,557.2 170.0,557.2 170.5,557.2 171.0,557.2 171.5,557.2 172.0,557.2 172.5,557.2 173.0,557.2 173.5,557.2 174.0,557.2 174.5,557.2 175.0,557.2 175.5,557.2 176.0,557.2 176.5,557.2 177.0,557.2 177.5,557.2 178.0,557.2 178.5,557.2 179.0,557.2 179.5,557.2 180.0,557.2 180.5,557.2 181.0,557.2 181.5,557.2 182.0,557.2 182.5,557.2 183.0,557.2 183.5,557.2 184.0,557.2 184.5,557.2 185.0,557.2 185.5,557.2 186.0,557.2 186.5,557.2 187.0,557.2 187.5,557.2 188.0,557.2 188.5,557.2 189.0,557.2 189.5,557.2 190.0,557.2 190.5,557.2 191.0,557.2 191.5,557.2 192.0,557.2 192.5,557.2 193.0,557.2 193.5,557.2 194.0,557.2 194.5,557.2 195.0,557.2 195.5,557.2 196.0,557.2 196.5,557.2 197.0,557.2 197.5,557.2 198.0,557.2 198.5,557.2 199.0,557.2 199.5,557.2 200.0,557.2 200.5,557.2 201.0,557.2 201.5,557.2 202.0,557.2 202.5,557.2 203.0,557.2 203.5,557.2 204.0,557.2 204.5,557.2 205.0,557.2 205.5,557.2" fill="none" stroke="#5a5a5a" stroke-width="0.8" stroke-linejoin="round"/>
<polygon points="49.8,565.5 49.8,565.5 50.3,565.5 50.8,565.5 51.3,565.5 51.8,565.5 52.3,565.5 52.8,565.5 53.3,565.5 53.8,565.5 54.3,565.5 54.8,565.5 55.3,565.5 55.8,565.5 56.3,565.5 56.8,565.5 57.3,565.5 57.8,565.5 58.3,565.5 58.8,565.5 59.3,565.5 59.8,565.5 60.3,565.5 60.8,565.5 61.3,565.5 61.8,565.5 62.3,565.5 62.8,565.5 63.3,565.5 63.8,565.5 64.3,565.5 64.8,565.5 65.3,565.4 65.8,565.3 66.3,565.1 66.8,564.7 67.3,563.8 67.8,562.2 68.3,559.5 68.8,555.3 69.3,549.6 69.8,542.3 70.3,533.9 70.8,525.1 71.3,516.7 71.8,509.5 72.3,503.6 72.8,498.6 73.2,493.6 73.3,494.5 73.8,499.9 74.3,505.1 74.8,511.3 75.3,518.9 75.8,527.4 76.3,536.2 76.8,544.3 77.3,551.3 77.8,553.3 78.3,552.8 78.8,552.2 79.3,552.8 79.8,554.4 80.3,555.9 80.8,557.5 81.3,559.0 81.8,560.6 82.3,560.8 82.8,560.9 83.3,561.0 83.8,561.1 84.3,561.1 84.8,560.9 85.3,560.7 85.8,560.5 86.3,560.3 86.8,560.1 87.3,559.8 87.8,559.6 88.3,559.3 88.8,559.0 89.3,558.7 89.8,558.4 90.3,558.1 90.8,557.9 91.3,557.8 91.8,557.6 92.3,557.5 92.8,557.3 93.3,557.2 93.8,557.0 94.3,557.3 94.8,557.7 95.3,558.1 95.8,558.5 96.3,558.9 96.8,559.3 97.3,559.7 97.8,560.2 98.3,560.6 98.8,561.0 99.3,561.5 99.8,561.9 100.3,562.2 100.8,562.4 101.3,562.6 101.8,562.8 102.3,563.1 102.8,563.3 103.3,563.5 103.8,563.7 104.3,563.9 104.8,564.1 105.3,564.3 105.8,564.5 106.3,564.8 106.8,565.0 107.3,565.2 107.8,565.4 108.3,565.5 108.8,565.5 109.3,565.5 109.8,565.5 110.3,565.5 110.8,565.5 111.3,565.5 111.8,565.5 112.3,565.5 112.8,565.5 113.3,565.5 113.8,565.5 114.3,565.5 114.8,565.5 115.3,565.5 115.8,565.5 116.3,565.5 116.8,565.5 117.3,565.5 117.8,565.5 118.3,565.5 118.8,565.5 119.3,565.5 119.8,565.5 120.3,565.5 120.8,565.5 121.3,565.5 121.8,565.5 122.3,565.5 122.8,565.5 123.3,565.5 123.8,565.5 124.3,565.5 124.8,565.5 125.3,565.5 125.8,565.5 126.3,565.5 126.8,565.5 127.3,565.5 127.8,565.5 128.3,565.5 128.8,565.5 129.3,565.5 129.8,565.5 130.3,565.5 130.8,565.5 131.3,565.5 131.8,565.5 132.3,565.5 132.8,565.5 133.3,565.5 133.8,565.5 134.3,565.5 134.8,565.5 135.3,565.5 135.8,565.5 136.3,565.5 136.8,565.5 137.3,565.5 137.8,565.5 138.3,565.5 138.8,565.5 139.3,565.5 139.8,565.5 140.3,565.5 140.8,565.5 141.3,565.5 141.8,565.5 142.3,565.5 142.8,565.5 143.3,565.5 143.8,565.5 144.3,565.5 144.8,565.5 145.3,565.5 145.8,565.5 146.3,565.5 146.8,565.5 147.3,565.5 147.8,565.5 148.3,565.5 148.8,565.5 149.3,565.5 149.8,565.5 150.3,565.5 150.8,565.5 151.3,565.5 151.8,565.5 152.3,565.5 152.8,565.5 153.3,565.5 153.8,565.5 154.3,565.5 154.8,565.5 155.3,565.5 155.8,565.5 156.3,565.5 156.8,565.5 157.3,565.5 157.8,565.5 158.3,565.5 158.8,565.5 159.3,565.5 159.8,565.5 160.3,565.5 160.8,565.5 161.3,565.5 161.8,565.5 162.3,565.5 162.8,565.5 163.3,565.5 163.8,565.5 164.3,565.5 164.8,565.5 165.3,565.5 165.8,565.5 166.3,565.5 166.8,565.5 167.3,565.5 167.8,565.5 168.3,565.5 168.8,565.5 169.3,565.5 169.8,565.5 170.3,565.5 170.8,565.5 171.3,565.5 171.8,565.5 172.3,565.5 172.8,565.5 173.3,565.5 173.8,565.5 174.3,565.5 174.8,565.5 175.3,565.5 175.8,565.5 176.3,565.5 176.8,565.5 177.3,565.5 177.8,565.5 178.3,565.5 178.8,565.5 179.3,565.5 179.8,565.5 180.3,565.5 180.8,565.5 181.3,565.5 181.8,565.5 182.3,565.5 182.8,565.5 183.3,565.5 183.8,565.5 184.3,565.5 184.8,565.5 185.3,565.5 185.8,565.5 186.3,565.5 186.8,565.5 187.3,565.5 187.8,565.5 188.3,565.5 188.8,565.5 189.3,565.5 189.8,565.5 190.3,565.5 190.8,565.5 191.3,565.5 191.8,565.5 192.3,565.5 192.8,565.5 193.3,565.5 193.8,565.5 194.3,565.5 194.3,565.5" fill="#c0c0c0" fill-opacity="0.7" stroke="none"/>
<line x1="49.77" y1="565.47" x2="194.27" y2="565.47" stroke="#999" stroke-width="0.9"/>
<polyline points="49.8,565.5 50.3,565.5 50.8,565.5 51.3,565.5 51.8,565.5 52.3,565.5 52.8,565.5 53.3,565.5 53.8,565.5 54.3,565.5 54.8,565.5 55.3,565.5 55.8,565.5 56.3,565.5 56.8,565.5 57.3,565.5 57.8,565.5 58.3,565.5 58.8,565.5 59.3,565.5 59.8,565.5 60.3,565.5 60.8,565.5 61.3,565.5 61.8,565.5 62.3,565.5 62.8,565.5 63.3,565.5 63.8,565.5 64.3,565.5 64.8,565.5 65.3,565.4 65.8,565.3 66.3,565.1 66.8,564.7 67.3,563.8 67.8,562.2 68.3,559.5 68.8,555.3 69.3,549.6 69.8,542.3 70.3,533.9 70.8,525.1 71.3,516.7 71.8,509.5 72.3,503.6 72.8,498.6 73.2,493.6 73.3,494.5 73.8,499.9 74.3,505.1 74.8,511.3 75.3,518.9 75.8,527.4 76.3,536.2 76.8,544.3 77.3,551.3 77.8,553.3 78.3,552.8 78.8,552.2 79.3,552.8 79.8,554.4 80.3,555.9 80.8,557.5 81.3,559.0 81.8,560.6 82.3,560.8 82.8,560.9 83.3,561.0 83.8,561.1 84.3,561.1 84.8,560.9 85.3,560.7 85.8,560.5 86.3,560.3 86.8,560.1 87.3,559.8 87.8,559.6 88.3,559.3 88.8,559.0 89.3,558.7 89.8,558.4 90.3,558.1 90.8,557.9 91.3,557.8 91.8,557.6 92.3,557.5 92.8,557.3 93.3,557.2 93.8,557.0 94.3,557.3 94.8,557.7 95.3,558.1 95.8,558.5 96.3,558.9 96.8,559.3 97.3,559.7 97.8,560.2 98.3,560.6 98.8,561.0 99.3,561.5 99.8,561.9 100.3,562.2 100.8,562.4 101.3,562.6 101.8,562.8 102.3,563.1 102.8,563.3 103.3,563.5 103.8,563.7 104.3,563.9 104.8,564.1 105.3,564.3 105.8,564.5 106.3,564.8 106.8,565.0 107.3,565.2 107.8,565.4 108.3,565.5 108.8,565.5 109.3,565.5 109.8,565.5 110.3,565.5 110.8,565.5 111.3,565.5 111.8,565.5 112.3,565.5 112.8,565.5 113.3,565.5 113.8,565.5 114.3,565.5 114.8,565.5 115.3,565.5 115.8,565.5 116.3,565.5 116.8,565.5 117.3,565.5 117.8,565.5 118.3,565.5 118.8,565.5 119.3,565.5 119.8,565.5 120.3,565.5 120.8,565.5 121.3,565.5 121.8,565.5 122.3,565.5 122.8,565.5 123.3,565.5 123.8,565.5 124.3,565.5 124.8,565.5 125.3,565.5 125.8,565.5 126.3,565.5 126.8,565.5 127.3,565.5 127.8,565.5 128.3,565.5 128.8,565.5 129.3,565.5 129.8,565.5 130.3,565.5 130.8,565.5 131.3,565.5 131.8,565.5 132.3,565.5 132.8,565.5 133.3,565.5 133.8,565.5 134.3,565.5 134.8,565.5 135.3,565.5 135.8,565.5 136.3,565.5 136.8,565.5 137.3,565.5 137.8,565.5 138.3,565.5 138.8,565.5 139.3,565.5 139.8,565.5 140.3,565.5 140.8,565.5 141.3,565.5 141.8,565.5 142.3,565.5 142.8,565.5 143.3,565.5 143.8,565.5 144.3,565.5 144.8,565.5 145.3,565.5 145.8,565.5 146.3,565.5 146.8,565.5 147.3,565.5 147.8,565.5 148.3,565.5 148.8,565.5 149.3,565.5 149.8,565.5 150.3,565.5 150.8,565.5 151.3,565.5 151.8,565.5 152.3,565.5 152.8,565.5 153.3,565.5 153.8,565.5 154.3,565.5 154.8,565.5 155.3,565.5 155.8,565.5 156.3,565.5 156.8,565.5 157.3,565.5 157.8,565.5 158.3,565.5 158.8,565.5 159.3,565.5 159.8,565.5 160.3,565.5 160.8,565.5 161.3,565.5 161.8,565.5 162.3,565.5 162.8,565.5 163.3,565.5 163.8,565.5 164.3,565.5 164.8,565.5 165.3,565.5 165.8,565.5 166.3,565.5 166.8,565.5 167.3,565.5 167.8,565.5 168.3,565.5 168.8,565.5 169.3,565.5 169.8,565.5 170.3,565.5 170.8,565.5 171.3,565.5 171.8,565.5 172.3,565.5 172.8,565.5 173.3,565.5 173.8,565.5 174.3,565.5 174.8,565.5 175.3,565.5 175.8,565.5 176.3,565.5 176.8,565.5 177.3,565.5 177.8,565.5 178.3,565.5 178.8,565.5 179.3,565.5 179.8,565.5 180.3,565.5 180.8,565.5 181.3,565.5 181.8,565.5 182.3,565.5 182.8,565.5 183.3,565.5 183.8,565.5 184.3,565.5 184.8,565.5 185.3,565.5 185.8,565.5 186.3,565.5 186.8,565.5 187.3,565.5 187.8,565.5 188.3,565.5 188.8,565.5 189.3,565.5 189.8,565.5 190.3,565.5 190.8,565.5 191.3,565.5 191.8,565.5 192.3,565.5 192.8,565.5 193.3,565.5 193.8,565.5 194.3,565.5" fill="none" stroke="#8e8e8e" stroke-width="0.8" stroke-linejoin="round"/>
<polygon points="38.5,573.7 38.5,573.7 39.0,573.7 39.5,573.7 40.0,573.7 40.5,573.7 41.0,573.7 41.5,573.7 42.0,573.7 42.5,573.7 43.0,573.7 43.5,573.7 44.0,573.7 44.5,573.7 45.0,573.7 45.5,573.7 46.0,573.7 46.5,573.7 47.0,573.7 47.5,573.7 48.0,573.7 48.5,573.7 49.0,573.7 49.5,573.7 50.0,573.7 50.5,573.7 51.0,573.7 51.5,573.7 52.0,573.7 52.5,573.7 53.0,573.7 53.5,573.7 54.0,573.7 54.5,573.7 55.0,573.7 55.5,573.7 56.0,573.7 56.5,573.6 57.0,573.2 57.5,572.4 58.0,570.7 58.5,567.7 59.0,563.1 59.5,557.3 60.0,550.9 60.5,544.8 61.0,539.8 61.5,536.0 62.0,532.8 62.3,530.6 62.5,532.5 63.0,535.8 63.5,539.5 64.0,544.4 64.5,550.4 65.0,556.9 65.5,562.8 66.0,567.4 66.5,570.5 67.0,572.3 67.5,573.2 68.0,573.5 68.5,573.7 69.0,573.7 69.5,573.7 70.0,573.7 70.5,573.6 71.0,573.6 71.5,573.5 72.0,573.5 72.5,573.4 73.0,573.3 73.5,573.2 74.0,573.1 74.5,572.9 75.0,572.7 75.5,572.5 76.0,572.3 76.5,572.0 77.0,571.7 77.5,571.4 78.0,571.0 78.5,570.6 79.0,570.2 79.5,569.7 80.0,569.3 80.5,568.8 81.0,568.4 81.5,567.9 82.0,567.5 82.5,567.1 83.0,566.7 83.5,566.3 84.0,566.0 84.5,565.6 85.0,565.2 85.0,565.3 85.5,565.7 86.0,566.0 86.5,566.4 87.0,566.8 87.5,567.1 88.0,567.6 88.5,568.0 89.0,568.4 89.5,568.9 90.0,569.3 90.5,569.8 91.0,570.2 91.5,570.6 92.0,571.0 92.5,571.4 93.0,571.7 93.5,572.0 94.0,572.3 94.5,572.6 95.0,572.8 95.5,572.9 96.0,573.1 96.5,573.2 97.0,573.3 97.5,573.4 98.0,573.5 98.5,573.5 99.0,573.6 99.5,573.6 100.0,573.7 100.5,573.7 101.0,573.7 101.5,573.7 102.0,573.7 102.5,573.7 103.0,573.7 103.5,573.7 104.0,573.7 104.5,573.7 105.0,573.7 105.5,573.7 106.0,573.7 106.5,573.7 107.0,573.7 107.5,573.7 108.0,573.7 108.5,573.7 109.0,573.7 109.5,573.7 110.0,573.7 110.5,573.7 111.0,573.7 111.5,573.7 112.0,573.7 112.5,573.7 113.0,573.7 113.5,573.7 114.0,573.7 114.5,573.7 115.0,573.7 115.5,573.7 116.0,573.7 116.5,573.7 117.0,573.7 117.5,573.7 118.0,573.7 118.5,573.7 119.0,573.7 119.5,573.7 120.0,573.7 120.5,573.7 121.0,573.7 121.5,573.7 122.0,573.7 122.5,573.7 123.0,573.7 123.5,573.7 124.0,573.7 124.5,573.7 125.0,573.7 125.5,573.7 126.0,573.7 126.5,573.7 127.0,573.7 127.5,573.7 128.0,573.7 128.5,573.7 129.0,573.7 129.5,573.7 130.0,573.7 130.5,573.7 131.0,573.7 131.5,573.7 132.0,573.7 132.5,573.7 133.0,573.7 133.5,573.7 134.0,573.7 134.5,573.7 135.0,573.7 135.5,573.7 136.0,573.7 136.5,573.7 137.0,573.7 137.5,573.7 138.0,573.7 138.5,573.7 139.0,573.7 139.5,573.7 140.0,573.7 140.5,573.7 141.0,573.7 141.5,573.7 142.0,573.7 142.5,573.7 143.0,573.7 143.5,573.7 144.0,573.7 144.5,573.7 145.0,573.7 145.5,573.7 146.0,573.7 146.5,573.7 147.0,573.7 147.5,573.7 148.0,573.7 148.5,573.7 149.0,573.7 149.5,573.7 150.0,573.7 150.5,573.7 151.0,573.7 151.5,573.7 152.0,573.7 152.5,573.7 153.0,573.7 153.5,573.7 154.0,573.7 154.5,573.7 155.0,573.7 155.5,573.7 156.0,573.7 156.5,573.7 157.0,573.7 157.5,573.7 158.0,573.7 158.5,573.7 159.0,573.7 159.5,573.7 160.0,573.7 160.5,573.7 161.0,573.7 161.5,573.7 162.0,573.7 162.5,573.7 163.0,573.7 163.5,573.7 164.0,573.7 164.5,573.7 165.0,573.7 165.5,573.7 166.0,573.7 166.5,573.7 167.0,573.7 167.5,573.7 168.0,573.7 168.5,573.7 169.0,573.7 169.5,573.7 170.0,573.7 170.5,573.7 171.0,573.7 171.5,573.7 172.0,573.7 172.5,573.7 173.0,573.7 173.5,573.7 174.0,573.7 174.5,573.7 175.0,573.7 175.5,573.7 176.0,573.7 176.5,573.7 177.0,573.7 177.5,573.7 178.0,573.7 178.5,573.7 179.0,573.7 179.5,573.7 180.0,573.7 180.5,573.7 181.0,573.7 181.5,573.7 182.0,573.7 182.5,573.7 183.0,573.7 183.0,573.7" fill="#d6d6d6" fill-opacity="0.7" stroke="none"/>
<line x1="38.53" y1="573.73" x2="183.03" y2="573.73" stroke="#b5b5b5" stroke-width="0.9"/>
<polyline points="38.5,573.7 39.0,573.7 39.5,573.7 40.0,573.7 40.5,573.7 41.0,573.7 41.5,573.7 42.0,573.7 42.5,573.7 43.0,573.7 43.5,573.7 44.0,573.7 44.5,573.7 45.0,573.7 45.5,573.7 46.0,573.7 46.5,573.7 47.0,573.7 47.5,573.7 48.0,573.7 48.5,573.7 49.0,573.7 49.5,573.7 50.0,573.7 50.5,573.7 51.0,573.7 51.5,573.7 52.0,573.7 52.5,573.7 53.0,573.7 53.5,573.7 54.0,573.7 54.5,573.7 55.0,573.7 55.5,573.7 56.0,573.7 56.5,573.6 57.0,573.2 57.5,572.4 58.0,570.7 58.5,567.7 59.0,563.1 59.5,557.3 60.0,550.9 60.5,544.8 61.0,539.8 61.5,536.0 62.0,532.8 62.3,530.6 62.5,532.5 63.0,535.8 63.5,539.5 64.0,544.4 64.5,550.4 65.0,556.9 65.5,562.8 66.0,567.4 66.5,570.5 67.0,572.3 67.5,573.2 68.0,573.5 68.5,573.7 69.0,573.7 69.5,573.7 70.0,573.7 70.5,573.6 71.0,573.6 71.5,573.5 72.0,573.5 72.5,573.4 73.0,573.3 73.5,573.2 74.0,573.1 74.5,572.9 75.0,572.7 75.5,572.5 76.0,572.3 76.5,572.0 77.0,571.7 77.5,571.4 78.0,571.0 78.5,570.6 79.0,570.2 79.5,569.7 80.0,569.3 80.5,568.8 81.0,568.4 81.5,567.9 82.0,567.5 82.5,567.1 83.0,566.7 83.5,566.3 84.0,566.0 84.5,565.6 85.0,565.2 85.0,565.3 85.5,565.7 86.0,566.0 86.5,566.4 87.0,566.8 87.5,567.1 88.0,567.6 88.5,568.0 89.0,568.4 89.5,568.9 90.0,569.3 90.5,569.8 91.0,570.2 91.5,570.6 92.0,571.0 92.5,571.4 93.0,571.7 93.5,572.0 94.0,572.3 94.5,572.6 95.0,572.8 95.5,572.9 96.0,573.1 96.5,573.2 97.0,573.3 97.5,573.4 98.0,573.5 98.5,573.5 99.0,573.6 99.5,573.6 100.0,573.7 100.5,573.7 101.0,573.7 101.5,573.7 102.0,573.7 102.5,573.7 103.0,573.7 103.5,573.7 104.0,573.7 104.5,573.7 105.0,573.7 105.5,573.7 106.0,573.7 106.5,573.7 107.0,573.7 107.5,573.7 108.0,573.7 108.5,573.7 109.0,573.7 109.5,573.7 110.0,573.7 110.5,573.7 111.0,573.7 111.5,573.7 112.0,573.7 112.5,573.7 113.0,573.7 113.5,573.7 114.0,573.7 114.5,573.7 115.0,573.7 115.5,573.7 116.0,573.7 116.5,573.7 117.0,573.7 117.5,573.7 118.0,573.7 118.5,573.7 119.0,573.7 119.5,573.7 120.0,573.7 120.5,573.7 121.0,573.7 121.5,573.7 122.0,573.7 122.5,573.7 123.0,573.7 123.5,573.7 124.0,573.7 124.5,573.7 125.0,573.7 125.5,573.7 126.0,573.7 126.5,573.7 127.0,573.7 127.5,573.7 128.0,573.7 128.5,573.7 129.0,573.7 129.5,573.7 130.0,573.7 130.5,573.7 131.0,573.7 131.5,573.7 132.0,573.7 132.5,573.7 133.0,573.7 133.5,573.7 134.0,573.7 134.5,573.7 135.0,573.7 135.5,573.7 136.0,573.7 136.5,573.7 137.0,573.7 137.5,573.7 138.0,573.7 138.5,573.7 139.0,573.7 139.5,573.7 140.0,573.7 140.5,573.7 141.0,573.7 141.5,573.7 142.0,573.7 142.5,573.7 143.0,573.7 143.5,573.7 144.0,573.7 144.5,573.7 145.0,573.7 145.5,573.7 146.0,573.7 146.5,573.7 147.0,573.7 147.5,573.7 148.0,573.7 148.5,573.7 149.0,573.7 149.5,573.7 150.0,573.7 150.5,573.7 151.0,573.7 151.5,573.7 152.0,573.7 152.5,573.7 153.0,573.7 153.5,573.7 154.0,573.7 154.5,573.7 155.0,573.7 155.5,573.7 156.0,573.7 156.5,573.7 157.0,573.7 157.5,573.7 158.0,573.7 158.5,573.7 159.0,573.7 159.5,573.7 160.0,573.7 160.5,573.7 161.0,573.7 161.5,573.7 162.0,573.7 162.5,573.7 163.0,573.7 163.5,573.7 164.0,573.7 164.5,573.7 165.0,573.7 165.5,573.7 166.0,573.7 166.5,573.7 167.0,573.7 167.5,573.7 168.0,573.7 168.5,573.7 169.0,573.7 169.5,573.7 170.0,573.7 170.5,573.7 171.0,573.7 171.5,573.7 172.0,573.7 172.5,573.7 173.0,573.7 173.5,573.7 174.0,573.7 174.5,573.7 175.0,573.7 175.5,573.7 176.0,573.7 176.5,573.7 177.0,573.7 177.5,573.7 178.0,573.7 178.5,573.7 179.0,573.7 179.5,573.7 180.0,573.7 180.5,573.7 181.0,573.7 181.5,573.7 182.0,573.7 182.5,573.7 183.0,573.7" fill="none" stroke="#b2b2b2" stroke-width="0.8" stroke-linejoin="round"/>
<polygon points="27.3,582.0 27.3,582.0 27.8,582.0 28.3,582.0 28.8,582.0 29.3,582.0 29.8,582.0 30.3,582.0 30.8,582.0 31.3,582.0 31.8,582.0 32.3,582.0 32.8,582.0 33.3,582.0 33.8,582.0 34.3,582.0 34.8,582.0 35.3,582.0 35.8,582.0 36.3,582.0 36.8,582.0 37.3,582.0 37.8,582.0 38.3,582.0 38.8,582.0 39.3,582.0 39.8,582.0 40.3,582.0 40.8,582.0 41.3,582.0 41.8,582.0 42.3,581.8 42.8,581.5 43.3,580.4 43.8,577.8 44.3,572.7 44.8,563.6 45.3,550.0 45.8,532.3 46.3,512.2 46.8,492.3 47.3,475.3 47.8,462.1 48.3,451.8 48.8,440.1 49.3,451.8 49.8,462.1 50.3,475.3 50.8,492.3 51.3,512.2 51.8,532.3 52.3,550.0 52.8,563.6 53.3,572.7 53.8,577.8 54.3,580.4 54.8,581.5 55.3,581.8 55.8,582.0 56.3,582.0 56.8,582.0 57.3,582.0 57.8,582.0 58.3,582.0 58.8,582.0 59.3,582.0 59.8,582.0 60.3,581.9 60.8,581.9 61.3,581.9 61.8,581.8 62.3,581.8 62.8,581.7 63.3,581.7 63.8,581.6 64.3,581.4 64.8,581.3 65.3,581.1 65.8,580.9 66.3,580.7 66.8,580.4 67.3,580.1 67.8,579.8 68.3,579.4 68.8,579.0 69.3,578.5 69.8,578.0 70.3,577.5 70.8,577.0 71.3,576.5 71.8,575.9 72.3,575.4 72.8,574.9 73.3,574.4 73.8,573.9 74.3,573.5 74.8,573.1 75.3,572.6 75.8,572.2 76.0,572.0 76.3,572.3 76.8,572.7 77.3,573.2 77.8,573.6 78.3,574.0 78.8,574.5 79.3,575.0 79.8,575.5 80.3,576.0 80.8,576.6 81.3,577.1 81.8,577.6 82.3,578.1 82.8,578.6 83.3,579.1 83.8,579.5 84.3,579.9 84.8,580.2 85.3,580.5 85.8,580.8 86.3,581.0 86.8,581.2 87.3,581.3 87.8,581.5 88.3,581.6 88.8,581.7 89.3,581.8 89.8,581.8 90.3,581.9 90.8,581.9 91.3,581.9 91.8,581.9 92.3,582.0 92.8,582.0 93.3,582.0 93.8,582.0 94.3,582.0 94.8,582.0 95.3,582.0 95.8,582.0 96.3,582.0 96.8,582.0 97.3,582.0 97.8,582.0 98.3,582.0 98.8,582.0 99.3,582.0 99.8,582.0 100.3,582.0 100.8,582.0 101.3,582.0 101.8,582.0 102.3,582.0 102.8,582.0 103.3,582.0 103.8,582.0 104.3,582.0 104.8,582.0 105.3,582.0 105.8,582.0 106.3,582.0 106.8,582.0 107.3,582.0 107.8,582.0 108.3,582.0 108.8,582.0 109.3,582.0 109.8,582.0 110.3,582.0 110.8,582.0 111.3,582.0 111.8,582.0 112.3,582.0 112.8,582.0 113.3,582.0 113.8,582.0 114.3,582.0 114.8,582.0 115.3,582.0 115.8,582.0 116.3,582.0 116.8,582.0 117.3,582.0 117.8,582.0 118.3,582.0 118.8,582.0 119.3,582.0 119.8,582.0 120.3,582.0 120.8,582.0 121.3,582.0 121.8,582.0 122.3,582.0 122.8,582.0 123.3,582.0 123.8,582.0 124.3,582.0 124.8,582.0 125.3,582.0 125.8,582.0 126.3,582.0 126.8,582.0 127.3,582.0 127.8,582.0 128.3,582.0 128.8,582.0 129.3,582.0 129.8,582.0 130.3,582.0 130.8,582.0 131.3,582.0 131.8,582.0 132.3,582.0 132.8,582.0 133.3,582.0 133.8,582.0 134.3,582.0 134.8,582.0 135.3,582.0 135.8,582.0 136.3,582.0 136.8,582.0 137.3,582.0 137.8,582.0 138.3,582.0 138.8,582.0 139.3,582.0 139.8,582.0 140.3,582.0 140.8,582.0 141.3,582.0 141.8,582.0 142.3,582.0 142.8,582.0 143.3,582.0 143.8,582.0 144.3,582.0 144.8,582.0 145.3,582.0 145.8,582.0 146.3,582.0 146.8,582.0 147.3,582.0 147.8,582.0 148.3,582.0 148.8,582.0 149.3,582.0 149.8,582.0 150.3,582.0 150.8,582.0 151.3,582.0 151.8,582.0 152.3,582.0 152.8,582.0 153.3,582.0 153.8,582.0 154.3,582.0 154.8,582.0 155.3,582.0 155.8,582.0 156.3,582.0 156.8,582.0 157.3,582.0 157.8,582.0 158.3,582.0 158.8,582.0 159.3,582.0 159.8,582.0 160.3,582.0 160.8,582.0 161.3,582.0 161.8,582.0 162.3,582.0 162.8,582.0 163.3,582.0 163.8,582.0 164.3,582.0 164.8,582.0 165.3,582.0 165.8,582.0 166.3,582.0 166.8,582.0 167.3,582.0 167.8,582.0 168.3,582.0 168.8,582.0 169.3,582.0 169.8,582.0 170.3,582.0 170.8,582.0 171.3,582.0 171.8,582.0 171.8,582.0" fill="#e8e8e8" fill-opacity="0.75" stroke="none"/>
<line x1="27.30" y1="582.00" x2="171.80" y2="582.00" stroke="#c5c5c5" stroke-width="0.9"/>
<polyline points="27.3,582.0 27.8,582.0 28.3,582.0 28.8,582.0 29.3,582.0 29.8,582.0 30.3,582.0 30.8,582.0 31.3,582.0 31.8,582.0 32.3,582.0 32.8,582.0 33.3,582.0 33.8,582.0 34.3,582.0 34.8,582.0 35.3,582.0 35.8,582.0 36.3,582.0 36.8,582.0 37.3,582.0 37.8,582.0 38.3,582.0 38.8,582.0 39.3,582.0 39.8,582.0 40.3,582.0 40.8,582.0 41.3,582.0 41.8,582.0 42.3,581.8 42.8,581.5 43.3,580.4 43.8,577.8 44.3,572.7 44.8,563.6 45.3,550.0 45.8,532.3 46.3,512.2 46.8,492.3 47.3,475.3 47.8,462.1 48.3,451.8 48.8,440.1 49.3,451.8 49.8,462.1 50.3,475.3 50.8,492.3 51.3,512.2 51.8,532.3 52.3,550.0 52.8,563.6 53.3,572.7 53.8,577.8 54.3,580.4 54.8,581.5 55.3,581.8 55.8,582.0 56.3,582.0 56.8,582.0 57.3,582.0 57.8,582.0 58.3,582.0 58.8,582.0 59.3,582.0 59.8,582.0 60.3,581.9 60.8,581.9 61.3,581.9 61.8,581.8 62.3,581.8 62.8,581.7 63.3,581.7 63.8,581.6 64.3,581.4 64.8,581.3 65.3,581.1 65.8,580.9 66.3,580.7 66.8,580.4 67.3,580.1 67.8,579.8 68.3,579.4 68.8,579.0 69.3,578.5 69.8,578.0 70.3,577.5 70.8,577.0 71.3,576.5 71.8,575.9 72.3,575.4 72.8,574.9 73.3,574.4 73.8,573.9 74.3,573.5 74.8,573.1 75.3,572.6 75.8,572.2 76.0,572.0 76.3,572.3 76.8,572.7 77.3,573.2 77.8,573.6 78.3,574.0 78.8,574.5 79.3,575.0 79.8,575.5 80.3,576.0 80.8,576.6 81.3,577.1 81.8,577.6 82.3,578.1 82.8,578.6 83.3,579.1 83.8,579.5 84.3,579.9 84.8,580.2 85.3,580.5 85.8,580.8 86.3,581.0 86.8,581.2 87.3,581.3 87.8,581.5 88.3,581.6 88.8,581.7 89.3,581.8 89.8,581.8 90.3,581.9 90.8,581.9 91.3,581.9 91.8,581.9 92.3,582.0 92.8,582.0 93.3,582.0 93.8,582.0 94.3,582.0 94.8,582.0 95.3,582.0 95.8,582.0 96.3,582.0 96.8,582.0 97.3,582.0 97.8,582.0 98.3,582.0 98.8,582.0 99.3,582.0 99.8,582.0 100.3,582.0 100.8,582.0 101.3,582.0 101.8,582.0 102.3,582.0 102.8,582.0 103.3,582.0 103.8,582.0 104.3,582.0 104.8,582.0 105.3,582.0 105.8,582.0 106.3,582.0 106.8,582.0 107.3,582.0 107.8,582.0 108.3,582.0 108.8,582.0 109.3,582.0 109.8,582.0 110.3,582.0 110.8,582.0 111.3,582.0 111.8,582.0 112.3,582.0 112.8,582.0 113.3,582.0 113.8,582.0 114.3,582.0 114.8,582.0 115.3,582.0 115.8,582.0 116.3,582.0 116.8,582.0 117.3,582.0 117.8,582.0 118.3,582.0 118.8,582.0 119.3,582.0 119.8,582.0 120.3,582.0 120.8,582.0 121.3,582.0 121.8,582.0 122.3,582.0 122.8,582.0 123.3,582.0 123.8,582.0 124.3,582.0 124.8,582.0 125.3,582.0 125.8,582.0 126.3,582.0 126.8,582.0 127.3,582.0 127.8,582.0 128.3,582.0 128.8,582.0 129.3,582.0 129.8,582.0 130.3,582.0 130.8,582.0 131.3,582.0 131.8,582.0 132.3,582.0 132.8,582.0 133.3,582.0 133.8,582.0 134.3,582.0 134.8,582.0 135.3,582.0 135.8,582.0 136.3,582.0 136.8,582.0 137.3,582.0 137.8,582.0 138.3,582.0 138.8,582.0 139.3,582.0 139.8,582.0 140.3,582.0 140.8,582.0 141.3,582.0 141.8,582.0 142.3,582.0 142.8,582.0 143.3,582.0 143.8,582.0 144.3,582.0 144.8,582.0 145.3,582.0 145.8,582.0 146.3,582.0 146.8,582.0 147.3,582.0 147.8,582.0 148.3,582.0 148.8,582.0 149.3,582.0 149.8,582.0 150.3,582.0 150.8,582.0 151.3,582.0 151.8,582.0 152.3,582.0 152.8,582.0 153.3,582.0 153.8,582.0 154.3,582.0 154.8,582.0 155.3,582.0 155.8,582.0 156.3,582.0 156.8,582.0 157.3,582.0 157.8,582.0 158.3,582.0 158.8,582.0 159.3,582.0 159.8,582.0 160.3,582.0 160.8,582.0 161.3,582.0 161.8,582.0 162.3,582.0 162.8,582.0 163.3,582.0 163.8,582.0 164.3,582.0 164.8,582.0 165.3,582.0 165.8,582.0 166.3,582.0 166.8,582.0 167.3,582.0 167.8,582.0 168.3,582.0 168.8,582.0 169.3,582.0 169.8,582.0 170.3,582.0 170.8,582.0 171.3,582.0 171.8,582.0" fill="none" stroke="#d0d0d0" stroke-width="0.8" stroke-linejoin="round"/>
<line x1="27.3" y1="582" x2="171.8" y2="582" stroke="#222" stroke-width="0.9"/>
<line x1="27.30" y1="582" x2="27.30" y2="584.3" stroke="#333" stroke-width="0.7"/>
<line x1="32.80" y1="582" x2="32.80" y2="584.3" stroke="#333" stroke-width="0.7"/>
<line x1="38.30" y1="582" x2="38.30" y2="584.3" stroke="#333" stroke-width="0.7"/>
<line x1="43.80" y1="582" x2="43.80" y2="584.3" stroke="#333" stroke-width="0.7"/>
<line x1="49.30" y1="582" x2="49.30" y2="584.3" stroke="#333" stroke-width="0.7"/>
<line x1="54.80" y1="582" x2="54.80" y2="584.3" stroke="#333" stroke-width="0.7"/>
<line x1="60.30" y1="582" x2="60.30" y2="584.3" stroke="#333" stroke-width="0.7"/>
<line x1="65.80" y1="582" x2="65.80" y2="584.3" stroke="#333" stroke-width="0.7"/>
<line x1="71.30" y1="582" x2="71.30" y2="584.3" stroke="#333" stroke-width="0.7"/>
<line x1="76.80" y1="582" x2="76.80" y2="584.3" stroke="#333" stroke-width="0.7"/>
<line x1="82.30" y1="582" x2="82.30" y2="584.3" stroke="#333" stroke-width="0.7"/>
<line x1="87.80" y1="582" x2="87.80" y2="584.3" stroke="#333" stroke-width="0.7"/>
<line x1="93.30" y1="582" x2="93.30" y2="584.3" stroke="#333" stroke-width="0.7"/>
<line x1="98.80" y1="582" x2="98.80" y2="584.3" stroke="#333" stroke-width="0.7"/>
<line x1="104.30" y1="582" x2="104.30" y2="584.3" stroke="#333" stroke-width="0.7"/>
<line x1="109.80" y1="582" x2="109.80" y2="584.3" stroke="#333" stroke-width="0.7"/>
<line x1="115.30" y1="582" x2="115.30" y2="584.3" stroke="#333" stroke-width="0.7"/>
<line x1="120.80" y1="582" x2="120.80" y2="584.3" stroke="#333" stroke-width="0.7"/>
<line x1="126.30" y1="582" x2="126.30" y2="584.3" stroke="#333" stroke-width="0.7"/>
<line x1="131.80" y1="582" x2="131.80" y2="584.3" stroke="#333" stroke-width="0.7"/>
<line x1="137.30" y1="582" x2="137.30" y2="584.3" stroke="#333" stroke-width="0.7"/>
<line x1="142.80" y1="582" x2="142.80" y2="584.3" stroke="#333" stroke-width="0.7"/>
<line x1="148.30" y1="582" x2="148.30" y2="584.3" stroke="#333" stroke-width="0.7"/>
<line x1="153.80" y1="582" x2="153.80" y2="584.3" stroke="#333" stroke-width="0.7"/>
<line x1="159.30" y1="582" x2="159.30" y2="584.3" stroke="#333" stroke-width="0.7"/>
<line x1="164.80" y1="582" x2="164.80" y2="584.3" stroke="#333" stroke-width="0.7"/>
<line x1="170.30" y1="582" x2="170.30" y2="584.3" stroke="#333" stroke-width="0.7"/>
<line x1="27.30" y1="582" x2="27.30" y2="585.6" stroke="#111" stroke-width="1.1"/>
<line x1="54.80" y1="582" x2="54.80" y2="585.6" stroke="#111" stroke-width="1.1"/>
<line x1="82.30" y1="582" x2="82.30" y2="585.6" stroke="#111" stroke-width="1.1"/>
<line x1="109.80" y1="582" x2="109.80" y2="585.6" stroke="#111" stroke-width="1.1"/>
<line x1="137.30" y1="582" x2="137.30" y2="585.6" stroke="#111" stroke-width="1.1"/>
<line x1="164.80" y1="582" x2="164.80" y2="585.6" stroke="#111" stroke-width="1.1"/>
<text transform="translate(27.30,592.60) scale(1.180,1)" font-size="5.2" text-anchor="middle" font-weight="normal" fill="#444" >0</text>
<text transform="translate(54.80,592.60) scale(1.180,1)" font-size="5.2" text-anchor="middle" font-weight="normal" fill="#444" >50K</text>
<text transform="translate(82.30,592.60) scale(1.180,1)" font-size="5.2" text-anchor="middle" font-weight="normal" fill="#444" >100K</text>
<text transform="translate(109.80,592.60) scale(1.180,1)" font-size="5.2" text-anchor="middle" font-weight="normal" fill="#444" >150K</text>
<text transform="translate(137.30,592.60) scale(1.180,1)" font-size="5.2" text-anchor="middle" font-weight="normal" fill="#444" >200K</text>
<text transform="translate(164.80,592.60) scale(1.180,1)" font-size="5.2" text-anchor="middle" font-weight="normal" fill="#444" >250K</text>
<text transform="translate(209.20,563.70)" font-size="11.8" text-anchor="start" font-weight="normal" fill="#111" >PD2</text>
<text transform="translate(178.50,591.40)" font-size="11.8" text-anchor="start" font-weight="normal" fill="#111" >PD8</text>
<line x1="203.5" y1="567.6" x2="195.17" y2="574.63" stroke="#1a1a1a" stroke-width="1.0"/>
<polygon points="194.36,572.99 192.6,576.8 196.65,575.70" fill="#1a1a1a"/>
<text transform="translate(361.70,446.90)" font-size="15.6" text-anchor="start" font-weight="bold" fill="#111" >I</text>
<text transform="translate(383.30,517.00) rotate(-90)" font-size="13.5" text-anchor="middle" font-weight="normal" fill="#111" >Cell count</text>
<text transform="translate(459.00,614.40)" font-size="13.5" text-anchor="middle" font-weight="normal" fill="#111" >DNA content</text>
<polygon points="388.3,582.3 517,582.3 549.00,559.90 420.30,559.90" fill="#ffffff" stroke="none"/>
<path d="M390.40,582.3l32.00,-22.40M394.60,582.3l32.00,-22.40M398.80,582.3l32.00,-22.40M403.00,582.3l32.00,-22.40M407.20,582.3l32.00,-22.40M411.40,582.3l32.00,-22.40M415.60,582.3l32.00,-22.40M419.80,582.3l32.00,-22.40M424.00,582.3l32.00,-22.40M428.20,582.3l32.00,-22.40M432.40,582.3l32.00,-22.40M436.60,582.3l32.00,-22.40M440.80,582.3l32.00,-22.40M445.00,582.3l32.00,-22.40M449.20,582.3l32.00,-22.40M453.40,582.3l32.00,-22.40M457.60,582.3l32.00,-22.40M461.80,582.3l32.00,-22.40M466.00,582.3l32.00,-22.40M470.20,582.3l32.00,-22.40M474.40,582.3l32.00,-22.40M478.60,582.3l32.00,-22.40M482.80,582.3l32.00,-22.40M487.00,582.3l32.00,-22.40M491.20,582.3l32.00,-22.40M495.40,582.3l32.00,-22.40M499.60,582.3l32.00,-22.40M503.80,582.3l32.00,-22.40M508.00,582.3l32.00,-22.40M512.20,582.3l32.00,-22.40M516.40,582.3l32.00,-22.40" stroke="#bbb" stroke-width="0.5" fill="none"/>
<path d="M388.30,582.3l32.00,-22.40M412.80,582.3l32.00,-22.40M437.30,582.3l32.00,-22.40M461.80,582.3l32.00,-22.40M486.30,582.3l32.00,-22.40M510.80,582.3l32.00,-22.40" stroke="#3a3a3a" stroke-width="0.7" fill="none"/>
<line x1="388.3" y1="582.3" x2="420.30" y2="559.90" stroke="#666" stroke-width="0.6"/>
<line x1="517" y1="582.3" x2="549.00" y2="559.90" stroke="#666" stroke-width="0.6"/>
<polygon points="434.8,559.9 442.3,559.9 442.3,582.3 434.8,582.3" fill="#c27c7c" fill-opacity="0.35"/>
<polygon points="449.3,559.9 466.4,559.9 466.4,582.3 449.3,582.3" fill="#c27c7c" fill-opacity="0.35"/>
<polygon points="426.2,567.4 433.2,567.4 433.2,582.3 426.2,582.3" fill="#ea6464" fill-opacity="0.35"/>
<polygon points="440.7,567.4 461.2,567.4 461.2,582.3 440.7,582.3" fill="#ea6464" fill-opacity="0.35"/>
<polygon points="417.5,574.8 423.0,574.8 423.0,582.3 417.5,582.3" fill="#f29c9c" fill-opacity="0.35"/>
<polygon points="433.5,574.8 448.0,574.8 448.0,582.3 433.5,582.3" fill="#f29c9c" fill-opacity="0.35"/>
<polygon points="420.3,559.9 420.3,559.9 420.8,559.9 421.3,559.9 421.8,559.9 422.3,559.9 422.8,559.9 423.3,559.9 423.8,559.9 424.3,559.9 424.8,559.9 425.3,559.9 425.8,559.9 426.3,559.9 426.8,559.9 427.3,559.9 427.8,559.9 428.3,559.9 428.8,559.9 429.3,559.9 429.8,559.9 430.3,559.9 430.8,559.9 431.3,559.8 431.8,559.7 432.3,559.5 432.8,559.0 433.3,558.1 433.8,556.7 434.3,554.4 434.8,551.2 435.3,547.1 435.8,542.3 436.3,537.1 436.8,532.0 437.3,527.4 437.8,523.6 438.3,520.0 438.5,518.6 438.8,521.2 439.3,524.8 439.8,528.8 440.3,533.5 440.8,538.7 441.3,543.9 441.8,548.5 442.3,552.3 442.8,555.2 443.3,557.2 443.8,558.4 444.3,559.1 444.8,559.5 445.3,559.6 445.8,559.6 446.3,559.4 446.8,559.1 447.3,558.7 447.8,558.0 448.3,557.0 448.8,555.7 449.3,553.8 449.8,551.3 450.3,548.1 450.8,544.1 451.3,539.1 451.8,533.1 452.4,526.2 452.9,518.4 453.4,509.9 453.9,500.9 454.4,491.7 454.9,482.5 455.4,473.8 455.9,465.6 456.4,458.2 456.9,451.3 457.4,444.5 457.8,437.9 457.9,438.8 458.4,446.1 458.9,452.8 459.4,459.8 459.9,467.5 460.4,475.8 460.9,484.7 461.4,493.8 461.9,503.0 462.4,511.9 462.9,520.3 463.4,527.9 463.9,534.6 464.4,540.3 464.9,545.1 465.4,548.9 465.9,551.9 466.4,553.4 466.9,555.0 467.4,556.5 467.9,557.2 468.4,557.2 468.9,557.2 469.4,557.2 469.9,557.1 470.4,557.6 470.9,557.5 471.4,557.2 471.9,556.9 472.4,557.4 472.9,557.4 473.4,557.3 473.9,556.8 474.4,557.4 474.9,556.8 475.4,556.8 475.9,557.3 476.4,556.9 476.9,556.9 477.4,556.9 477.9,556.3 478.4,557.1 478.9,557.2 479.4,556.2 479.9,556.7 480.4,556.9 480.9,556.7 481.4,556.6 481.9,556.0 482.4,556.7 482.9,556.7 483.4,556.2 483.9,556.2 484.4,555.8 484.9,555.9 485.4,556.4 485.9,556.6 486.4,556.0 486.9,555.9 487.4,556.9 487.9,556.2 488.4,556.1 488.9,556.4 489.4,556.8 489.9,556.3 490.4,556.4 490.9,557.0 491.4,556.6 491.9,557.0 492.4,557.3 492.9,557.0 493.4,557.0 493.9,557.0 494.4,556.8 494.9,556.7 495.4,556.6 495.9,556.6 496.4,556.6 496.9,556.8 497.4,557.3 497.9,557.4 498.4,557.0 498.9,557.1 499.4,557.0 499.9,557.6 500.4,557.5 500.9,556.8 501.4,557.1 501.9,557.0 502.4,557.7 502.9,557.4 503.4,556.9 503.9,557.1 504.4,556.8 504.9,557.6 505.4,557.4 505.9,557.1 506.4,557.4 506.9,557.1 507.4,557.4 507.9,557.8 508.4,557.8 508.9,557.0 509.4,557.9 509.9,557.8 510.4,557.7 510.9,557.3 511.4,557.2 511.9,557.6 512.4,557.6 512.9,557.3 513.4,557.8 513.9,557.8 514.4,557.5 514.9,557.5 515.4,558.1 515.9,558.1 516.4,558.1 517.0,557.5 517.5,557.6 518.0,557.3 518.5,557.5 519.0,558.0 519.5,557.5 520.0,557.3 520.5,557.8 521.0,557.9 521.5,557.9 522.0,557.9 522.5,557.9 523.0,557.9 523.5,557.9 524.0,558.0 524.5,558.0 525.0,558.0 525.5,558.0 526.0,558.0 526.5,558.0 527.0,558.1 527.5,558.1 528.0,558.1 528.5,558.1 529.0,558.1 529.5,558.1 530.0,558.2 530.5,558.2 531.0,558.2 531.5,558.2 532.0,558.2 532.5,558.2 533.0,558.3 533.5,558.3 534.0,558.3 534.5,558.3 535.0,558.3 535.5,558.3 536.0,558.4 536.5,558.4 537.0,558.4 537.5,558.4 538.0,558.4 538.5,558.4 539.0,558.5 539.5,558.5 540.0,558.5 540.5,559.9 541.0,559.9 541.5,559.9 542.0,559.9 542.5,559.9 543.0,559.9 543.5,559.9 544.0,559.9 544.5,559.9 545.0,559.9 545.5,559.9 546.0,559.9 546.5,559.9 547.0,559.9 547.5,559.9 548.0,559.9 548.5,559.9 549.0,559.9 549.0,559.9" fill="#c27c7c" fill-opacity="0.7" stroke="none"/>
<line x1="420.30" y1="559.90" x2="549.00" y2="559.90" stroke="#8e2a2a" stroke-width="0.9"/>
<polyline points="420.3,559.9 420.8,559.9 421.3,559.9 421.8,559.9 422.3,559.9 422.8,559.9 423.3,559.9 423.8,559.9 424.3,559.9 424.8,559.9 425.3,559.9 425.8,559.9 426.3,559.9 426.8,559.9 427.3,559.9 427.8,559.9 428.3,559.9 428.8,559.9 429.3,559.9 429.8,559.9 430.3,559.9 430.8,559.9 431.3,559.8 431.8,559.7 432.3,559.5 432.8,559.0 433.3,558.1 433.8,556.7 434.3,554.4 434.8,551.2 435.3,547.1 435.8,542.3 436.3,537.1 436.8,532.0 437.3,527.4 437.8,523.6 438.3,520.0 438.5,518.6 438.8,521.2 439.3,524.8 439.8,528.8 440.3,533.5 440.8,538.7 441.3,543.9 441.8,548.5 442.3,552.3 442.8,555.2 443.3,557.2 443.8,558.4 444.3,559.1 444.8,559.5 445.3,559.6 445.8,559.6 446.3,559.4 446.8,559.1 447.3,558.7 447.8,558.0 448.3,557.0 448.8,555.7 449.3,553.8 449.8,551.3 450.3,548.1 450.8,544.1 451.3,539.1 451.8,533.1 452.4,526.2 452.9,518.4 453.4,509.9 453.9,500.9 454.4,491.7 454.9,482.5 455.4,473.8 455.9,465.6 456.4,458.2 456.9,451.3 457.4,444.5 457.8,437.9 457.9,438.8 458.4,446.1 458.9,452.8 459.4,459.8 459.9,467.5 460.4,475.8 460.9,484.7 461.4,493.8 461.9,503.0 462.4,511.9 462.9,520.3 463.4,527.9 463.9,534.6 464.4,540.3 464.9,545.1 465.4,548.9 465.9,551.9 466.4,553.4 466.9,555.0 467.4,556.5 467.9,557.2 468.4,557.2 468.9,557.2 469.4,557.2 469.9,557.1 470.4,557.6 470.9,557.5 471.4,557.2 471.9,556.9 472.4,557.4 472.9,557.4 473.4,557.3 473.9,556.8 474.4,557.4 474.9,556.8 475.4,556.8 475.9,557.3 476.4,556.9 476.9,556.9 477.4,556.9 477.9,556.3 478.4,557.1 478.9,557.2 479.4,556.2 479.9,556.7 480.4,556.9 480.9,556.7 481.4,556.6 481.9,556.0 482.4,556.7 482.9,556.7 483.4,556.2 483.9,556.2 484.4,555.8 484.9,555.9 485.4,556.4 485.9,556.6 486.4,556.0 486.9,555.9 487.4,556.9 487.9,556.2 488.4,556.1 488.9,556.4 489.4,556.8 489.9,556.3 490.4,556.4 490.9,557.0 491.4,556.6 491.9,557.0 492.4,557.3 492.9,557.0 493.4,557.0 493.9,557.0 494.4,556.8 494.9,556.7 495.4,556.6 495.9,556.6 496.4,556.6 496.9,556.8 497.4,557.3 497.9,557.4 498.4,557.0 498.9,557.1 499.4,557.0 499.9,557.6 500.4,557.5 500.9,556.8 501.4,557.1 501.9,557.0 502.4,557.7 502.9,557.4 503.4,556.9 503.9,557.1 504.4,556.8 504.9,557.6 505.4,557.4 505.9,557.1 506.4,557.4 506.9,557.1 507.4,557.4 507.9,557.8 508.4,557.8 508.9,557.0 509.4,557.9 509.9,557.8 510.4,557.7 510.9,557.3 511.4,557.2 511.9,557.6 512.4,557.6 512.9,557.3 513.4,557.8 513.9,557.8 514.4,557.5 514.9,557.5 515.4,558.1 515.9,558.1 516.4,558.1 517.0,557.5 517.5,557.6 518.0,557.3 518.5,557.5 519.0,558.0 519.5,557.5 520.0,557.3 520.5,557.8 521.0,557.9 521.5,557.9 522.0,557.9 522.5,557.9 523.0,557.9 523.5,557.9 524.0,558.0 524.5,558.0 525.0,558.0 525.5,558.0 526.0,558.0 526.5,558.0 527.0,558.1 527.5,558.1 528.0,558.1 528.5,558.1 529.0,558.1 529.5,558.1 530.0,558.2 530.5,558.2 531.0,558.2 531.5,558.2 532.0,558.2 532.5,558.2 533.0,558.3 533.5,558.3 534.0,558.3 534.5,558.3 535.0,558.3 535.5,558.3 536.0,558.4 536.5,558.4 537.0,558.4 537.5,558.4 538.0,558.4 538.5,558.4 539.0,558.5 539.5,558.5 540.0,558.5 540.5,559.9 541.0,559.9 541.5,559.9 542.0,559.9 542.5,559.9 543.0,559.9 543.5,559.9 544.0,559.9 544.5,559.9 545.0,559.9 545.5,559.9 546.0,559.9 546.5,559.9 547.0,559.9 547.5,559.9 548.0,559.9 548.5,559.9 549.0,559.9" fill="none" stroke="#8e2626" stroke-width="0.8" stroke-linejoin="round"/>
<polygon points="409.6,567.4 409.6,567.4 410.1,567.4 410.6,567.4 411.1,567.4 411.6,567.4 412.1,567.4 412.6,567.4 413.1,567.4 413.6,567.4 414.1,567.4 414.6,567.4 415.1,567.4 415.6,567.4 416.1,567.4 416.6,567.4 417.1,567.4 417.6,567.4 418.1,567.4 418.6,567.4 419.1,567.4 419.6,567.4 420.1,567.4 420.6,567.4 421.2,567.4 421.7,567.4 422.2,567.4 422.7,567.3 423.2,567.3 423.7,567.2 424.2,566.9 424.7,566.4 425.2,565.4 425.7,563.6 426.2,560.8 426.7,557.0 427.2,552.1 427.7,546.6 428.2,541.1 428.7,536.4 429.2,533.1 429.7,531.1 429.8,530.7 430.2,531.8 430.7,534.4 431.2,538.5 431.7,543.6 432.2,549.1 432.7,554.4 433.2,558.9 433.7,562.2 434.2,564.5 434.7,565.8 435.2,566.6 435.7,566.9 436.2,567.0 436.7,566.9 437.2,566.7 437.7,566.4 438.2,565.9 438.7,565.3 439.2,564.5 439.7,563.5 440.2,562.1 440.7,560.4 441.2,558.2 441.7,555.6 442.2,552.4 442.7,548.8 443.2,544.5 443.7,539.8 444.2,534.6 444.7,528.9 445.2,523.0 445.7,517.0 446.2,510.9 446.7,505.0 447.2,499.5 447.7,494.4 448.2,490.0 448.7,486.2 449.2,483.1 449.7,480.7 450.1,479.0 450.2,479.3 450.7,480.8 451.2,482.8 451.7,485.4 452.2,488.7 452.7,492.5 453.2,496.9 453.7,501.7 454.2,506.7 454.7,511.9 455.2,517.1 455.7,522.3 456.2,527.2 456.7,531.8 457.0,534.4 457.2,536.3 457.7,540.7 458.2,544.7 458.7,548.3 459.2,551.5 459.7,554.4 460.2,556.9 460.7,559.0 461.2,560.9 461.7,562.4 462.2,563.6 462.7,564.6 463.2,565.3 463.7,565.9 464.2,565.8 464.7,565.5 465.2,565.2 465.7,565.0 466.2,565.1 466.7,565.0 467.2,565.0 467.7,564.5 468.2,564.8 468.7,564.7 469.2,565.2 469.7,564.8 470.2,564.6 470.7,564.8 471.2,564.5 471.7,564.6 472.2,565.0 472.7,565.3 473.2,564.7 473.7,565.2 474.2,565.3 474.7,564.7 475.2,564.7 475.7,564.7 476.2,564.6 476.7,565.2 477.2,565.3 477.7,565.3 478.2,564.6 478.7,565.3 479.2,565.3 479.7,565.4 480.2,565.4 480.7,565.4 481.2,565.1 481.7,565.3 482.2,565.2 482.7,564.7 483.2,565.3 483.7,564.8 484.2,564.9 484.8,565.0 485.3,565.0 485.8,564.9 486.3,565.0 486.8,565.3 487.3,565.2 487.8,565.3 488.3,565.2 488.8,564.7 489.3,565.2 489.8,565.5 490.3,565.2 490.8,564.9 491.3,565.2 491.8,565.0 492.3,565.5 492.8,565.5 493.3,565.1 493.8,565.6 494.3,565.4 494.8,565.3 495.3,565.5 495.8,565.6 496.3,565.6 496.8,564.9 497.3,565.1 497.8,564.9 498.3,565.3 498.8,564.9 499.3,565.0 499.8,565.2 500.3,565.3 500.8,565.3 501.3,565.6 501.8,565.5 502.3,565.3 502.8,565.7 503.3,565.2 503.8,565.5 504.3,565.5 504.8,565.3 505.3,565.5 505.8,565.9 506.3,565.9 506.8,566.1 507.3,566.1 507.8,565.4 508.3,565.7 508.8,565.5 509.3,565.6 509.8,566.0 510.3,565.5 510.8,565.6 511.3,566.0 511.8,566.3 512.3,566.2 512.8,566.3 513.3,566.2 513.8,566.5 514.3,566.0 514.8,565.8 515.3,566.4 515.8,566.0 516.3,566.2 516.8,566.3 517.3,566.0 517.8,566.5 518.3,566.1 518.8,566.8 519.3,566.1 519.8,566.7 520.3,566.5 520.8,566.5 521.3,566.6 521.8,566.6 522.3,566.6 522.8,566.7 523.3,566.7 523.8,566.7 524.3,566.8 524.8,566.8 525.3,566.8 525.8,566.8 526.3,566.9 526.8,566.9 527.3,566.9 527.8,567.0 528.3,567.0 528.8,567.0 529.3,567.1 529.8,567.1 530.3,567.4 530.8,567.4 531.3,567.4 531.8,567.4 532.3,567.4 532.8,567.4 533.3,567.4 533.8,567.4 534.3,567.4 534.8,567.4 535.3,567.4 535.8,567.4 536.3,567.4 536.8,567.4 537.3,567.4 537.8,567.4 538.3,567.4 538.3,567.4" fill="#ea6464" fill-opacity="0.58" stroke="none"/>
<line x1="409.63" y1="567.37" x2="538.33" y2="567.37" stroke="#dd2a2a" stroke-width="0.9"/>
<polyline points="409.6,567.4 410.1,567.4 410.6,567.4 411.1,567.4 411.6,567.4 412.1,567.4 412.6,567.4 413.1,567.4 413.6,567.4 414.1,567.4 414.6,567.4 415.1,567.4 415.6,567.4 416.1,567.4 416.6,567.4 417.1,567.4 417.6,567.4 418.1,567.4 418.6,567.4 419.1,567.4 419.6,567.4 420.1,567.4 420.6,567.4 421.2,567.4 421.7,567.4 422.2,567.4 422.7,567.3 423.2,567.3 423.7,567.2 424.2,566.9 424.7,566.4 425.2,565.4 425.7,563.6 426.2,560.8 426.7,557.0 427.2,552.1 427.7,546.6 428.2,541.1 428.7,536.4 429.2,533.1 429.7,531.1 429.8,530.7 430.2,531.8 430.7,534.4 431.2,538.5 431.7,543.6 432.2,549.1 432.7,554.4 433.2,558.9 433.7,562.2 434.2,564.5 434.7,565.8 435.2,566.6 435.7,566.9 436.2,567.0 436.7,566.9 437.2,566.7 437.7,566.4 438.2,565.9 438.7,565.3 439.2,564.5 439.7,563.5 440.2,562.1 440.7,560.4 441.2,558.2 441.7,555.6 442.2,552.4 442.7,548.8 443.2,544.5 443.7,539.8 444.2,534.6 444.7,528.9 445.2,523.0 445.7,517.0 446.2,510.9 446.7,505.0 447.2,499.5 447.7,494.4 448.2,490.0 448.7,486.2 449.2,483.1 449.7,480.7 450.1,479.0 450.2,479.3 450.7,480.8 451.2,482.8 451.7,485.4 452.2,488.7 452.7,492.5 453.2,496.9 453.7,501.7 454.2,506.7 454.7,511.9 455.2,517.1 455.7,522.3 456.2,527.2 456.7,531.8 457.0,534.4 457.2,536.3 457.7,540.7 458.2,544.7 458.7,548.3 459.2,551.5 459.7,554.4 460.2,556.9 460.7,559.0 461.2,560.9 461.7,562.4 462.2,563.6 462.7,564.6 463.2,565.3 463.7,565.9 464.2,565.8 464.7,565.5 465.2,565.2 465.7,565.0 466.2,565.1 466.7,565.0 467.2,565.0 467.7,564.5 468.2,564.8 468.7,564.7 469.2,565.2 469.7,564.8 470.2,564.6 470.7,564.8 471.2,564.5 471.7,564.6 472.2,565.0 472.7,565.3 473.2,564.7 473.7,565.2 474.2,565.3 474.7,564.7 475.2,564.7 475.7,564.7 476.2,564.6 476.7,565.2 477.2,565.3 477.7,565.3 478.2,564.6 478.7,565.3 479.2,565.3 479.7,565.4 480.2,565.4 480.7,565.4 481.2,565.1 481.7,565.3 482.2,565.2 482.7,564.7 483.2,565.3 483.7,564.8 484.2,564.9 484.8,565.0 485.3,565.0 485.8,564.9 486.3,565.0 486.8,565.3 487.3,565.2 487.8,565.3 488.3,565.2 488.8,564.7 489.3,565.2 489.8,565.5 490.3,565.2 490.8,564.9 491.3,565.2 491.8,565.0 492.3,565.5 492.8,565.5 493.3,565.1 493.8,565.6 494.3,565.4 494.8,565.3 495.3,565.5 495.8,565.6 496.3,565.6 496.8,564.9 497.3,565.1 497.8,564.9 498.3,565.3 498.8,564.9 499.3,565.0 499.8,565.2 500.3,565.3 500.8,565.3 501.3,565.6 501.8,565.5 502.3,565.3 502.8,565.7 503.3,565.2 503.8,565.5 504.3,565.5 504.8,565.3 505.3,565.5 505.8,565.9 506.3,565.9 506.8,566.1 507.3,566.1 507.8,565.4 508.3,565.7 508.8,565.5 509.3,565.6 509.8,566.0 510.3,565.5 510.8,565.6 511.3,566.0 511.8,566.3 512.3,566.2 512.8,566.3 513.3,566.2 513.8,566.5 514.3,566.0 514.8,565.8 515.3,566.4 515.8,566.0 516.3,566.2 516.8,566.3 517.3,566.0 517.8,566.5 518.3,566.1 518.8,566.8 519.3,566.1 519.8,566.7 520.3,566.5 520.8,566.5 521.3,566.6 521.8,566.6 522.3,566.6 522.8,566.7 523.3,566.7 523.8,566.7 524.3,566.8 524.8,566.8 525.3,566.8 525.8,566.8 526.3,566.9 526.8,566.9 527.3,566.9 527.8,567.0 528.3,567.0 528.8,567.0 529.3,567.1 529.8,567.1 530.3,567.4 530.8,567.4 531.3,567.4 531.8,567.4 532.3,567.4 532.8,567.4 533.3,567.4 533.8,567.4 534.3,567.4 534.8,567.4 535.3,567.4 535.8,567.4 536.3,567.4 536.8,567.4 537.3,567.4 537.8,567.4 538.3,567.4" fill="none" stroke="#dd2424" stroke-width="0.8" stroke-linejoin="round"/>
<polygon points="399.0,574.8 399.0,574.8 399.5,574.8 400.0,574.8 400.5,574.8 401.0,574.8 401.5,574.8 402.0,574.8 402.5,574.8 403.0,574.8 403.5,574.8 404.0,574.8 404.5,574.8 405.0,574.8 405.5,574.8 406.0,574.8 406.5,574.8 407.0,574.8 407.5,574.8 408.0,574.8 408.5,574.8 409.0,574.8 409.5,574.8 410.0,574.8 410.5,574.8 411.0,574.8 411.5,574.8 412.0,574.8 412.5,574.8 413.0,574.8 413.5,574.8 414.0,574.8 414.5,574.7 415.0,574.4 415.5,574.0 416.0,573.0 416.5,571.5 417.0,569.1 417.5,565.9 418.0,562.1 418.5,558.1 419.0,554.4 419.5,551.3 420.0,548.6 420.2,547.3 420.5,549.1 421.0,551.9 421.5,555.1 422.0,558.9 422.5,562.9 423.0,566.6 423.5,569.7 424.0,571.8 424.5,573.3 425.0,574.1 425.5,574.5 426.0,574.7 426.5,574.8 427.0,574.8 427.5,574.8 428.0,574.8 428.5,574.8 429.0,574.7 429.5,574.6 430.0,574.5 430.5,574.2 431.0,573.9 431.5,573.4 432.0,572.7 432.5,571.7 433.0,570.4 433.5,568.7 434.0,566.5 434.5,563.8 435.0,560.5 435.5,556.7 436.0,552.4 436.5,547.7 437.0,542.8 437.5,537.7 438.0,532.8 438.5,528.0 439.0,523.7 439.5,519.7 440.0,516.0 440.5,512.2 440.8,509.9 441.0,511.9 441.5,515.7 442.0,519.4 442.5,523.4 443.0,527.7 443.5,532.4 444.0,537.4 444.5,542.4 445.0,547.4 445.5,552.1 446.0,556.4 446.5,560.2 447.0,563.5 447.5,566.3 448.0,568.5 448.5,570.3 449.0,571.6 449.5,572.6 450.0,573.4 450.5,573.9 451.0,574.2 451.5,574.5 452.0,574.6 452.6,574.7 453.1,574.8 453.6,574.8 454.1,574.8 454.6,574.8 455.1,574.8 455.6,574.8 456.1,574.8 456.6,574.8 457.1,574.8 457.6,574.8 458.1,574.8 458.6,574.8 459.1,574.8 459.6,574.8 460.1,574.8 460.6,574.8 461.1,574.8 461.6,574.8 462.1,574.8 462.6,574.8 463.1,574.8 463.6,574.8 464.1,574.8 464.6,574.8 465.1,574.8 465.6,574.8 466.1,574.8 466.6,574.8 467.1,574.8 467.6,574.8 468.1,574.8 468.6,574.8 469.1,574.8 469.6,574.8 470.1,574.8 470.6,574.8 471.1,574.8 471.6,574.8 472.1,574.8 472.6,574.8 473.1,574.8 473.6,574.8 474.1,574.8 474.6,574.8 475.1,574.8 475.6,574.8 476.1,574.8 476.6,574.8 477.1,574.8 477.6,574.8 478.1,574.8 478.6,574.8 479.1,574.8 479.6,574.8 480.1,574.8 480.6,574.8 481.1,574.8 481.6,574.8 482.1,574.8 482.6,574.8 483.1,574.8 483.6,574.8 484.1,574.8 484.6,574.8 485.1,574.8 485.6,574.8 486.1,574.8 486.6,574.8 487.1,574.8 487.6,574.8 488.1,574.8 488.6,574.8 489.1,574.8 489.6,574.8 490.1,574.8 490.6,574.8 491.1,574.8 491.6,574.8 492.1,574.8 492.6,574.8 493.1,574.8 493.6,574.8 494.1,574.8 494.6,574.8 495.1,574.8 495.6,574.8 496.1,574.8 496.6,574.8 497.1,574.8 497.6,574.8 498.1,574.8 498.6,574.8 499.1,574.8 499.6,574.8 500.1,574.8 500.6,574.8 501.1,574.8 501.6,574.8 502.1,574.8 502.6,574.8 503.1,574.8 503.6,574.8 504.1,574.8 504.6,574.8 505.1,574.8 505.6,574.8 506.1,574.8 506.6,574.8 507.1,574.8 507.6,574.8 508.1,574.8 508.6,574.8 509.1,574.8 509.6,574.8 510.1,574.8 510.6,574.8 511.1,574.8 511.6,574.8 512.1,574.8 512.6,574.8 513.1,574.8 513.6,574.8 514.1,574.8 514.6,574.8 515.1,574.8 515.6,574.8 516.1,574.8 516.6,574.8 517.1,574.8 517.7,574.8 518.2,574.8 518.7,574.8 519.2,574.8 519.7,574.8 520.2,574.8 520.7,574.8 521.2,574.8 521.7,574.8 522.2,574.8 522.7,574.8 523.2,574.8 523.7,574.8 524.2,574.8 524.7,574.8 525.2,574.8 525.7,574.8 526.2,574.8 526.7,574.8 527.2,574.8 527.7,574.8 527.7,574.8" fill="#f29c9c" fill-opacity="0.6" stroke="none"/>
<line x1="398.97" y1="574.83" x2="527.67" y2="574.83" stroke="#e87272" stroke-width="0.9"/>
<polyline points="399.0,574.8 399.5,574.8 400.0,574.8 400.5,574.8 401.0,574.8 401.5,574.8 402.0,574.8 402.5,574.8 403.0,574.8 403.5,574.8 404.0,574.8 404.5,574.8 405.0,574.8 405.5,574.8 406.0,574.8 406.5,574.8 407.0,574.8 407.5,574.8 408.0,574.8 408.5,574.8 409.0,574.8 409.5,574.8 410.0,574.8 410.5,574.8 411.0,574.8 411.5,574.8 412.0,574.8 412.5,574.8 413.0,574.8 413.5,574.8 414.0,574.8 414.5,574.7 415.0,574.4 415.5,574.0 416.0,573.0 416.5,571.5 417.0,569.1 417.5,565.9 418.0,562.1 418.5,558.1 419.0,554.4 419.5,551.3 420.0,548.6 420.2,547.3 420.5,549.1 421.0,551.9 421.5,555.1 422.0,558.9 422.5,562.9 423.0,566.6 423.5,569.7 424.0,571.8 424.5,573.3 425.0,574.1 425.5,574.5 426.0,574.7 426.5,574.8 427.0,574.8 427.5,574.8 428.0,574.8 428.5,574.8 429.0,574.7 429.5,574.6 430.0,574.5 430.5,574.2 431.0,573.9 431.5,573.4 432.0,572.7 432.5,571.7 433.0,570.4 433.5,568.7 434.0,566.5 434.5,563.8 435.0,560.5 435.5,556.7 436.0,552.4 436.5,547.7 437.0,542.8 437.5,537.7 438.0,532.8 438.5,528.0 439.0,523.7 439.5,519.7 440.0,516.0 440.5,512.2 440.8,509.9 441.0,511.9 441.5,515.7 442.0,519.4 442.5,523.4 443.0,527.7 443.5,532.4 444.0,537.4 444.5,542.4 445.0,547.4 445.5,552.1 446.0,556.4 446.5,560.2 447.0,563.5 447.5,566.3 448.0,568.5 448.5,570.3 449.0,571.6 449.5,572.6 450.0,573.4 450.5,573.9 451.0,574.2 451.5,574.5 452.0,574.6 452.6,574.7 453.1,574.8 453.6,574.8 454.1,574.8 454.6,574.8 455.1,574.8 455.6,574.8 456.1,574.8 456.6,574.8 457.1,574.8 457.6,574.8 458.1,574.8 458.6,574.8 459.1,574.8 459.6,574.8 460.1,574.8 460.6,574.8 461.1,574.8 461.6,574.8 462.1,574.8 462.6,574.8 463.1,574.8 463.6,574.8 464.1,574.8 464.6,574.8 465.1,574.8 465.6,574.8 466.1,574.8 466.6,574.8 467.1,574.8 467.6,574.8 468.1,574.8 468.6,574.8 469.1,574.8 469.6,574.8 470.1,574.8 470.6,574.8 471.1,574.8 471.6,574.8 472.1,574.8 472.6,574.8 473.1,574.8 473.6,574.8 474.1,574.8 474.6,574.8 475.1,574.8 475.6,574.8 476.1,574.8 476.6,574.8 477.1,574.8 477.6,574.8 478.1,574.8 478.6,574.8 479.1,574.8 479.6,574.8 480.1,574.8 480.6,574.8 481.1,574.8 481.6,574.8 482.1,574.8 482.6,574.8 483.1,574.8 483.6,574.8 484.1,574.8 484.6,574.8 485.1,574.8 485.6,574.8 486.1,574.8 486.6,574.8 487.1,574.8 487.6,574.8 488.1,574.8 488.6,574.8 489.1,574.8 489.6,574.8 490.1,574.8 490.6,574.8 491.1,574.8 491.6,574.8 492.1,574.8 492.6,574.8 493.1,574.8 493.6,574.8 494.1,574.8 494.6,574.8 495.1,574.8 495.6,574.8 496.1,574.8 496.6,574.8 497.1,574.8 497.6,574.8 498.1,574.8 498.6,574.8 499.1,574.8 499.6,574.8 500.1,574.8 500.6,574.8 501.1,574.8 501.6,574.8 502.1,574.8 502.6,574.8 503.1,574.8 503.6,574.8 504.1,574.8 504.6,574.8 505.1,574.8 505.6,574.8 506.1,574.8 506.6,574.8 507.1,574.8 507.6,574.8 508.1,574.8 508.6,574.8 509.1,574.8 509.6,574.8 510.1,574.8 510.6,574.8 511.1,574.8 511.6,574.8 512.1,574.8 512.6,574.8 513.1,574.8 513.6,574.8 514.1,574.8 514.6,574.8 515.1,574.8 515.6,574.8 516.1,574.8 516.6,574.8 517.1,574.8 517.7,574.8 518.2,574.8 518.7,574.8 519.2,574.8 519.7,574.8 520.2,574.8 520.7,574.8 521.2,574.8 521.7,574.8 522.2,574.8 522.7,574.8 523.2,574.8 523.7,574.8 524.2,574.8 524.7,574.8 525.2,574.8 525.7,574.8 526.2,574.8 526.7,574.8 527.2,574.8 527.7,574.8" fill="none" stroke="#e86a6a" stroke-width="0.8" stroke-linejoin="round"/>
<polygon points="388.3,582.3 388.3,582.3 388.8,582.3 389.3,582.3 389.8,582.3 390.3,582.3 390.8,582.3 391.3,582.3 391.8,582.3 392.3,582.3 392.8,582.3 393.3,582.3 393.8,582.3 394.3,582.3 394.8,582.3 395.3,582.3 395.8,582.3 396.3,582.3 396.8,582.3 397.3,582.3 397.8,582.3 398.3,582.3 398.8,582.3 399.3,582.3 399.8,582.3 400.3,582.3 400.8,582.3 401.3,582.2 401.8,582.1 402.3,581.8 402.8,581.0 403.3,579.4 403.8,576.5 404.3,571.8 404.8,565.1 405.3,556.9 405.8,548.1 406.3,539.7 406.8,532.8 407.3,526.7 407.5,524.3 407.8,528.6 408.3,534.8 408.8,542.2 409.3,550.9 409.8,559.6 410.3,567.4 410.8,573.3 411.3,577.4 411.8,579.7 412.3,580.9 412.8,581.3 413.3,581.2 413.8,581.0 414.3,580.5 414.8,579.8 415.3,579.0 415.8,577.8 416.3,576.4 416.8,574.7 417.3,572.6 417.8,570.0 418.3,567.0 418.8,563.6 419.3,559.6 419.8,555.1 420.4,550.2 420.9,544.8 421.4,539.1 421.9,533.2 422.4,527.1 422.9,521.0 423.4,515.0 423.9,509.2 424.4,503.7 424.9,498.6 425.4,493.8 425.9,489.2 426.4,484.8 426.9,480.1 427.1,477.6 427.4,480.3 427.9,485.0 428.4,489.4 428.9,494.0 429.4,498.8 429.9,503.9 430.4,509.4 430.9,515.2 431.4,521.3 431.9,527.4 432.4,533.4 432.9,539.4 433.4,545.0 433.9,550.4 434.4,555.3 434.9,559.7 435.4,563.7 435.9,567.2 436.4,570.2 436.9,572.7 437.4,574.8 437.9,576.5 438.4,577.9 438.9,579.0 439.4,579.9 439.9,580.5 440.4,581.0 440.9,581.4 441.4,581.7 441.9,581.9 442.4,582.0 442.9,582.1 443.4,582.2 443.9,582.2 444.4,582.2 444.9,582.3 445.4,582.3 445.9,582.3 446.4,582.3 446.9,582.3 447.4,582.3 447.9,582.3 448.4,582.3 448.9,582.3 449.4,582.3 449.9,582.3 450.4,582.3 450.9,582.3 451.4,582.3 451.9,582.3 452.4,582.3 452.9,582.3 453.4,582.3 453.9,582.3 454.4,582.3 454.9,582.3 455.4,582.3 455.9,582.3 456.4,582.3 456.9,582.3 457.4,582.3 457.9,582.3 458.4,582.3 458.9,582.3 459.4,582.3 459.9,582.3 460.4,582.3 460.9,582.3 461.4,582.3 461.9,582.3 462.4,582.3 462.9,582.3 463.4,582.3 463.9,582.3 464.4,582.3 464.9,582.3 465.4,582.3 465.9,582.3 466.4,582.3 466.9,582.3 467.4,582.3 467.9,582.3 468.4,582.3 468.9,582.3 469.4,582.3 469.9,582.3 470.4,582.3 470.9,582.3 471.4,582.3 471.9,582.3 472.4,582.3 472.9,582.3 473.4,582.3 473.9,582.3 474.4,582.3 474.9,582.3 475.4,582.3 475.9,582.3 476.4,582.3 476.9,582.3 477.4,582.3 477.9,582.3 478.4,582.3 478.9,582.3 479.4,582.3 479.9,582.3 480.4,582.3 480.9,582.3 481.4,582.3 481.9,582.3 482.4,582.3 482.9,582.3 483.4,582.3 483.9,582.3 484.4,582.3 484.9,582.3 485.5,582.3 486.0,582.3 486.5,582.3 487.0,582.3 487.5,582.3 488.0,582.3 488.5,582.3 489.0,582.3 489.5,582.3 490.0,582.3 490.5,582.3 491.0,582.3 491.5,582.3 492.0,582.3 492.5,582.3 493.0,582.3 493.5,582.3 494.0,582.3 494.5,582.3 495.0,582.3 495.5,582.3 496.0,582.3 496.5,582.3 497.0,582.3 497.5,582.3 498.0,582.3 498.5,582.3 499.0,582.3 499.5,582.3 500.0,582.3 500.5,582.3 501.0,582.3 501.5,582.3 502.0,582.3 502.5,582.3 503.0,582.3 503.5,582.3 504.0,582.3 504.5,582.3 505.0,582.3 505.5,582.3 506.0,582.3 506.5,582.3 507.0,582.3 507.5,582.3 508.0,582.3 508.5,582.3 509.0,582.3 509.5,582.3 510.0,582.3 510.5,582.3 511.0,582.3 511.5,582.3 512.0,582.3 512.5,582.3 513.0,582.3 513.5,582.3 514.0,582.3 514.5,582.3 515.0,582.3 515.5,582.3 516.0,582.3 516.5,582.3 517.0,582.3 517.0,582.3" fill="#f9cfcf" fill-opacity="0.75" stroke="none"/>
<line x1="388.30" y1="582.30" x2="517.00" y2="582.30" stroke="#f0aaaa" stroke-width="0.9"/>
<polyline points="388.3,582.3 388.8,582.3 389.3,582.3 389.8,582.3 390.3,582.3 390.8,582.3 391.3,582.3 391.8,582.3 392.3,582.3 392.8,582.3 393.3,582.3 393.8,582.3 394.3,582.3 394.8,582.3 395.3,582.3 395.8,582.3 396.3,582.3 396.8,582.3 397.3,582.3 397.8,582.3 398.3,582.3 398.8,582.3 399.3,582.3 399.8,582.3 400.3,582.3 400.8,582.3 401.3,582.2 401.8,582.1 402.3,581.8 402.8,581.0 403.3,579.4 403.8,576.5 404.3,571.8 404.8,565.1 405.3,556.9 405.8,548.1 406.3,539.7 406.8,532.8 407.3,526.7 407.5,524.3 407.8,528.6 408.3,534.8 408.8,542.2 409.3,550.9 409.8,559.6 410.3,567.4 410.8,573.3 411.3,577.4 411.8,579.7 412.3,580.9 412.8,581.3 413.3,581.2 413.8,581.0 414.3,580.5 414.8,579.8 415.3,579.0 415.8,577.8 416.3,576.4 416.8,574.7 417.3,572.6 417.8,570.0 418.3,567.0 418.8,563.6 419.3,559.6 419.8,555.1 420.4,550.2 420.9,544.8 421.4,539.1 421.9,533.2 422.4,527.1 422.9,521.0 423.4,515.0 423.9,509.2 424.4,503.7 424.9,498.6 425.4,493.8 425.9,489.2 426.4,484.8 426.9,480.1 427.1,477.6 427.4,480.3 427.9,485.0 428.4,489.4 428.9,494.0 429.4,498.8 429.9,503.9 430.4,509.4 430.9,515.2 431.4,521.3 431.9,527.4 432.4,533.4 432.9,539.4 433.4,545.0 433.9,550.4 434.4,555.3 434.9,559.7 435.4,563.7 435.9,567.2 436.4,570.2 436.9,572.7 437.4,574.8 437.9,576.5 438.4,577.9 438.9,579.0 439.4,579.9 439.9,580.5 440.4,581.0 440.9,581.4 441.4,581.7 441.9,581.9 442.4,582.0 442.9,582.1 443.4,582.2 443.9,582.2 444.4,582.2 444.9,582.3 445.4,582.3 445.9,582.3 446.4,582.3 446.9,582.3 447.4,582.3 447.9,582.3 448.4,582.3 448.9,582.3 449.4,582.3 449.9,582.3 450.4,582.3 450.9,582.3 451.4,582.3 451.9,582.3 452.4,582.3 452.9,582.3 453.4,582.3 453.9,582.3 454.4,582.3 454.9,582.3 455.4,582.3 455.9,582.3 456.4,582.3 456.9,582.3 457.4,582.3 457.9,582.3 458.4,582.3 458.9,582.3 459.4,582.3 459.9,582.3 460.4,582.3 460.9,582.3 461.4,582.3 461.9,582.3 462.4,582.3 462.9,582.3 463.4,582.3 463.9,582.3 464.4,582.3 464.9,582.3 465.4,582.3 465.9,582.3 466.4,582.3 466.9,582.3 467.4,582.3 467.9,582.3 468.4,582.3 468.9,582.3 469.4,582.3 469.9,582.3 470.4,582.3 470.9,582.3 471.4,582.3 471.9,582.3 472.4,582.3 472.9,582.3 473.4,582.3 473.9,582.3 474.4,582.3 474.9,582.3 475.4,582.3 475.9,582.3 476.4,582.3 476.9,582.3 477.4,582.3 477.9,582.3 478.4,582.3 478.9,582.3 479.4,582.3 479.9,582.3 480.4,582.3 480.9,582.3 481.4,582.3 481.9,582.3 482.4,582.3 482.9,582.3 483.4,582.3 483.9,582.3 484.4,582.3 484.9,582.3 485.5,582.3 486.0,582.3 486.5,582.3 487.0,582.3 487.5,582.3 488.0,582.3 488.5,582.3 489.0,582.3 489.5,582.3 490.0,582.3 490.5,582.3 491.0,582.3 491.5,582.3 492.0,582.3 492.5,582.3 493.0,582.3 493.5,582.3 494.0,582.3 494.5,582.3 495.0,582.3 495.5,582.3 496.0,582.3 496.5,582.3 497.0,582.3 497.5,582.3 498.0,582.3 498.5,582.3 499.0,582.3 499.5,582.3 500.0,582.3 500.5,582.3 501.0,582.3 501.5,582.3 502.0,582.3 502.5,582.3 503.0,582.3 503.5,582.3 504.0,582.3 504.5,582.3 505.0,582.3 505.5,582.3 506.0,582.3 506.5,582.3 507.0,582.3 507.5,582.3 508.0,582.3 508.5,582.3 509.0,582.3 509.5,582.3 510.0,582.3 510.5,582.3 511.0,582.3 511.5,582.3 512.0,582.3 512.5,582.3 513.0,582.3 513.5,582.3 514.0,582.3 514.5,582.3 515.0,582.3 515.5,582.3 516.0,582.3 516.5,582.3 517.0,582.3" fill="none" stroke="#f2a6a6" stroke-width="0.8" stroke-linejoin="round"/>
<line x1="388.3" y1="582.3" x2="517" y2="582.3" stroke="#222" stroke-width="0.9"/>
<line x1="388.30" y1="582.3" x2="388.30" y2="584.5999999999999" stroke="#333" stroke-width="0.7"/>
<line x1="393.20" y1="582.3" x2="393.20" y2="584.5999999999999" stroke="#333" stroke-width="0.7"/>
<line x1="398.10" y1="582.3" x2="398.10" y2="584.5999999999999" stroke="#333" stroke-width="0.7"/>
<line x1="403.00" y1="582.3" x2="403.00" y2="584.5999999999999" stroke="#333" stroke-width="0.7"/>
<line x1="407.90" y1="582.3" x2="407.90" y2="584.5999999999999" stroke="#333" stroke-width="0.7"/>
<line x1="412.80" y1="582.3" x2="412.80" y2="584.5999999999999" stroke="#333" stroke-width="0.7"/>
<line x1="417.70" y1="582.3" x2="417.70" y2="584.5999999999999" stroke="#333" stroke-width="0.7"/>
<line x1="422.60" y1="582.3" x2="422.60" y2="584.5999999999999" stroke="#333" stroke-width="0.7"/>
<line x1="427.50" y1="582.3" x2="427.50" y2="584.5999999999999" stroke="#333" stroke-width="0.7"/>
<line x1="432.40" y1="582.3" x2="432.40" y2="584.5999999999999" stroke="#333" stroke-width="0.7"/>
<line x1="437.30" y1="582.3" x2="437.30" y2="584.5999999999999" stroke="#333" stroke-width="0.7"/>
<line x1="442.20" y1="582.3" x2="442.20" y2="584.5999999999999" stroke="#333" stroke-width="0.7"/>
<line x1="447.10" y1="582.3" x2="447.10" y2="584.5999999999999" stroke="#333" stroke-width="0.7"/>
<line x1="452.00" y1="582.3" x2="452.00" y2="584.5999999999999" stroke="#333" stroke-width="0.7"/>
<line x1="456.90" y1="582.3" x2="456.90" y2="584.5999999999999" stroke="#333" stroke-width="0.7"/>
<line x1="461.80" y1="582.3" x2="461.80" y2="584.5999999999999" stroke="#333" stroke-width="0.7"/>
<line x1="466.70" y1="582.3" x2="466.70" y2="584.5999999999999" stroke="#333" stroke-width="0.7"/>
<line x1="471.60" y1="582.3" x2="471.60" y2="584.5999999999999" stroke="#333" stroke-width="0.7"/>
<line x1="476.50" y1="582.3" x2="476.50" y2="584.5999999999999" stroke="#333" stroke-width="0.7"/>
<line x1="481.40" y1="582.3" x2="481.40" y2="584.5999999999999" stroke="#333" stroke-width="0.7"/>
<line x1="486.30" y1="582.3" x2="486.30" y2="584.5999999999999" stroke="#333" stroke-width="0.7"/>
<line x1="491.20" y1="582.3" x2="491.20" y2="584.5999999999999" stroke="#333" stroke-width="0.7"/>
<line x1="496.10" y1="582.3" x2="496.10" y2="584.5999999999999" stroke="#333" stroke-width="0.7"/>
<line x1="501.00" y1="582.3" x2="501.00" y2="584.5999999999999" stroke="#333" stroke-width="0.7"/>
<line x1="505.90" y1="582.3" x2="505.90" y2="584.5999999999999" stroke="#333" stroke-width="0.7"/>
<line x1="510.80" y1="582.3" x2="510.80" y2="584.5999999999999" stroke="#333" stroke-width="0.7"/>
<line x1="515.70" y1="582.3" x2="515.70" y2="584.5999999999999" stroke="#333" stroke-width="0.7"/>
<line x1="388.30" y1="582.3" x2="388.30" y2="585.9" stroke="#111" stroke-width="1.1"/>
<line x1="412.80" y1="582.3" x2="412.80" y2="585.9" stroke="#111" stroke-width="1.1"/>
<line x1="437.30" y1="582.3" x2="437.30" y2="585.9" stroke="#111" stroke-width="1.1"/>
<line x1="461.80" y1="582.3" x2="461.80" y2="585.9" stroke="#111" stroke-width="1.1"/>
<line x1="486.30" y1="582.3" x2="486.30" y2="585.9" stroke="#111" stroke-width="1.1"/>
<line x1="510.80" y1="582.3" x2="510.80" y2="585.9" stroke="#111" stroke-width="1.1"/>
<text transform="translate(388.30,592.90) scale(1.180,1)" font-size="5.2" text-anchor="middle" font-weight="normal" fill="#444" >0</text>
<text transform="translate(412.80,592.90) scale(1.180,1)" font-size="5.2" text-anchor="middle" font-weight="normal" fill="#444" >50K</text>
<text transform="translate(437.30,592.90) scale(1.180,1)" font-size="5.2" text-anchor="middle" font-weight="normal" fill="#444" >100K</text>
<text transform="translate(461.80,592.90) scale(1.180,1)" font-size="5.2" text-anchor="middle" font-weight="normal" fill="#444" >150K</text>
<text transform="translate(486.30,592.90) scale(1.180,1)" font-size="5.2" text-anchor="middle" font-weight="normal" fill="#444" >200K</text>
<text transform="translate(510.80,592.90) scale(1.180,1)" font-size="5.2" text-anchor="middle" font-weight="normal" fill="#444" >250K</text>
<line x1="407.9" y1="440" x2="407.9" y2="582" stroke="#666" stroke-width="1.05" stroke-dasharray="13.5,13.8" stroke-dashoffset="9"/>
<text transform="translate(550.70,564.70)" font-size="11.8" text-anchor="start" font-weight="normal" fill="#111" >PD2</text>
<text transform="translate(521.20,588.50)" font-size="11.8" text-anchor="start" font-weight="normal" fill="#111" >PD8</text>
<line x1="546.6" y1="569.1" x2="538.96" y2="575.62" stroke="#1a1a1a" stroke-width="1.0"/>
<polygon points="538.14,573.98 536.4,577.8 540.45,576.68" fill="#1a1a1a"/>
</svg></body></html>
